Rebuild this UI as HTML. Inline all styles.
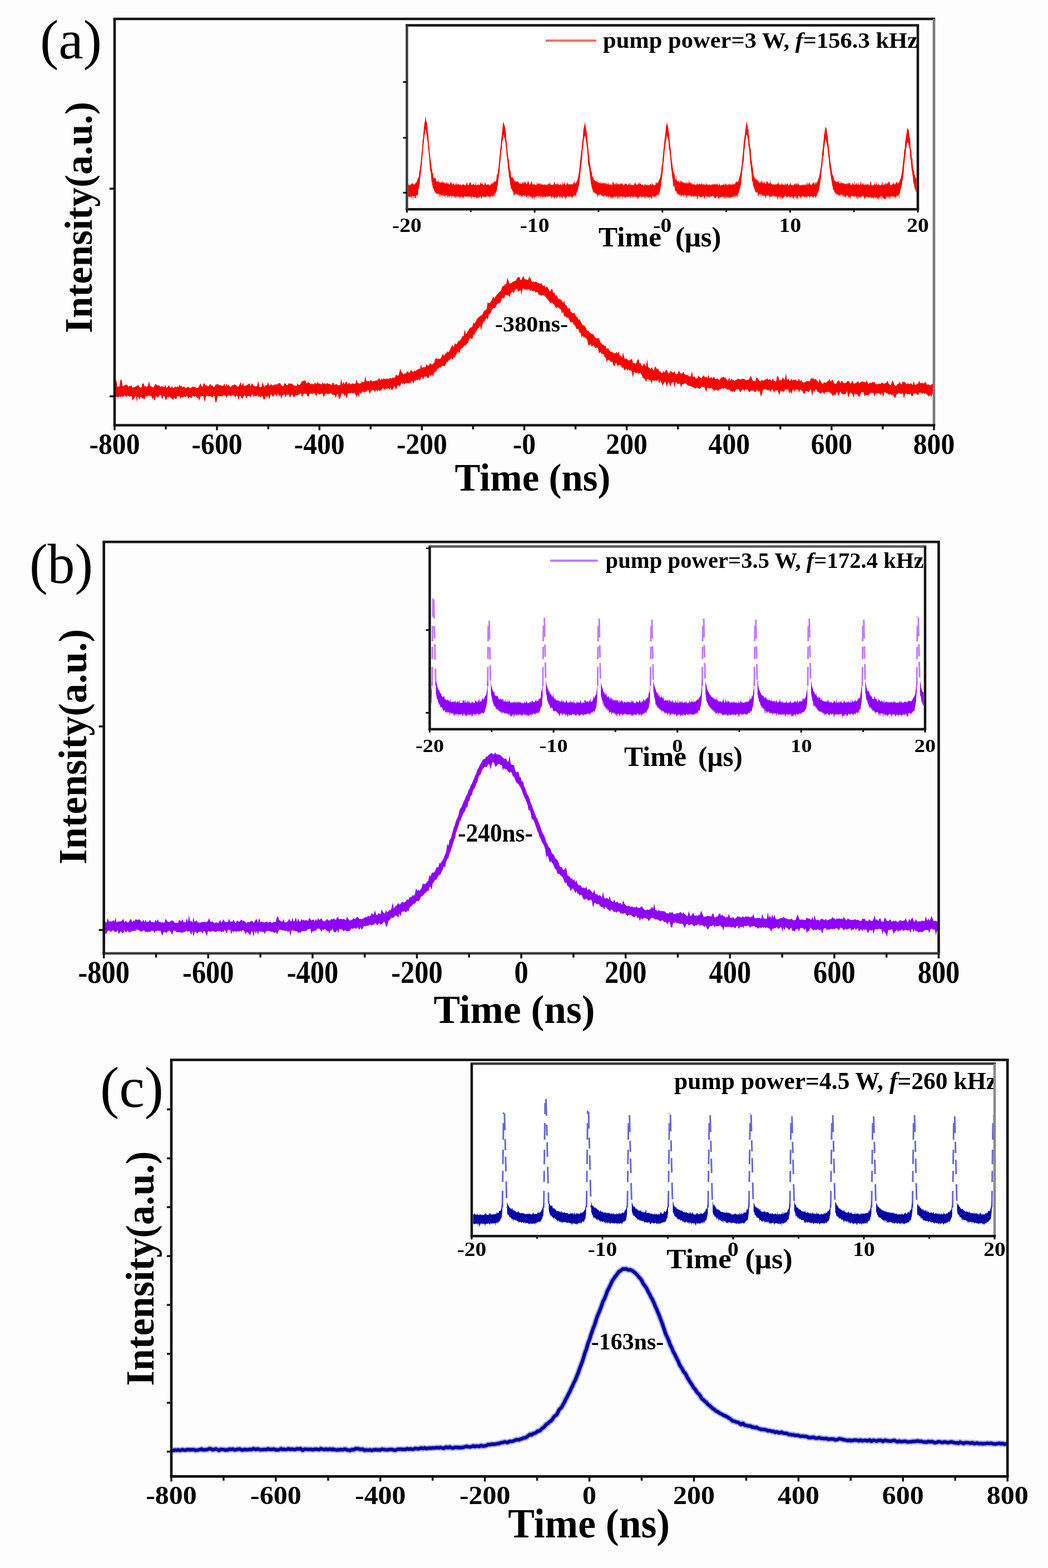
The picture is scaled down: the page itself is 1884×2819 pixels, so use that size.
<!DOCTYPE html>
<html><head><meta charset="utf-8"><style>
html,body{margin:0;padding:0;background:#fff;}
svg{display:block;font-family:"Liberation Serif","Times New Roman",serif;}
</style></head><body>
<svg width="1884" height="2819" viewBox="0 0 1884 2819">
<rect width="1884" height="2819" fill="#fdfdfd"/>
<polyline points="207.5,703.7 208.7,703.6 210,703.4 211.2,703.1 212.5,703.2 213.7,703.8 215,703.8 216.2,703.9 217.5,705 218.7,705 220,704.4 221.2,704.2 222.5,704 223.7,704.1 225,704 226.2,703.9 227.5,704.6 228.7,705.4 230,705.3 231.2,704.6 232.5,703.9 233.7,703.3 235,703.5 236.2,703.6 237.5,703.5 238.7,704.3 240,705.9 241.2,706.5 242.5,705.7 243.7,704.5 245,703.3 246.2,702.6 247.5,702.9 248.7,703.9 250,704.2 251.2,703.5 252.5,703.2 253.7,703.8 255,704.2 256.2,704.5 257.5,704.7 258.7,704.3 260,703.6 261.2,703.5 262.5,704.2 263.7,704.8 265,704.6 266.2,704.3 267.4,704.4 268.7,704.6 269.9,704.7 271.2,704.7 272.4,704.3 273.7,703.8 274.9,703.4 276.2,703.1 277.4,703.2 278.7,703.2 279.9,703.7 281.2,704 282.4,703.8 283.7,703.3 284.9,702.8 286.2,703.1 287.4,703.6 288.7,703.6 289.9,703.5 291.2,702.9 292.4,702.6 293.7,703 294.9,703.6 296.2,703.8 297.4,703.6 298.7,704.1 299.9,704.6 301.2,704.1 302.4,703.7 303.7,703.8 304.9,703.5 306.2,703 307.4,702.9 308.7,703.6 309.9,703.7 311.2,703.6 312.4,703.8 313.7,704.7 314.9,705.1 316.2,704.9 317.4,704.5 318.7,704.6 319.9,705 321.2,705 322.4,704.5 323.7,703.9 324.9,703.4 326.1,703 327.4,703.1 328.6,703.4 329.9,703.1 331.1,702.7 332.4,703.4 333.6,704 334.9,703.4 336.1,702.7 337.4,703.3 338.6,704.1 339.9,704.2 341.1,704.4 342.4,705.4 343.6,705.5 344.9,704.8 346.1,704.5 347.4,704.6 348.6,704.9 349.9,705.1 351.1,704.7 352.4,703.8 353.6,703 354.9,703 356.1,703.7 357.4,704.3 358.6,704.2 359.9,703.9 361.1,703.8 362.4,703.7 363.6,703.3 364.9,702.3 366.1,701.7 367.4,702.1 368.6,703 369.9,703.8 371.1,703.6 372.4,702.8 373.6,702.4 374.9,702.8 376.1,703.4 377.4,704 378.6,703.9 379.9,703.1 381.1,702.3 382.4,701.6 383.6,702.4 384.8,703.8 386.1,704.1 387.3,703.5 388.6,702.7 389.8,701.9 391.1,702 392.3,703.1 393.6,703.4 394.8,702.7 396.1,703.1 397.3,703.7 398.6,703.5 399.8,702.7 401.1,702.4 402.3,702.3 403.6,701.8 404.8,701.5 406.1,701.9 407.3,702.6 408.6,703 409.8,702.9 411.1,702.6 412.3,702.3 413.6,702.5 414.8,703.1 416.1,703.1 417.3,703.2 418.6,703.8 419.8,704.2 421.1,704.1 422.3,703.4 423.6,703 424.8,703 426.1,703.3 427.3,703.6 428.6,703.4 429.8,703.2 431.1,703 432.3,702.6 433.6,701.9 434.8,702.2 436.1,702.6 437.3,702.7 438.6,703.2 439.8,702.8 441.1,702 442.3,701.9 443.5,702.4 444.8,702.4 446,702.1 447.3,702.5 448.5,703 449.8,703.1 451,702.3 452.3,701.3 453.5,700.5 454.8,700.2 456,701 457.3,702.1 458.5,702.3 459.8,702.1 461,702.3 462.3,702.8 463.5,702.9 464.8,702.6 466,702.2 467.3,702 468.5,701.9 469.8,701 471,700.4 472.3,700.6 473.5,700.7 474.8,700.8 476,701.3 477.3,701.9 478.5,701.8 479.8,701.1 481,700.4 482.3,700.7 483.5,701.3 484.8,701.3 486,701.3 487.3,701.1 488.5,700.9 489.8,700.8 491,700.7 492.3,700.7 493.5,701.3 494.8,702 496,702.1 497.3,702 498.5,701 499.8,700.3 501,700.5 502.2,701.3 503.5,702.2 504.7,702.4 506,702.4 507.2,702.6 508.5,702.8 509.7,702.2 511,701.1 512.2,700.1 513.5,700 514.7,700.7 516,701.4 517.2,701.2 518.5,700.6 519.7,700.4 521,700.2 522.2,699.8 523.5,699.4 524.7,699.3 526,700.4 527.2,701.1 528.5,700.2 529.7,699.2 531,698.6 532.2,699 533.5,699.6 534.7,699.4 536,699.4 537.2,699.4 538.5,699.5 539.7,700 541,700.5 542.2,700.8 543.5,700.5 544.7,700.3 546,700.6 547.2,700.3 548.5,699.5 549.7,699.8 551,700.5 552.2,700.5 553.5,699.7 554.7,698.7 556,698.1 557.2,698.1 558.5,699.4 559.7,700.7 560.9,700.8 562.2,700 563.4,699 564.7,698.3 565.9,698.4 567.2,698.7 568.4,698.8 569.7,699 570.9,699.1 572.2,698.3 573.4,698 574.7,698.5 575.9,698.9 577.2,698.8 578.4,698.6 579.7,699 580.9,699.3 582.2,699.2 583.4,699 584.7,699.2 585.9,699.3 587.2,699 588.4,699 589.7,699.2 590.9,698.8 592.2,697.4 593.4,696.9 594.7,697.5 595.9,698.2 597.2,698.6 598.4,699 599.7,699 600.9,698.4 602.2,698.2 603.4,698.4 604.7,698.7 605.9,699.2 607.2,699.2 608.4,698.6 609.7,698.7 610.9,699.8 612.2,700.2 613.4,699.9 614.7,699.6 615.9,699.6 617.2,699.7 618.4,699.3 619.6,699.1 620.9,699.3 622.1,699 623.4,698.4 624.6,698.6 625.9,699.6 627.1,700.2 628.4,700 629.6,698.9 630.9,698.4 632.1,699 633.4,699.5 634.6,699.5 635.9,699.4 637.1,699 638.4,697.8 639.6,696.8 640.9,696.8 642.1,697.3 643.4,698 644.6,698.4 645.9,698.4 647.1,698.2 648.4,697.8 649.6,697.7 650.9,697.3 652.1,696.9 653.4,696.5 654.6,696.4 655.9,696.6 657.1,696.7 658.4,696.5 659.6,696 660.9,695.6 662.1,695.1 663.4,694.3 664.6,693.7 665.9,693.8 667.1,695 668.4,696 669.6,695.2 670.9,693.9 672.1,693.6 673.4,693.7 674.6,692.9 675.9,691.8 677.1,691.3 678.3,691.3 679.6,691.7 680.8,692.1 682.1,691.6 683.3,690.6 684.6,690 685.8,689.5 687.1,689.2 688.3,689.7 689.6,690.5 690.8,690.4 692.1,690.2 693.3,689.8 694.6,689.2 695.8,689 697.1,688.9 698.3,689 699.6,689 700.8,688.2 702.1,687.4 703.3,687.6 704.6,687.8 705.8,686.9 707.1,685.4 708.3,684.3 709.6,683.8 710.8,684 712.1,684.3 713.3,683.7 714.6,682.5 715.8,682.2 717.1,682.5 718.3,682.9 719.6,682.7 720.8,681.7 722.1,680.9 723.3,680.6 724.6,680.2 725.8,679.4 727.1,679.1 728.3,679.8 729.6,681 730.8,681.1 732.1,679.6 733.3,678.2 734.6,677.7 735.8,677.6 737,677.3 738.3,676.7 739.5,676.5 740.8,676.6 742,676.6 743.3,676.5 744.5,676.2 745.8,675.1 747,674.2 748.3,674.1 749.5,673.9 750.8,673.6 752,673.4 753.3,672.6 754.5,671.9 755.8,671.8 757,671.8 758.3,671 759.5,670.1 760.8,669.5 762,669.4 763.3,669 764.5,669 765.8,669.1 767,668.8 768.3,667.7 769.5,666.1 770.8,665.2 772,664.9 773.3,664.5 774.5,663.9 775.8,662.6 777,661.4 778.3,661 779.5,660.5 780.8,659.1 782,658 783.3,657.3 784.5,656.5 785.8,655.2 787,654.4 788.3,654.2 789.5,654.4 790.8,654.4 792,653.2 793.3,651.5 794.5,650.3 795.7,648.1 797,646.1 798.2,645.5 799.5,645.5 800.7,644.5 802,643.1 803.2,642.5 804.5,642 805.7,641.2 807,640.2 808.2,639.4 809.5,638 810.7,636.7 812,636.1 813.2,635.2 814.5,634.1 815.7,632.6 817,630.6 818.2,628.9 819.5,627.4 820.7,626.3 822,625.7 823.2,625.2 824.5,624.5 825.7,623 827,620.9 828.2,619.9 829.5,620 830.7,618.5 832,615.4 833.2,612.9 834.5,611.6 835.7,611 837,610.2 838.2,608.8 839.5,606.9 840.7,604.9 842,603.3 843.2,601.8 844.5,600.4 845.7,599 847,597.1 848.2,595 849.5,593.5 850.7,592.2 852,590.6 853.2,589.1 854.4,587.5 855.7,586.1 856.9,584.9 858.2,583.5 859.4,582.4 860.7,581.4 861.9,579.9 863.2,578.1 864.4,576.1 865.7,574.1 866.9,572.5 868.2,571.3 869.4,569 870.7,566.3 871.9,564.6 873.2,563.9 874.4,562.7 875.7,561.1 876.9,559.4 878.2,557.7 879.4,556 880.7,554.3 881.9,553.4 883.2,552.4 884.4,550.3 885.7,547.4 886.9,545.3 888.2,544.1 889.4,543.6 890.7,542.8 891.9,540.8 893.2,538.7 894.4,537.7 895.7,536.8 896.9,535.7 898.2,534.5 899.4,533 900.7,532.1 901.9,530.7 903.2,528.2 904.4,526.8 905.7,526.6 906.9,525.8 908.2,523.5 909.4,522.1 910.7,521 911.9,519.6 913.1,518.3 914.4,517.4 915.6,516.7 916.9,516.2 918.1,516 919.4,514.9 920.6,513.9 921.9,513.4 923.1,513.1 924.4,512.7 925.6,512.3 926.9,512.5 928.1,513.1 929.4,512.7 930.6,511.8 931.9,511.1 933.1,510.4 934.4,509.7 935.6,508.9 936.9,508.6 938.1,509.3 939.4,510.2 940.6,510.4 941.9,510.3 943.1,510.2 944.4,510.3 945.6,510.6 946.9,510.6 948.1,510.2 949.4,509.8 950.6,510.5 951.9,511.9 953.1,512.6 954.4,512.2 955.6,512 956.9,513 958.1,513.5 959.4,513.6 960.6,513.9 961.9,514.9 963.1,516.3 964.4,516.7 965.6,516.1 966.9,516.5 968.1,517.5 969.4,517.9 970.6,518.1 971.9,519.6 973.1,521 974.3,521.3 975.6,522 976.8,523.1 978.1,523.3 979.3,523.1 980.6,523.4 981.8,524.4 983.1,525.7 984.3,527.2 985.6,528.7 986.8,530.3 988.1,532.2 989.3,533.5 990.6,533.7 991.8,534.1 993.1,535.9 994.3,537.4 995.6,538.5 996.8,539.3 998.1,540.3 999.3,541.5 1000.6,543 1001.8,544.3 1003.1,545.1 1004.3,546.2 1005.6,547.2 1006.8,547.8 1008.1,548.4 1009.3,549.4 1010.6,550.1 1011.8,551.7 1013.1,554.1 1014.3,556.6 1015.6,558.5 1016.8,559.8 1018.1,560.8 1019.3,561.9 1020.6,563.4 1021.8,564.6 1023.1,565.2 1024.3,565.4 1025.6,566.6 1026.8,568.4 1028.1,569.8 1029.3,571.1 1030.6,573.6 1031.8,575.8 1033,577.1 1034.3,578.2 1035.5,579.7 1036.8,580.9 1038,582.2 1039.3,583.4 1040.5,584.5 1041.8,585.9 1043,587.7 1044.3,589.9 1045.5,591.8 1046.8,593.1 1048,594 1049.3,595 1050.5,596.4 1051.8,597.6 1053,598 1054.3,598.6 1055.5,599.6 1056.8,600.6 1058,602.1 1059.3,603.6 1060.5,604.7 1061.8,606.3 1063,608 1064.3,609.4 1065.5,610.8 1066.8,612 1068,612.5 1069.3,613.4 1070.5,614.9 1071.8,616.1 1073,617.1 1074.3,618.6 1075.5,619.9 1076.8,620.8 1078,621.9 1079.3,623.7 1080.5,625.7 1081.8,627.1 1083,628.1 1084.3,629.3 1085.5,631 1086.8,631.8 1088,631.5 1089.3,631.8 1090.5,634.1 1091.7,636.4 1093,636.8 1094.2,637.2 1095.5,638.4 1096.7,639.3 1098,640.1 1099.2,640.7 1100.5,641 1101.7,642.2 1103,643.5 1104.2,644.2 1105.5,644.9 1106.7,645.8 1108,647 1109.2,647.5 1110.5,647.1 1111.7,647.4 1113,648.1 1114.2,648.4 1115.5,648.7 1116.7,649.5 1118,650.2 1119.2,651 1120.5,652.1 1121.7,653.3 1123,654 1124.2,654.5 1125.5,654.6 1126.7,654.2 1128,654.8 1129.2,655.7 1130.5,656.1 1131.7,656.5 1133,657.4 1134.2,657.8 1135.5,658.5 1136.7,659.5 1138,659.8 1139.2,659.5 1140.5,659.9 1141.7,660.9 1143,661.9 1144.2,662.3 1145.5,662.1 1146.7,661.9 1148,662.6 1149.2,663.7 1150.4,664.1 1151.7,664.9 1152.9,665.8 1154.2,666.8 1155.4,667.6 1156.7,668 1157.9,667.8 1159.2,667.4 1160.4,667.3 1161.7,667.9 1162.9,668.7 1164.2,669.9 1165.4,671.1 1166.7,671.7 1167.9,672 1169.2,672.1 1170.4,672.1 1171.7,671.5 1172.9,671.1 1174.2,672 1175.4,673.2 1176.7,674.1 1177.9,674.5 1179.2,675.1 1180.4,675.8 1181.7,676 1182.9,675.9 1184.2,675.7 1185.4,675.3 1186.7,675.8 1187.9,676.9 1189.2,677.4 1190.4,676.9 1191.7,676.7 1192.9,677.8 1194.2,678.8 1195.4,678.6 1196.7,678.3 1197.9,678.5 1199.2,679.3 1200.4,680.3 1201.7,680.8 1202.9,680.4 1204.2,680.2 1205.4,680.6 1206.7,680.3 1207.9,679.8 1209.1,679.6 1210.4,679.7 1211.6,680 1212.9,680.3 1214.1,680.6 1215.4,680.8 1216.6,680.8 1217.9,680.7 1219.1,680.7 1220.4,681.1 1221.6,681.4 1222.9,681.7 1224.1,681.7 1225.4,680.8 1226.6,680.6 1227.9,681.7 1229.1,682.7 1230.4,683.1 1231.6,682.8 1232.9,683.1 1234.1,684.1 1235.4,684.1 1236.6,683.5 1237.9,683.5 1239.1,683.9 1240.4,684.4 1241.6,685 1242.9,685.1 1244.1,684.7 1245.4,685.1 1246.6,686.3 1247.9,687.2 1249.1,687.2 1250.4,686.9 1251.6,687.1 1252.9,686.9 1254.1,686.7 1255.4,687 1256.6,687.8 1257.9,689.2 1259.1,689.2 1260.4,688.1 1261.6,687.2 1262.9,687.2 1264.1,687.9 1265.4,688.4 1266.6,688.2 1267.8,688.3 1269.1,688.5 1270.3,688.1 1271.6,687.9 1272.8,688.7 1274.1,689.4 1275.3,689.2 1276.6,688.2 1277.8,687.5 1279.1,688.2 1280.3,690.1 1281.6,691.8 1282.8,692 1284.1,690.7 1285.3,689.5 1286.6,689.8 1287.8,690.6 1289.1,691.1 1290.3,691.3 1291.6,691.2 1292.8,690 1294.1,689.2 1295.3,689.5 1296.6,690.8 1297.8,692 1299.1,691.5 1300.3,691.1 1301.6,691.7 1302.8,692.3 1304.1,692.2 1305.3,692.3 1306.6,692.5 1307.8,692.3 1309.1,692 1310.3,692.4 1311.6,692.8 1312.8,692.8 1314.1,692.8 1315.3,692.6 1316.6,692.1 1317.8,692.1 1319.1,692.2 1320.3,692.4 1321.6,692.9 1322.8,692.4 1324.1,691.4 1325.3,691.2 1326.5,691.3 1327.8,691.6 1329,692 1330.3,692.3 1331.5,692.6 1332.8,692.7 1334,692.3 1335.3,692 1336.5,692.1 1337.8,692.2 1339,691.9 1340.3,692.4 1341.5,692.6 1342.8,692 1344,691.1 1345.3,691.6 1346.5,692.6 1347.8,693 1349,692.7 1350.3,692 1351.5,691.7 1352.8,692 1354,692.6 1355.3,692.8 1356.5,692.5 1357.8,692.2 1359,692.1 1360.3,692.1 1361.5,691.9 1362.8,692 1364,692.1 1365.3,692.1 1366.5,692.5 1367.8,693 1369,692.9 1370.3,693.2 1371.5,693.7 1372.8,693.6 1374,693.2 1375.3,692.6 1376.5,691.7 1377.8,691.3 1379,691.8 1380.3,692.4 1381.5,693.3 1382.8,694.3 1384,694.3 1385.2,693.4 1386.5,692.7 1387.7,692.3 1389,692.2 1390.2,692.4 1391.5,693 1392.7,692.9 1394,692.7 1395.2,692.7 1396.5,693.6 1397.7,694.3 1399,694.2 1400.2,693 1401.5,691.7 1402.7,691.5 1404,692.3 1405.2,693.1 1406.5,692.8 1407.7,692.7 1409,693.2 1410.2,693.5 1411.5,693.1 1412.7,692.2 1414,691.1 1415.2,690.9 1416.5,691.8 1417.7,693.4 1419,694 1420.2,693.7 1421.5,693.9 1422.7,694.2 1424,694.3 1425.2,694.3 1426.5,694.1 1427.7,692.9 1429,691.5 1430.2,691.7 1431.5,693.2 1432.7,693.4 1434,692.6 1435.2,692.7 1436.5,692.8 1437.7,692.4 1439,692.4 1440.2,693.5 1441.5,694.4 1442.7,695.1 1443.9,695.6 1445.2,696 1446.4,695.9 1447.7,695.2 1448.9,694.5 1450.2,694.3 1451.4,694.4 1452.7,694.2 1453.9,694.3 1455.2,695 1456.4,694.4 1457.7,692.9 1458.9,692.7 1460.2,693.5 1461.4,694.4 1462.7,695.3 1463.9,695.8 1465.2,696.1 1466.4,696.4 1467.7,696.4 1468.9,695.9 1470.2,695.9 1471.4,696.1 1472.7,696.4 1473.9,696.7 1475.2,696.9 1476.4,696.4 1477.7,695.7 1478.9,695.3 1480.2,695.4 1481.4,696.2 1482.7,696.5 1483.9,695.6 1485.2,694.9 1486.4,695.2 1487.7,695.7 1488.9,695.8 1490.2,695.8 1491.4,695.9 1492.7,696.3 1493.9,696.9 1495.2,697 1496.4,697.1 1497.7,697.2 1498.9,697 1500.2,696.8 1501.4,696.5 1502.6,696.4 1503.9,696.5 1505.1,696.5 1506.4,695.9 1507.6,695.6 1508.9,695.9 1510.1,696.7 1511.4,697.4 1512.6,697.3 1513.9,697.1 1515.1,697.4 1516.4,697.6 1517.6,697.3 1518.9,696.7 1520.1,696 1521.4,696.7 1522.6,698.2 1523.9,698.7 1525.1,698.1 1526.4,697.6 1527.6,697.8 1528.9,698.1 1530.1,698.8 1531.4,699 1532.6,698.3 1533.9,697.8 1535.1,697.9 1536.4,697.7 1537.6,697.4 1538.9,697.4 1540.1,697.8 1541.4,698.4 1542.6,699.1 1543.9,699.9 1545.1,700.2 1546.4,699.4 1547.6,698.5 1548.9,697.8 1550.1,697.5 1551.4,697.7 1552.6,698.5 1553.9,698.6 1555.1,698.4 1556.4,698.5 1557.6,698.6 1558.9,698.6 1560.1,699.3 1561.3,699.8 1562.6,698.9 1563.8,697.9 1565.1,697.9 1566.3,698.5 1567.6,698.4 1568.8,697.8 1570.1,697.7 1571.3,698 1572.6,698.7 1573.8,699.4 1575.1,699.1 1576.3,698.5 1577.6,697.8 1578.8,697.1 1580.1,697.1 1581.3,697.8 1582.6,698.2 1583.8,698.7 1585.1,699.7 1586.3,700.2 1587.6,700.3 1588.8,700.2 1590.1,700.2 1591.3,700.3 1592.6,699.1 1593.8,697.3 1595.1,697.1 1596.3,698.4 1597.6,699.6 1598.8,700.1 1600.1,700.2 1601.3,699.9 1602.6,699.7 1603.8,699.5 1605.1,699.1 1606.3,699.3 1607.6,700 1608.8,700.6 1610.1,700.7 1611.3,700.2 1612.6,699.7 1613.8,700 1615.1,700.3 1616.3,700.2 1617.6,700.3 1618.8,700.6 1620,700.6 1621.3,700.2 1622.5,700 1623.8,699.8 1625,699.5 1626.3,699 1627.5,698.8 1628.8,698.8 1630,699.4 1631.3,700.2 1632.5,700.5 1633.8,700.5 1635,700.4 1636.3,700.4 1637.5,700.2 1638.8,700.2 1640,699.9 1641.3,699.3 1642.5,699.4 1643.8,700 1645,700.4 1646.3,701.2 1647.5,701.9 1648.8,701.4 1650,700.6 1651.3,700.2 1652.5,699.8 1653.8,699.7 1655,699.8 1656.3,699.6 1657.5,699.6 1658.8,699.7 1660,699.5 1661.3,699.6 1662.5,700.4 1663.8,700.6 1665,700 1666.3,699.2 1667.5,698.9 1668.8,699.5 1670,699.9 1671.3,699.9 1672.5,699.4 1673.8,699.4 1675,700.2 1676.3,700.9 1677.5,700.9" fill="none" stroke="#ff0000" stroke-width="7" stroke-linejoin="round"/>
<polygon points="207,688.8 209,683.4 210.9,695.5 212.9,695.3 214.9,693.9 216.8,682.1 218.8,683.5 220.7,694.9 222.7,693.3 224.7,692.6 226.6,691.6 228.6,691.6 230.6,695.6 232.5,694.1 234.5,694.3 236.5,692.5 238.4,697.3 240.4,696.1 242.4,695.9 244.3,694.3 246.3,693.9 248.2,691.4 250.2,694.9 252.2,697.1 254.1,696.8 256.1,689.8 258.1,689.3 260,695.1 262,694 264,695.7 265.9,693.4 267.9,685.3 269.8,693.9 271.8,694.2 273.8,696.5 275.7,696.2 277.7,694.1 279.7,690.1 281.6,691.9 283.6,693.3 285.6,692.3 287.5,694.7 289.5,695.2 291.4,694 293.4,696.1 295.4,696.1 297.3,691.8 299.3,697 301.3,695.9 303.2,692.5 305.2,695.4 307.2,697.6 309.1,694.2 311.1,697.6 313.1,697.3 315,694.6 317,696.8 318.9,694.2 320.9,696.5 322.9,691.3 324.8,694.9 326.8,693.2 328.8,697 330.7,694.2 332.7,697.1 334.7,697.6 336.6,695.5 338.6,696.1 340.5,696.7 342.5,698.1 344.5,696.2 346.4,694.7 348.4,695.7 350.4,695.2 352.3,697.1 354.3,697.9 356.3,697.1 358.2,693.8 360.2,689.3 362.2,693.6 364.1,696.1 366.1,689 368,690.3 370,693.8 372,691.8 373.9,695.2 375.9,693.3 377.9,690.1 379.8,693.1 381.8,692.8 383.8,695.9 385.7,695.4 387.7,691.3 389.6,691.2 391.6,689.9 393.6,693.1 395.5,692 397.5,693.2 399.5,693.5 401.4,693.7 403.4,689.6 405.4,695.4 407.3,689.5 409.3,694.5 411.3,690.7 413.2,696 415.2,694.9 417.1,692.8 419.1,692.4 421.1,691.2 423,691.4 425,693.3 427,694.9 428.9,694.7 430.9,691.1 432.9,686.7 434.8,694.1 436.8,687.8 438.7,693.9 440.7,693.5 442.7,692.8 444.6,692 446.6,690.3 448.6,689.5 450.5,694.8 452.5,688.9 454.5,691.3 456.4,693.7 458.4,694.3 460.3,694.7 462.3,693.4 464.3,684.2 466.2,695.4 468.2,696.1 470.2,695.5 472.1,686.7 474.1,693.7 476.1,695.4 478,691.8 480,692.9 482,687.3 483.9,693.4 485.9,692.6 487.8,690.2 489.8,693.7 491.8,692.1 493.7,691.8 495.7,690.7 497.7,691.8 499.6,690.1 501.6,689.1 503.6,688.6 505.5,692.4 507.5,694.1 509.4,694.3 511.4,688.8 513.4,690.1 515.3,692.5 517.3,692.3 519.3,688.6 521.2,690.3 523.2,690 525.2,689.2 527.1,693.1 529.1,692.7 531.1,693.6 533,694 535,688.8 536.9,692.8 538.9,691.8 540.9,689.5 542.8,684.9 544.8,685.6 546.8,684.2 548.7,683.5 550.7,689.5 552.7,688 554.6,686.8 556.6,688.8 558.5,691.3 560.5,689.6 562.5,690.7 564.4,691.3 566.4,686.9 568.4,691.3 570.3,686.3 572.3,689.6 574.3,689.3 576.2,690.2 578.2,691.8 580.2,687.1 582.1,690.7 584.1,688.2 586,691.5 588,688.1 590,690.4 591.9,690.1 593.9,690.2 595.9,692.7 597.8,688.4 599.8,688.2 601.8,692.8 603.7,690 605.7,691 607.6,692.8 609.6,692.4 611.6,692 613.5,680.9 615.5,691.5 617.5,686.2 619.4,690.9 621.4,687 623.4,685.9 625.3,691.5 627.3,687.2 629.2,690.5 631.2,691.1 633.2,688.8 635.1,690.3 637.1,689.4 639.1,689.9 641,681.5 643,689.1 645,688.8 646.9,690 648.9,689.1 650.9,685.7 652.8,687.6 654.8,686.9 656.7,676.6 658.7,684.8 660.7,685.8 662.6,684.6 664.6,686.5 666.6,682.5 668.5,685.5 670.5,685.8 672.5,684.7 674.4,684.7 676.4,683.8 678.3,684.4 680.3,681.6 682.3,680 684.2,684.1 686.2,680.3 688.2,682.7 690.1,679.8 692.1,682.1 694.1,681.6 696,680 698,681.9 700,679.7 701.9,679.8 703.9,680.9 705.8,679.1 707.8,679.2 709.8,678.8 711.7,673.8 713.7,674.6 715.7,675.9 717.6,671.4 719.6,662.4 721.6,668.8 723.5,670.3 725.5,673.6 727.4,671.5 729.4,671.5 731.4,669 733.3,667 735.3,670.9 737.3,668.1 739.2,665 741.2,667.8 743.2,668.7 745.1,665.8 747.1,667.5 749.1,664.8 751,664.8 753,662.5 754.9,664.1 756.9,655 758.9,662.3 760.8,660 762.8,660.1 764.8,660.6 766.7,654.9 768.7,657.6 770.7,657 772.6,653.4 774.6,653.5 776.5,655.8 778.5,653.6 780.5,652.3 782.4,645.1 784.4,643.9 786.4,645.8 788.3,644.5 790.3,645.7 792.3,644.2 794.2,640.3 796.2,636 798.1,640.2 800.1,635.7 802.1,635.6 804,631.6 806,633.8 808,630.4 809.9,626.8 811.9,622.1 813.9,620 815.8,624.8 817.8,616.7 819.8,619.1 821.7,618 823.7,613.1 825.6,613.1 827.6,611.2 829.6,608.3 831.5,604 833.5,604.6 835.5,591.7 837.4,601.2 839.4,598.2 841.4,594.8 843.3,591.5 845.3,588.9 847.2,588.7 849.2,587 851.2,579.3 853.1,582.1 855.1,577.9 857.1,574.3 859,571.4 861,570 863,568.5 864.9,566.9 866.9,566.7 868.9,561.3 870.8,558.5 872.8,557.6 874.7,555.7 876.7,543.6 878.7,545.1 880.6,545 882.6,541.5 884.6,538.9 886.5,532.4 888.5,536.5 890.5,533.5 892.4,530.7 894.4,528.5 896.3,526.1 898.3,524.6 900.3,522.7 902.2,517.3 904.2,514.1 906.2,514 908.1,510.6 910.1,511 912.1,499.4 914,504.7 916,509.9 918,509.3 919.9,509.1 921.9,506.2 923.8,505.9 925.8,505 927.8,504.1 929.7,499.8 931.7,497.7 933.7,497.9 935.6,503.2 937.6,503.3 939.6,498 941.5,496.4 943.5,502.6 945.4,502 947.4,503 949.4,503.3 951.3,497.6 953.3,499.3 955.3,505.2 957.2,506.9 959.2,506.3 961.2,507.4 963.1,506.1 965.1,507.5 967,509 969,509 971,510.2 972.9,509 974.9,511.9 976.9,514.6 978.8,512.8 980.8,517.3 982.8,514.9 984.7,517.3 986.7,521.2 988.7,524.3 990.6,520.8 992.6,518.7 994.5,526.9 996.5,525 998.5,532.5 1000.4,530 1002.4,534.3 1004.4,537.7 1006.3,537.4 1008.3,538.4 1010.3,540.9 1012.2,544.6 1014.2,540.8 1016.1,547.9 1018.1,548.6 1020.1,553.8 1022,555.2 1024,553.3 1026,560.9 1027.9,561.4 1029.9,563.9 1031.9,561.7 1033.8,564.9 1035.8,569.5 1037.8,569.6 1039.7,574.9 1041.7,573.5 1043.6,577.5 1045.6,581.3 1047.6,584.7 1049.5,584.7 1051.5,586.6 1053.5,589.7 1055.4,594.4 1057.4,594.4 1059.4,597 1061.3,599.1 1063.3,600 1065.2,600.4 1067.2,602.1 1069.2,605.9 1071.1,608.1 1073.1,608.2 1075.1,608.6 1077,607.8 1079,615 1081,616.5 1082.9,619.7 1084.9,619.4 1086.9,622.5 1088.8,621.5 1090.8,627.9 1092.7,625.1 1094.7,628.4 1096.7,631.9 1098.6,632.6 1100.6,633.2 1102.6,633.7 1104.5,636.1 1106.5,635.1 1108.5,632.4 1110.4,636 1112.4,631.2 1114.3,641 1116.3,638.2 1118.3,643.2 1120.2,633.5 1122.2,643.2 1124.2,645.8 1126.1,643.7 1128.1,646.8 1130.1,648.6 1132,647.3 1134,646.8 1135.9,644.6 1137.9,652.5 1139.9,652.7 1141.8,653.5 1143.8,653 1145.8,647.2 1147.7,645.5 1149.7,653.9 1151.7,652.4 1153.6,657.9 1155.6,658.1 1157.6,652.7 1159.5,656.5 1161.5,659.1 1163.4,646.1 1165.4,660.7 1167.4,660.8 1169.3,664.6 1171.3,660 1173.3,663.3 1175.2,666.8 1177.2,659.3 1179.2,659.7 1181.1,664.2 1183.1,662.1 1185,667.8 1187,667.6 1189,670.5 1190.9,670.4 1192.9,666.8 1194.9,670 1196.8,665 1198.8,665.5 1200.8,670 1202.7,671.8 1204.7,667.1 1206.7,667.9 1208.6,669.3 1210.6,670.4 1212.5,667.1 1214.5,672.4 1216.5,672.4 1218.4,671.9 1220.4,665.4 1222.4,670.4 1224.3,671.6 1226.3,672.1 1228.3,668.2 1230.2,672.4 1232.2,674 1234.1,673.4 1236.1,674.6 1238.1,676 1240,677.2 1242,675.4 1244,667.2 1245.9,678.8 1247.9,675.7 1249.9,679.3 1251.8,680.8 1253.8,680.3 1255.8,675.1 1257.7,678 1259.7,679.6 1261.6,679.7 1263.6,675.7 1265.6,675.1 1267.5,679 1269.5,676.5 1271.5,680.4 1273.4,673.4 1275.4,680 1277.4,678.9 1279.3,678.1 1281.3,680.7 1283.2,677.1 1285.2,680.8 1287.2,681.8 1289.1,680.4 1291.1,680.9 1293.1,684.1 1295,680.8 1297,678.5 1299,678.8 1300.9,676.9 1302.9,679.2 1304.8,679.7 1306.8,683.3 1308.8,684.5 1310.7,678.2 1312.7,685.4 1314.7,680.3 1316.6,683.4 1318.6,682.8 1320.6,684.9 1322.5,683 1324.5,682.8 1326.5,680.5 1328.4,682 1330.4,681.4 1332.3,682.5 1334.3,680.4 1336.3,681.4 1338.2,681.1 1340.2,683.6 1342.2,683.4 1344.1,682.2 1346.1,683.1 1348.1,678.1 1350,675.9 1352,681.8 1353.9,685 1355.9,684.7 1357.9,685.6 1359.8,678.5 1361.8,679.4 1363.8,682.9 1365.7,685.4 1367.7,685.7 1369.7,682.3 1371.6,685.1 1373.6,683.3 1375.6,681.9 1377.5,682.3 1379.5,679.9 1381.4,683.5 1383.4,681.4 1385.4,682.9 1387.3,685 1389.3,679.9 1391.3,684.4 1393.2,685.5 1395.2,685.8 1397.2,675.8 1399.1,677.1 1401.1,684.3 1403,683.1 1405,683.7 1407,678.6 1408.9,680.7 1410.9,683.1 1412.9,671.3 1414.8,684.1 1416.8,680.1 1418.8,684.3 1420.7,684.8 1422.7,680.3 1424.7,684.4 1426.6,681.9 1428.6,683.4 1430.5,681.9 1432.5,684.9 1434.5,684.4 1436.4,681 1438.4,685.7 1440.4,682.7 1442.3,686.5 1444.3,687.7 1446.3,687.4 1448.2,686.2 1450.2,685.2 1452.1,684.8 1454.1,685.8 1456.1,685 1458,679.6 1460,681 1462,679.4 1463.9,683.1 1465.9,680.8 1467.9,683.4 1469.8,685.1 1471.8,687.5 1473.7,681.1 1475.7,686.5 1477.7,689.6 1479.6,689.9 1481.6,686.8 1483.6,688.3 1485.5,687.8 1487.5,685.3 1489.5,685.1 1491.4,681 1493.4,686.4 1495.4,683.6 1497.3,682.8 1499.3,689.1 1501.2,690.3 1503.2,689.7 1505.2,685.9 1507.1,683.8 1509.1,685.3 1511.1,689.1 1513,684.3 1515,686.3 1517,689.3 1518.9,688.4 1520.9,688.4 1522.8,685.4 1524.8,684.7 1526.8,686.2 1528.7,690.1 1530.7,688 1532.7,684 1534.6,690.1 1536.6,689.7 1538.6,688.3 1540.5,687.4 1542.5,684.7 1544.5,689.4 1546.4,687.5 1548.4,686.8 1550.3,685.6 1552.3,686.5 1554.3,687.1 1556.2,687.6 1558.2,683.6 1560.2,688.8 1562.1,690.7 1564.1,687.3 1566.1,688.9 1568,686.8 1570,687.5 1571.9,686.2 1573.9,690.7 1575.9,689.9 1577.8,691.6 1579.8,689.2 1581.8,690.4 1583.7,689.4 1585.7,687.4 1587.7,689.6 1589.6,689.7 1591.6,688.8 1593.6,687.7 1595.5,684.3 1597.5,689.7 1599.4,691.3 1601.4,692.9 1603.4,685.6 1605.3,684.7 1607.3,690.5 1609.3,693.6 1611.2,693.5 1613.2,690.5 1615.2,690.2 1617.1,686 1619.1,690 1621,691.2 1623,685.4 1625,687.3 1626.9,686.8 1628.9,690.7 1630.9,690.2 1632.8,689 1634.8,691.4 1636.8,689 1638.7,689.7 1640.7,692.5 1642.6,685.3 1644.6,691.3 1646.6,692 1648.5,688.9 1650.5,690.5 1652.5,684.2 1654.4,689 1656.4,688.5 1658.4,688.8 1660.3,689.6 1662.3,687.9 1664.3,686.6 1666.2,691.9 1668.2,691.1 1670.1,691.5 1672.1,693.1 1674.1,691.8 1676,690 1678,688.9 1678,711.1 1676,707.7 1674.1,714.5 1672.1,709.2 1670.1,713.3 1668.2,711 1666.2,709 1664.3,706.8 1662.3,708.4 1660.3,705.9 1658.4,707.3 1656.4,706.5 1654.4,705.8 1652.5,705.8 1650.5,710.5 1648.5,708.7 1646.6,707.5 1644.6,707.4 1642.6,707.3 1640.7,711.9 1638.7,712.2 1636.8,707.1 1634.8,709.7 1632.8,707.7 1630.9,710.1 1628.9,706.2 1626.9,709.7 1625,716.3 1623,706.3 1621,708.8 1619.1,708.1 1617.1,706.4 1615.2,706.5 1613.2,708.8 1611.2,709.4 1609.3,715.9 1607.3,713.7 1605.3,708.4 1603.4,711.3 1601.4,708.2 1599.4,708.9 1597.5,709.5 1595.5,706.5 1593.6,707.6 1591.6,705 1589.6,706 1587.7,714.2 1585.7,705.3 1583.7,710.6 1581.8,708.1 1579.8,706.7 1577.8,707 1575.9,707.6 1573.9,707.5 1571.9,712.7 1570,706.1 1568,706.4 1566.1,706.2 1564.1,706.4 1562.1,709.7 1560.2,710.3 1558.2,710.3 1556.2,709.9 1554.3,712.7 1552.3,705.1 1550.3,705 1548.4,705 1546.4,710.8 1544.5,713.8 1542.5,711.3 1540.5,707.7 1538.6,709.5 1536.6,707 1534.6,714.8 1532.7,709.2 1530.7,706.9 1528.7,705.4 1526.8,709.7 1524.8,714.9 1522.8,703.1 1520.9,707 1518.9,708.9 1517,708.3 1515,709.2 1513,707.4 1511.1,703.7 1509.1,707.3 1507.1,712 1505.2,705.1 1503.2,706.6 1501.2,711.7 1499.3,708.8 1497.3,712.5 1495.4,708.8 1493.4,706.7 1491.4,705.8 1489.5,703.2 1487.5,705.5 1485.5,705 1483.6,705.1 1481.6,709.3 1479.6,705.1 1477.7,705.2 1475.7,708.2 1473.7,706.5 1471.8,704.9 1469.8,704.2 1467.9,700.4 1465.9,699.7 1463.9,705 1462,702.3 1460,712 1458,700.1 1456.1,700.3 1454.1,705.2 1452.1,704 1450.2,703.1 1448.2,703.5 1446.3,707.5 1444.3,707.1 1442.3,702.2 1440.4,702.5 1438.4,699.8 1436.4,706.2 1434.5,699.7 1432.5,700.6 1430.5,699.7 1428.6,704.6 1426.6,700 1424.7,701.5 1422.7,708.4 1420.7,703.6 1418.8,707.4 1416.8,699.2 1414.8,700.6 1412.9,699.6 1410.9,701.3 1408.9,705.2 1407,702.4 1405,704.3 1403,702 1401.1,710.9 1399.1,704.4 1397.2,700.9 1395.2,702.3 1393.2,701.9 1391.3,705.9 1389.3,700.3 1387.3,699.8 1385.4,704.4 1383.4,700.9 1381.4,701.7 1379.5,701.9 1377.5,700.1 1375.6,700.1 1373.6,699.7 1371.6,701.1 1369.7,708.7 1367.7,713 1365.7,702.6 1363.8,704.4 1361.8,701.7 1359.8,701.4 1357.9,705.2 1355.9,703.7 1353.9,701.9 1352,702.2 1350,702.3 1348.1,704.1 1346.1,704.9 1344.1,700.3 1342.2,700.2 1340.2,699.4 1338.2,703.1 1336.3,700 1334.3,700.6 1332.3,702.7 1330.4,705.4 1328.4,700.1 1326.5,699.6 1324.5,699.3 1322.5,701.4 1320.6,705.1 1318.6,702.9 1316.6,704.5 1314.7,703.3 1312.7,702.3 1310.7,700.3 1308.8,700.2 1306.8,700.2 1304.8,699 1302.9,696.7 1300.9,699.7 1299,697.5 1297,698.4 1295,699.5 1293.1,699.5 1291.1,702.8 1289.1,701.7 1287.2,700.2 1285.2,702.5 1283.2,701.6 1281.3,699.7 1279.3,696.7 1277.4,698.1 1275.4,698.6 1273.4,697.9 1271.5,696.6 1269.5,704.8 1267.5,698.2 1265.6,695.8 1263.6,695.5 1261.6,695.2 1259.7,697.6 1257.7,699.3 1255.8,698.4 1253.8,696.4 1251.8,697.3 1249.9,698.8 1247.9,697.6 1245.9,695.7 1244,695.4 1242,694 1240,694 1238.1,693.2 1236.1,692.4 1234.1,690.6 1232.2,689 1230.2,689.2 1228.3,691.5 1226.3,690.2 1224.3,696.5 1222.4,689.6 1220.4,689.9 1218.4,690.7 1216.5,687.2 1214.5,687.4 1212.5,697 1210.6,686.5 1208.6,687.2 1206.7,689.6 1204.7,695.5 1202.7,686.4 1200.8,688.4 1198.8,695.2 1196.8,687.1 1194.9,687.1 1192.9,690 1190.9,693.1 1189,687.2 1187,683.7 1185,689.4 1183.1,681.8 1181.1,685.3 1179.2,683.3 1177.2,684.4 1175.2,684.2 1173.3,683.3 1171.3,690.4 1169.3,683.5 1167.4,683 1165.4,681.8 1163.4,680.5 1161.5,687 1159.5,682.4 1157.6,679.8 1155.6,679.7 1153.6,673.6 1151.7,671.1 1149.7,670.7 1147.7,672 1145.8,669.5 1143.8,671.1 1141.8,669.6 1139.9,668.4 1137.9,679.3 1135.9,668.1 1134,665.5 1132,666.8 1130.1,663.3 1128.1,666.4 1126.1,662.2 1124.2,664.5 1122.2,665.4 1120.2,660 1118.3,662.2 1116.3,657.1 1114.3,655.8 1112.4,655.8 1110.4,658.9 1108.5,653 1106.5,652.7 1104.5,658.4 1102.6,656.4 1100.6,649.6 1098.6,651.8 1096.7,648.6 1094.7,647.2 1092.7,646.7 1090.8,651 1088.8,643.4 1086.9,641.8 1084.9,636.5 1082.9,636 1081,636.1 1079,632.3 1077,636.1 1075.1,627 1073.1,624.4 1071.1,626.3 1069.2,624.6 1067.2,620.1 1065.2,621.9 1063.3,622.9 1061.3,617.7 1059.4,621.8 1057.4,619.5 1055.4,609.9 1053.5,608.5 1051.5,606 1049.5,607.6 1047.6,603.1 1045.6,606.9 1043.6,597.8 1041.7,598.6 1039.7,591.2 1037.8,591.5 1035.8,590.9 1033.8,584.9 1031.9,584.5 1029.9,580.2 1027.9,578.7 1026,580.1 1024,575.5 1022,571.8 1020.1,571 1018.1,570.6 1016.1,567.9 1014.2,569.6 1012.2,560.3 1010.3,563.8 1008.3,556.3 1006.3,555.2 1004.4,553 1002.4,552 1000.4,553.9 998.5,552.8 996.5,547.7 994.5,546 992.6,543.9 990.6,544.5 988.7,544.5 986.7,540.5 984.7,539 982.8,536.1 980.8,533.8 978.8,531.4 976.9,530.8 974.9,530.5 972.9,531.8 971,529.9 969,530.2 967,526.5 965.1,524.1 963.1,526.4 961.2,522.5 959.2,523.6 957.2,522.9 955.3,521.8 953.3,523.1 951.3,520.1 949.4,520.1 947.4,520.8 945.4,520.2 943.5,521.1 941.5,518.3 939.6,518.9 937.6,529.7 935.6,521.3 933.7,523.6 931.7,523.8 929.7,519.4 927.8,519 925.8,521.4 923.8,527.7 921.9,524.6 919.9,524.9 918,527.6 916,534.7 914,530.5 912.1,531.1 910.1,530 908.1,530.7 906.2,536.8 904.2,536 902.2,535.6 900.3,542.7 898.3,544.2 896.3,545.5 894.4,546.3 892.4,548.5 890.5,553.7 888.5,553.8 886.5,553.8 884.6,556 882.6,561.7 880.6,564.5 878.7,565.7 876.7,575 874.7,570.7 872.8,574.7 870.8,577.8 868.9,578.9 866.9,583.9 864.9,594.2 863,585.2 861,589.5 859,590.2 857.1,594.2 855.1,596.3 853.1,601.4 851.2,601.2 849.2,609.4 847.2,609.1 845.3,607.3 843.3,610.1 841.4,616.9 839.4,617.1 837.4,621.5 835.5,620.6 833.5,622.9 831.5,625.8 829.6,626.3 827.6,629 825.6,636.2 823.7,631.8 821.7,634.2 819.8,637.8 817.8,643.2 815.8,641.3 813.9,647.3 811.9,643.1 809.9,645.3 808,647.3 806,648.6 804,651.2 802.1,651.7 800.1,658.2 798.1,658.1 796.2,657.6 794.2,658 792.3,661.2 790.3,659.8 788.3,662.9 786.4,662.6 784.4,667.4 782.4,668.4 780.5,669.3 778.5,677.4 776.5,672.2 774.6,676.8 772.6,673.4 770.7,680 768.7,678.9 766.7,676.9 764.8,676.9 762.8,677.1 760.8,682.2 758.9,677.6 756.9,678.2 754.9,684.7 753,681.6 751,683.7 749.1,682.5 747.1,684.7 745.1,683.6 743.2,690.2 741.2,684.4 739.2,686.1 737.3,689.3 735.3,688.6 733.3,689.1 731.4,688.6 729.4,688.2 727.4,691.4 725.5,688.8 723.5,690.2 721.6,688.5 719.6,694.1 717.6,694.4 715.7,692.1 713.7,694.9 711.7,701.6 709.8,693.9 707.8,696.1 705.8,700.2 703.9,701.2 701.9,696.6 700,701.2 698,697.1 696,699.9 694.1,697.8 692.1,701.5 690.1,698.6 688.2,698.1 686.2,700 684.2,701.9 682.3,703 680.3,701.1 678.3,703.8 676.4,700.1 674.4,704.7 672.5,702.6 670.5,700.7 668.5,701.3 666.6,704.1 664.6,708.4 662.6,701.8 660.7,701.1 658.7,704.2 656.7,703.9 654.8,706.1 652.8,703.5 650.9,704.3 648.9,708.9 646.9,705 645,714.2 643,708.2 641,714.5 639.1,709.3 637.1,705.6 635.1,707.5 633.2,706.8 631.2,706.2 629.2,707.4 627.3,706.7 625.3,707.1 623.4,717.4 621.4,709.3 619.4,712.2 617.5,707.5 615.5,707.8 613.5,707.8 611.6,715.7 609.6,717.4 607.6,708.9 605.7,708.8 603.7,715.5 601.8,710.2 599.8,709.6 597.8,710.3 595.9,707.6 593.9,706.7 591.9,708 590,708.3 588,708 586,706.9 584.1,709.1 582.1,714.9 580.2,708.1 578.2,707.1 576.2,708.6 574.3,710 572.3,707 570.3,707.2 568.4,713 566.4,707.4 564.4,706.3 562.5,707.7 560.5,707.9 558.5,707.7 556.6,707.5 554.6,713.2 552.7,711.9 550.7,707.4 548.7,708.3 546.8,706.9 544.8,709.4 542.8,714.2 540.9,706.5 538.9,709 536.9,708.9 535,710.9 533,710.8 531.1,710.3 529.1,714.1 527.1,713.1 525.2,708.6 523.2,711.5 521.2,715.2 519.3,708.4 517.3,710.6 515.3,709 513.4,715.1 511.4,708 509.4,710.4 507.5,710.7 505.5,717.2 503.6,709.6 501.6,713.2 499.6,706.8 497.7,712.7 495.7,709.1 493.7,709 491.8,713 489.8,712.3 487.8,708.7 485.9,710.5 483.9,718.8 482,710.8 480,715.6 478,711 476.1,717.2 474.1,718.6 472.1,712.5 470.2,711.4 468.2,715.1 466.2,710.9 464.3,714.1 462.3,709.8 460.3,713.3 458.4,710.6 456.4,714.6 454.5,708.9 452.5,709.2 450.5,713.9 448.6,712.2 446.6,711.8 444.6,712.2 442.7,716.9 440.7,710.8 438.7,711.4 436.8,715.8 434.8,716.6 432.9,712.2 430.9,711.8 428.9,719.1 427,712.3 425,711.1 423,714.8 421.1,710.4 419.1,710.9 417.1,709.4 415.2,712.8 413.2,711.2 411.3,711.3 409.3,711 407.3,715.2 405.4,711.6 403.4,710.5 401.4,710.8 399.5,713 397.5,711.9 395.5,712.4 393.6,712.2 391.6,711.8 389.6,720.4 387.7,724.7 385.7,712.2 383.8,711.1 381.8,715 379.8,713.7 377.9,711.6 375.9,712.6 373.9,712 372,710.9 370,713.6 368,723.1 366.1,713.5 364.1,711.7 362.2,712.7 360.2,712.7 358.2,720.7 356.3,714.3 354.3,716.1 352.3,711.9 350.4,713.1 348.4,712.5 346.4,711.2 344.5,716.1 342.5,714.4 340.5,713.7 338.6,716.7 336.6,712.2 334.7,712.4 332.7,713.9 330.7,712.4 328.8,715.4 326.8,712.7 324.8,717.6 322.9,712.2 320.9,712.7 318.9,712.1 317,716.9 315,717.5 313.1,714.4 311.1,719.4 309.1,715.7 307.2,716.9 305.2,712.4 303.2,714.8 301.3,712.4 299.3,717.2 297.3,719.2 295.4,711.5 293.4,711.9 291.4,718.6 289.5,710 287.5,710 285.6,711.9 283.6,715.5 281.6,712.2 279.7,713.3 277.7,720.7 275.7,714.5 273.8,717.8 271.8,711.7 269.8,712.6 267.9,710.3 265.9,712.3 264,713 262,711.2 260,717.8 258.1,716.8 256.1,716.1 254.1,713.4 252.2,713.4 250.2,719.2 248.2,711.4 246.3,722.8 244.3,711.1 242.4,714 240.4,716.8 238.4,720.3 236.5,711.7 234.5,712.7 232.5,713 230.6,711.7 228.6,711.1 226.6,714.1 224.7,710.6 222.7,711.5 220.7,714.2 218.8,711.2 216.8,714.4 214.9,712.3 212.9,714.4 210.9,714 209,713.2 207,712" fill="#ff0000"/>
<path d="M203.7 34H1681.3" stroke="#151515" stroke-width="4.6"/>
<path d="M1679 34V764.5" stroke="#7a7a7a" stroke-width="4.6"/>
<path d="M203.7 764.5H1681.3" stroke="#151515" stroke-width="4.6"/>
<path d="M206 34V766.8" stroke="#151515" stroke-width="4.6"/>
<path d="M206 764.5v9 M298.1 764.5v7.5 M390.1 764.5v9 M482.2 764.5v7.5 M574.2 764.5v9 M666.3 764.5v7.5 M758.4 764.5v9 M850.4 764.5v7.5 M942.5 764.5v9 M1034.6 764.5v7.5 M1126.6 764.5v9 M1218.7 764.5v7.5 M1310.8 764.5v9 M1402.8 764.5v7.5 M1494.9 764.5v9 M1586.9 764.5v7.5 M1679 764.5v9 M206 339.3h-9 M206 712.5h-9" stroke="#111" stroke-width="3.5"/>
<text x="206" y="815.5" font-size="52" font-weight="bold" text-anchor="middle" textLength="91" lengthAdjust="spacingAndGlyphs">-800</text>
<text x="390.1" y="815.5" font-size="52" font-weight="bold" text-anchor="middle" textLength="91" lengthAdjust="spacingAndGlyphs">-600</text>
<text x="574.2" y="815.5" font-size="52" font-weight="bold" text-anchor="middle" textLength="91" lengthAdjust="spacingAndGlyphs">-400</text>
<text x="758.4" y="815.5" font-size="52" font-weight="bold" text-anchor="middle" textLength="91" lengthAdjust="spacingAndGlyphs">-200</text>
<text x="942.5" y="815.5" font-size="52" font-weight="bold" text-anchor="middle" textLength="41.4" lengthAdjust="spacingAndGlyphs">-0</text>
<text x="1126.6" y="815.5" font-size="52" font-weight="bold" text-anchor="middle" textLength="74.5" lengthAdjust="spacingAndGlyphs">200</text>
<text x="1310.8" y="815.5" font-size="52" font-weight="bold" text-anchor="middle" textLength="74.5" lengthAdjust="spacingAndGlyphs">400</text>
<text x="1494.9" y="815.5" font-size="52" font-weight="bold" text-anchor="middle" textLength="74.5" lengthAdjust="spacingAndGlyphs">600</text>
<text x="1679" y="815.5" font-size="52" font-weight="bold" text-anchor="middle" textLength="74.5" lengthAdjust="spacingAndGlyphs">800</text>
<text x="957.5" y="882" font-size="70" font-weight="bold" text-anchor="middle" textLength="280" lengthAdjust="spacingAndGlyphs">Time (ns)</text>
<g transform="translate(165,391) rotate(-90)">
<text x="0" y="0" font-size="70" font-weight="bold" text-anchor="middle" textLength="416" lengthAdjust="spacingAndGlyphs">Intensity(a.u.)</text>
</g>
<text x="72" y="104.5" font-size="99" textLength="111" lengthAdjust="spacingAndGlyphs">(a)</text>
<text x="955.6" y="595.5" font-size="39" font-weight="bold" text-anchor="middle" textLength="131" lengthAdjust="spacingAndGlyphs">-380ns-</text>
<rect x="731.5" y="45.5" width="918.5" height="330.7" fill="#fff" stroke="none"/>
<clipPath id="ica"><rect x="731.5" y="45.5" width="918.5" height="330.7"/></clipPath>
<g clip-path="url(#ica)">
<polygon points="734,333.1 734.7,331.9 735.3,329.9 736,333.7 736.7,333.8 737.3,332.7 738,330.7 738.6,332.7 739.3,329.7 740,330.6 740.6,329.9 741.3,329.6 742,330.8 742.6,328.8 743.3,333 744,330.6 744.6,330.3 745.3,332.6 745.9,331.9 746.6,329 747.3,330.2 747.9,325 748.6,329.8 749.3,326.1 749.9,324.6 750.6,322.4 751.3,318.5 751.9,320.5 752.6,318.3 753.3,315.2 753.9,309.3 754.6,305.8 755.2,300.3 755.9,297.1 756.6,288.8 757.2,283.4 757.9,274.4 758.6,270.9 759.2,261.6 759.9,252.7 760.6,247.6 761.2,241.2 761.9,231.1 762.5,225.6 763.2,219.9 763.9,218.9 764.5,212.5 765.2,208.6 765.9,215 766.5,217.7 767.2,221.9 767.9,218.4 768.5,229.4 769.2,239.6 769.8,240.8 770.5,250.8 771.2,261 771.8,264.4 772.5,274.1 773.2,280.6 773.8,286.9 774.5,290.9 775.2,294.3 775.8,303.4 776.5,303.7 777.2,310.9 777.8,312 778.5,309.8 779.1,318.3 779.8,320 780.5,321.8 781.1,318 781.8,320.4 782.5,319.3 783.1,323.8 783.8,319 784.5,326 785.1,326.3 785.8,327.6 786.4,326.5 787.1,325.9 787.8,321.3 788.4,328.5 789.1,327.1 789.8,325.5 790.4,328.7 791.1,328 791.8,328.9 792.4,327.5 793.1,325.8 793.7,327.4 794.4,329.6 795.1,327.7 795.7,326.5 796.4,325.8 797.1,328.8 797.7,329.6 798.4,328 799.1,328.6 799.7,330.2 800.4,327.1 801.1,330.7 801.7,330.9 802.4,327 803,326.7 803.7,329.1 804.4,331.3 805,329.9 805.7,327.3 806.4,330.9 807,331.9 807.7,330.9 808.4,331 809,331.4 809.7,327.5 810.3,328.9 811,326.3 811.7,328.7 812.3,331.2 813,332.2 813.7,331.6 814.3,329.2 815,329.5 815.7,330 816.3,332.9 817,328.2 817.6,332.5 818.3,332.7 819,332.5 819.6,330.4 820.3,327.2 821,332.1 821.6,331.9 822.3,332.2 823,329.7 823.6,330.6 824.3,331.3 825,333 825.6,330.8 826.3,331.3 826.9,333.5 827.6,331.6 828.3,331 828.9,333.3 829.6,332.9 830.3,333.2 830.9,333.1 831.6,330.5 832.3,332.5 832.9,329.5 833.6,333.4 834.2,330.4 834.9,333.6 835.6,332.7 836.2,333.5 836.9,332.7 837.6,333 838.2,329.3 838.9,329.9 839.6,329.4 840.2,327.8 840.9,333.1 841.5,332.4 842.2,333.2 842.9,332.5 843.5,330 844.2,328.6 844.9,328.3 845.5,327.2 846.2,328.7 846.9,330.4 847.5,332.8 848.2,332.1 848.9,332.8 849.5,330.9 850.2,332.5 850.8,328.7 851.5,330.7 852.2,332.6 852.8,331.3 853.5,333.6 854.2,331.5 854.8,333.1 855.5,325.9 856.2,333.8 856.8,333.2 857.5,332.9 858.1,332.8 858.8,332.1 859.5,330.4 860.1,333.8 860.8,331.3 861.5,333.9 862.1,332 862.8,332.1 863.5,326.8 864.1,330.5 864.8,327.5 865.4,331 866.1,331.3 866.8,326.4 867.4,330.8 868.1,331.5 868.8,333.5 869.4,332.6 870.1,332.6 870.8,333 871.4,328.4 872.1,328.8 872.8,329.2 873.4,332.6 874.1,332.1 874.7,331.9 875.4,332 876.1,332.8 876.7,331.1 877.4,331.6 878.1,331.2 878.7,332.1 879.4,332.5 880.1,332.9 880.7,333.6 881.4,332.8 882,331.8 882.7,329.7 883.4,328.9 884,332.8 884.7,330.4 885.4,325.9 886,331.8 886.7,328.2 887.4,328.1 888,328.6 888.7,325.2 889.3,325.4 890,326 890.7,327.9 891.3,324.8 892,324.4 892.7,320 893.3,312.6 894,314.8 894.7,312.2 895.3,304.7 896,303.5 896.7,295.2 897.3,290.1 898,280.9 898.6,277 899.3,267 900,265.5 900.6,256.6 901.3,248.1 902,244.4 902.6,238.1 903.3,230.9 904,223.5 904.6,220.5 905.3,220.5 905.9,220.9 906.6,224.4 907.3,227.4 907.9,225.9 908.6,234.4 909.3,237.2 909.9,247.3 910.6,253.4 911.3,260.4 911.9,267.5 912.6,274 913.2,279.1 913.9,285 914.6,286.7 915.2,293.5 915.9,298.8 916.6,304.5 917.2,305.9 917.9,308.1 918.6,315.8 919.2,318.6 919.9,318.2 920.6,320.1 921.2,319.5 921.9,313.9 922.5,321.7 923.2,320.4 923.9,324.1 924.5,324.7 925.2,324.2 925.9,325.6 926.5,325.5 927.2,327.9 927.9,325.7 928.5,326 929.2,325.5 929.8,327.6 930.5,324.7 931.2,328.4 931.8,326.1 932.5,327.8 933.2,329.9 933.8,330.2 934.5,329.7 935.2,330 935.8,329.6 936.5,330.7 937.1,331.2 937.8,330.5 938.5,329.6 939.1,328.5 939.8,326.8 940.5,328.8 941.1,331.7 941.8,324.6 942.5,328.9 943.1,328.9 943.8,326.3 944.5,325.6 945.1,330.4 945.8,328.3 946.4,330.2 947.1,331.9 947.8,329.9 948.4,324.7 949.1,327.2 949.8,327.8 950.4,323.6 951.1,332.2 951.8,332.3 952.4,330.9 953.1,331 953.7,329.3 954.4,330 955.1,327.1 955.7,325.5 956.4,326.6 957.1,331.3 957.7,333 958.4,329.9 959.1,331.9 959.7,331.3 960.4,329.4 961,332.2 961.7,332.9 962.4,332.6 963,332.4 963.7,331.9 964.4,333.4 965,326 965.7,330.7 966.4,332.4 967,328.9 967.7,330.2 968.3,330.4 969,328.5 969.7,331.7 970.3,328.8 971,330.6 971.7,333 972.3,330.9 973,328.7 973.7,332.4 974.3,329.9 975,333.4 975.7,331.5 976.3,331.6 977,331 977.6,333.6 978.3,331.1 979,332 979.6,331.6 980.3,332.3 981,332.3 981.6,330.4 982.3,333.4 983,332.9 983.6,330.8 984.3,333.5 984.9,329.4 985.6,332 986.3,330.5 986.9,329.6 987.6,331.6 988.3,327.6 988.9,328.9 989.6,333.5 990.3,331.6 990.9,331 991.6,333.6 992.2,330.9 992.9,332.7 993.6,333.2 994.2,331.7 994.9,332.1 995.6,331 996.2,328 996.9,326.7 997.6,328.4 998.2,331.9 998.9,331.1 999.6,332 1000.2,330 1000.9,332 1001.5,328.4 1002.2,330 1002.9,333.5 1003.5,328.3 1004.2,332.5 1004.9,332.3 1005.5,332.6 1006.2,333.4 1006.9,328.8 1007.5,331 1008.2,333.6 1008.8,329.9 1009.5,332.9 1010.2,333.4 1010.8,331 1011.5,326.4 1012.2,332.1 1012.8,331.4 1013.5,330.8 1014.2,325.5 1014.8,329.9 1015.5,331 1016.1,333.5 1016.8,330.7 1017.5,332.9 1018.1,333.4 1018.8,329.2 1019.5,330.8 1020.1,327.8 1020.8,329.4 1021.5,331.3 1022.1,330.8 1022.8,332.8 1023.5,329.5 1024.1,331.2 1024.8,332.5 1025.4,330.7 1026.1,331.8 1026.8,331.1 1027.4,330.8 1028.1,331.6 1028.8,331.4 1029.4,332.8 1030.1,328.6 1030.8,331.5 1031.4,327.6 1032.1,328.6 1032.7,323.8 1033.4,331 1034.1,330.3 1034.7,327.5 1035.4,329.6 1036.1,326.1 1036.7,326.9 1037.4,325.1 1038.1,322.3 1038.7,321 1039.4,317.2 1040,313.7 1040.7,309.9 1041.4,305.4 1042,299.4 1042.7,293.4 1043.4,285.9 1044,282.1 1044.7,273.1 1045.4,269.8 1046,263.2 1046.7,255.7 1047.4,250.8 1048,244.9 1048.7,233.9 1049.3,231.9 1050,226 1050.7,225.2 1051.3,219.2 1052,222.7 1052.7,227.1 1053.3,230.2 1054,234.4 1054.7,236.9 1055.3,244.8 1056,252.6 1056.6,258.8 1057.3,263.7 1058,271.4 1058.6,276.9 1059.3,279.5 1060,290.3 1060.6,295.4 1061.3,298 1062,302.6 1062.6,308.1 1063.3,310.3 1063.9,306 1064.6,316.4 1065.3,317.2 1065.9,320.6 1066.6,315.7 1067.3,324 1067.9,325.1 1068.6,322.7 1069.3,323.3 1069.9,324.7 1070.6,327.1 1071.3,326.2 1071.9,324.7 1072.6,327.7 1073.2,321.6 1073.9,327.7 1074.6,327.7 1075.2,328.5 1075.9,327.1 1076.6,329.4 1077.2,328.2 1077.9,330.1 1078.6,328.5 1079.2,330.4 1079.9,325 1080.5,330.1 1081.2,330.7 1081.9,326.9 1082.5,329.6 1083.2,330 1083.9,330.2 1084.5,327.7 1085.2,328.4 1085.9,330.7 1086.5,328.1 1087.2,329.6 1087.8,330.6 1088.5,331.5 1089.2,327 1089.8,327.8 1090.5,331.9 1091.2,331.6 1091.8,330.6 1092.5,327.8 1093.2,332.5 1093.8,331.8 1094.5,327 1095.2,331.6 1095.8,332.7 1096.5,331.4 1097.1,330.6 1097.8,332.6 1098.5,329.7 1099.1,332.8 1099.8,332.7 1100.5,332.9 1101.1,328.3 1101.8,326.7 1102.5,327.6 1103.1,328.2 1103.8,331.6 1104.4,331.4 1105.1,331.4 1105.8,329.9 1106.4,327.6 1107.1,332.9 1107.8,331.5 1108.4,326.9 1109.1,329 1109.8,331.4 1110.4,330.9 1111.1,332.6 1111.7,330 1112.4,332.1 1113.1,328 1113.7,332.8 1114.4,330.8 1115.1,331.8 1115.7,329.9 1116.4,329 1117.1,329.2 1117.7,332.4 1118.4,330.7 1119.1,329.1 1119.7,330.3 1120.4,332.6 1121,333.4 1121.7,333.1 1122.4,330.1 1123,332.7 1123.7,329.5 1124.4,329.4 1125,331.8 1125.7,330.8 1126.4,330.3 1127,330.6 1127.7,332.3 1128.3,333.5 1129,332.5 1129.7,330 1130.3,328.8 1131,332.7 1131.7,332.7 1132.3,328.4 1133,329.2 1133.7,333.7 1134.3,333.3 1135,330.7 1135.6,332.4 1136.3,332.7 1137,331.8 1137.6,333 1138.3,333.5 1139,332.3 1139.6,332.1 1140.3,331.3 1141,330.2 1141.6,327.9 1142.3,330.3 1143,328.4 1143.6,333 1144.3,331.9 1144.9,329.6 1145.6,333.2 1146.3,331.6 1146.9,331.8 1147.6,327.1 1148.3,332.7 1148.9,331.7 1149.6,327 1150.3,329.8 1150.9,331.3 1151.6,329.3 1152.2,330.7 1152.9,333.1 1153.6,333.3 1154.2,332.7 1154.9,330.5 1155.6,332.9 1156.2,330.9 1156.9,333.9 1157.6,333.7 1158.2,332.6 1158.9,329.8 1159.5,333.5 1160.2,330.7 1160.9,331.8 1161.5,333.1 1162.2,331.9 1162.9,333.3 1163.5,333.7 1164.2,329.8 1164.9,333.3 1165.5,333.1 1166.2,333.3 1166.9,332.7 1167.5,333.2 1168.2,331.2 1168.8,331.5 1169.5,331.3 1170.2,329.5 1170.8,332.2 1171.5,333.7 1172.2,326.7 1172.8,333 1173.5,329.8 1174.2,331.9 1174.8,332.8 1175.5,333.4 1176.1,330.6 1176.8,333.3 1177.5,333.2 1178.1,332.9 1178.8,327.7 1179.5,329.5 1180.1,327.4 1180.8,330.1 1181.5,328.8 1182.1,330.6 1182.8,325.7 1183.4,328.2 1184.1,326.4 1184.8,322.3 1185.4,322.7 1186.1,321.5 1186.8,319.5 1187.4,315.6 1188.1,312.3 1188.8,306.9 1189.4,299 1190.1,296.9 1190.8,293.2 1191.4,283.5 1192.1,277 1192.7,269.4 1193.4,265 1194.1,256.7 1194.7,249.9 1195.4,246 1196.1,240.6 1196.7,234.1 1197.4,226.2 1198.1,225.7 1198.7,219.8 1199.4,222.1 1200,224.1 1200.7,227.7 1201.4,230.9 1202,234.3 1202.7,240.7 1203.4,248.1 1204,254.5 1204.7,259.5 1205.4,265.6 1206,273.7 1206.7,281.1 1207.3,285.2 1208,292.3 1208.7,294.3 1209.3,301.3 1210,305.1 1210.7,308.3 1211.3,311.3 1212,312.5 1212.7,312.5 1213.3,318.5 1214,321.6 1214.6,323.3 1215.3,322.8 1216,324.7 1216.6,314.1 1217.3,325.9 1218,326.8 1218.6,326.3 1219.3,323 1220,328.3 1220.6,325.2 1221.3,324.6 1222,328.2 1222.6,329.3 1223.3,325 1223.9,324.2 1224.6,325.5 1225.3,326.4 1225.9,328.6 1226.6,324.4 1227.3,327.2 1227.9,329.9 1228.6,327.5 1229.3,327.5 1229.9,328.1 1230.6,329.9 1231.2,329.1 1231.9,327.8 1232.6,329.4 1233.2,331.2 1233.9,325.5 1234.6,331.2 1235.2,327.9 1235.9,326.6 1236.6,331.7 1237.2,328.5 1237.9,330.4 1238.5,321.9 1239.2,327.8 1239.9,327.3 1240.5,330.3 1241.2,327.1 1241.9,328.4 1242.5,332.2 1243.2,327.1 1243.9,330.3 1244.5,332.2 1245.2,328.5 1245.9,332.3 1246.5,331.3 1247.2,331.4 1247.8,331.9 1248.5,329.1 1249.2,332.2 1249.8,332.6 1250.5,333.1 1251.2,331 1251.8,332.7 1252.5,332.1 1253.2,327.3 1253.8,331.5 1254.5,330.9 1255.1,330.8 1255.8,331.4 1256.5,332.5 1257.1,330.4 1257.8,330 1258.5,330.7 1259.1,332.6 1259.8,331.5 1260.5,329.9 1261.1,331.6 1261.8,327.1 1262.4,333.1 1263.1,331.4 1263.8,331.3 1264.4,329.4 1265.1,333.4 1265.8,330.6 1266.4,332.8 1267.1,332.5 1267.8,328.8 1268.4,333.7 1269.1,332.9 1269.8,327.9 1270.4,331.6 1271.1,329.9 1271.7,331.5 1272.4,332.7 1273.1,333.3 1273.7,331.8 1274.4,332.2 1275.1,332.6 1275.7,329.8 1276.4,333.8 1277.1,331.2 1277.7,333.1 1278.4,331.7 1279,333.8 1279.7,331.3 1280.4,331.3 1281,331.8 1281.7,331.9 1282.4,331.5 1283,331.2 1283.7,329.1 1284.4,331.6 1285,332 1285.7,332.8 1286.3,330 1287,331.3 1287.7,332.9 1288.3,328.2 1289,332.6 1289.7,329.8 1290.3,331.1 1291,333.6 1291.7,333.3 1292.3,333.7 1293,328.3 1293.7,330.8 1294.3,330.9 1295,333.6 1295.6,333.9 1296.3,333.5 1297,331.8 1297.6,333.7 1298.3,331.1 1299,333.6 1299.6,333 1300.3,328.9 1301,331.3 1301.6,332.7 1302.3,332.2 1302.9,332 1303.6,331 1304.3,331.7 1304.9,329.2 1305.6,329.5 1306.3,333.4 1306.9,333.9 1307.6,329.9 1308.3,332 1308.9,332.9 1309.6,331.6 1310.2,330.3 1310.9,332.8 1311.6,329 1312.2,330.3 1312.9,333.8 1313.6,330.8 1314.2,333.5 1314.9,330.6 1315.6,333.2 1316.2,327.5 1316.9,333.3 1317.6,330.1 1318.2,333.1 1318.9,330.7 1319.5,329.4 1320.2,332.1 1320.9,328.5 1321.5,332.5 1322.2,327.7 1322.9,328.3 1323.5,325 1324.2,327.1 1324.9,326.4 1325.5,326.6 1326.2,327 1326.8,328.1 1327.5,323.7 1328.2,323.6 1328.8,319.2 1329.5,315.6 1330.2,316.9 1330.8,311.3 1331.5,309.8 1332.2,304.7 1332.8,300.4 1333.5,296.9 1334.1,289.9 1334.8,282.3 1335.5,276 1336.1,270.8 1336.8,259.8 1337.5,252.1 1338.1,248.5 1338.8,242.7 1339.5,237.9 1340.1,232.7 1340.8,226.3 1341.5,223.1 1342.1,222 1342.8,215.9 1343.4,224.5 1344.1,226.5 1344.8,232.7 1345.4,232.2 1346.1,242.8 1346.8,244 1347.4,255.4 1348.1,260 1348.8,267.1 1349.4,266.9 1350.1,281.2 1350.7,288.7 1351.4,288 1352.1,296.5 1352.7,298.6 1353.4,302.5 1354.1,309.9 1354.7,314.4 1355.4,316.8 1356.1,318.5 1356.7,319.5 1357.4,322 1358,322.5 1358.7,319.3 1359.4,323.5 1360,321.8 1360.7,323.2 1361.4,325.9 1362,324 1362.7,324 1363.4,325.8 1364,327.4 1364.7,328.9 1365.4,325.5 1366,329.2 1366.7,328.8 1367.3,327.1 1368,324.8 1368.7,329.1 1369.3,324.8 1370,324.6 1370.7,329.1 1371.3,330 1372,326 1372.7,328.2 1373.3,330.1 1374,327.3 1374.6,326.3 1375.3,329.8 1376,330.7 1376.6,331.5 1377.3,329.5 1378,323.9 1378.6,328.2 1379.3,325.4 1380,326.3 1380.6,329.6 1381.3,328.4 1381.9,329.3 1382.6,331.8 1383.3,327.2 1383.9,328.6 1384.6,331.4 1385.3,321.8 1385.9,328.8 1386.6,330.7 1387.3,330.7 1387.9,329.9 1388.6,332.7 1389.3,331.9 1389.9,331.5 1390.6,329.6 1391.2,331.6 1391.9,332.1 1392.6,331.8 1393.2,333 1393.9,329 1394.6,332.5 1395.2,330.3 1395.9,332.9 1396.6,329.3 1397.2,332.8 1397.9,329.3 1398.5,330.2 1399.2,325.5 1399.9,331.4 1400.5,331.3 1401.2,332.1 1401.9,328.1 1402.5,333.3 1403.2,332.4 1403.9,332.5 1404.5,329.9 1405.2,327.6 1405.8,333.4 1406.5,330.3 1407.2,332.5 1407.8,330.7 1408.5,333.3 1409.2,328.8 1409.8,333 1410.5,332.1 1411.2,333.3 1411.8,327.4 1412.5,331.5 1413.2,333.6 1413.8,330.6 1414.5,331 1415.1,331.3 1415.8,329.2 1416.5,329.8 1417.1,333.8 1417.8,333.6 1418.5,332.7 1419.1,333.1 1419.8,330.6 1420.5,328.6 1421.1,333.8 1421.8,327 1422.4,332.9 1423.1,332.5 1423.8,333.3 1424.4,332.8 1425.1,333.3 1425.8,332 1426.4,333.9 1427.1,332 1427.8,330.7 1428.4,331.8 1429.1,330.3 1429.7,328.8 1430.4,333.1 1431.1,330.4 1431.7,328.5 1432.4,329.9 1433.1,333.6 1433.7,330.7 1434.4,331.2 1435.1,326.2 1435.7,333 1436.4,332 1437,331.1 1437.7,333.9 1438.4,332.4 1439,333.9 1439.7,333 1440.4,332.3 1441,333.3 1441.7,332.7 1442.4,332.7 1443,330.7 1443.7,332.6 1444.4,333.8 1445,330.8 1445.7,333.1 1446.3,332.5 1447,331.1 1447.7,333.1 1448.3,333.7 1449,328.8 1449.7,333.2 1450.3,327.1 1451,331.9 1451.7,332.8 1452.3,328.3 1453,328.9 1453.6,333.2 1454.3,329.4 1455,330 1455.6,326.5 1456.3,330.8 1457,330.9 1457.6,332.7 1458.3,333.7 1459,330.9 1459.6,330 1460.3,330.2 1460.9,331 1461.6,327.3 1462.3,330.5 1462.9,327.5 1463.6,327.7 1464.3,331.5 1464.9,332.7 1465.6,328.5 1466.3,326.6 1466.9,328.7 1467.6,330.8 1468.3,328.4 1468.9,324.3 1469.6,326.9 1470.2,326.4 1470.9,322.1 1471.6,318.9 1472.2,320.1 1472.9,314.9 1473.6,312.3 1474.2,308.9 1474.9,304 1475.6,300 1476.2,294.9 1476.9,288.5 1477.5,282.8 1478.2,273.1 1478.9,269.5 1479.5,263.5 1480.2,257.1 1480.9,249.4 1481.5,242 1482.2,239 1482.9,233.4 1483.5,228.5 1484.2,228.5 1484.8,231.1 1485.5,230.3 1486.2,233.8 1486.8,240.2 1487.5,243.2 1488.2,247 1488.8,256 1489.5,259.9 1490.2,267.6 1490.8,273.6 1491.5,278.5 1492.2,285.7 1492.8,291.5 1493.5,295.9 1494.1,298.8 1494.8,304.1 1495.5,309.1 1496.1,313 1496.8,314.1 1497.5,316.3 1498.1,316.1 1498.8,320.7 1499.5,320.2 1500.1,324.4 1500.8,325.2 1501.4,324 1502.1,326.2 1502.8,326.2 1503.4,327.4 1504.1,327.2 1504.8,327 1505.4,328.2 1506.1,323.8 1506.8,326.1 1507.4,329.2 1508.1,323.6 1508.7,326.9 1509.4,330 1510.1,329.7 1510.7,329.2 1511.4,327.6 1512.1,324.5 1512.7,330.7 1513.4,328.4 1514.1,329.9 1514.7,328.4 1515.4,329.1 1516.1,330.4 1516.7,328.2 1517.4,330.7 1518,328.8 1518.7,330.5 1519.4,331.2 1520,330.3 1520.7,331.5 1521.4,331.7 1522,327.6 1522.7,332.2 1523.4,328.9 1524,331.1 1524.7,330.7 1525.3,328.1 1526,329.2 1526.7,330.1 1527.3,328.7 1528,329.1 1528.7,329.7 1529.3,332.5 1530,332.4 1530.7,332.7 1531.3,331.1 1532,331 1532.6,328.2 1533.3,329.3 1534,332.7 1534.6,329.4 1535.3,333 1536,332 1536.6,323.9 1537.3,331.4 1538,331.8 1538.6,332.5 1539.3,328.9 1540,329.1 1540.6,331 1541.3,333.2 1541.9,328.5 1542.6,333.3 1543.3,326.6 1543.9,332.7 1544.6,332.3 1545.3,332 1545.9,332 1546.6,331.5 1547.3,326.2 1547.9,327.2 1548.6,332.1 1549.2,333.5 1549.9,328.1 1550.6,331.4 1551.2,330.7 1551.9,328 1552.6,332.2 1553.2,332.3 1553.9,333.3 1554.6,331.1 1555.2,332.7 1555.9,329.2 1556.5,333 1557.2,332.8 1557.9,329.4 1558.5,332.7 1559.2,330 1559.9,332.7 1560.5,332.5 1561.2,332.2 1561.9,329.4 1562.5,333.4 1563.2,333.5 1563.9,331.8 1564.5,327.8 1565.2,325.5 1565.8,326.8 1566.5,333.9 1567.2,330.8 1567.8,333.9 1568.5,333.6 1569.2,332.3 1569.8,333.7 1570.5,331.3 1571.2,333.9 1571.8,328.6 1572.5,332.3 1573.1,327.2 1573.8,333.5 1574.5,331 1575.1,331.3 1575.8,324.9 1576.5,333.6 1577.1,332.6 1577.8,331.6 1578.5,332.1 1579.1,333.2 1579.8,327.5 1580.4,332 1581.1,333.9 1581.8,331.4 1582.4,333.4 1583.1,332.3 1583.8,333.8 1584.4,332.1 1585.1,325.5 1585.8,333.6 1586.4,333 1587.1,325.6 1587.8,330.8 1588.4,333.7 1589.1,332.2 1589.7,330.9 1590.4,332.4 1591.1,327.1 1591.7,332.6 1592.4,326.9 1593.1,333.1 1593.7,331.5 1594.4,329.1 1595.1,329.4 1595.7,329.8 1596.4,330.8 1597,326.9 1597.7,326.6 1598.4,326.6 1599,327.8 1599.7,329.7 1600.4,333.6 1601,331.8 1601.7,333.7 1602.4,333.3 1603,330.4 1603.7,332.4 1604.3,331.8 1605,331.6 1605.7,326.6 1606.3,330.2 1607,330.1 1607.7,330.2 1608.3,332.8 1609,329.2 1609.7,333.3 1610.3,328.9 1611,328.5 1611.7,325.4 1612.3,329.7 1613,325.8 1613.6,331.7 1614.3,328.4 1615,327.7 1615.6,329.7 1616.3,328.1 1617,324.3 1617.6,326.4 1618.3,321.5 1619,321.9 1619.6,319.8 1620.3,315.5 1620.9,313.3 1621.6,308.2 1622.3,303.4 1622.9,297.5 1623.6,289.6 1624.3,285.1 1624.9,280.3 1625.6,268.5 1626.3,269.6 1626.9,260.9 1627.6,252.5 1628.2,249.8 1628.9,245.7 1629.6,240.5 1630.2,236.2 1630.9,230.8 1631.6,229.2 1632.2,232.2 1632.9,234.1 1633.6,232.9 1634.2,238 1634.9,245.8 1635.6,248 1636.2,250.7 1636.9,263.1 1637.5,268.6 1638.2,271.6 1638.9,281.9 1639.5,284.8 1640.2,283.1 1640.9,297.8 1641.5,300.5 1642.2,306.3 1642.9,307.2 1643.5,308.9 1644.2,316.1 1644.8,314.3 1645.5,318.2 1646.2,320.5 1646.8,321.4 1647.5,319.1 1647.5,344.4 1646.8,344.6 1646.2,345 1645.5,339.3 1644.8,340.7 1644.2,338.3 1643.5,333.7 1642.9,329.4 1642.2,329.9 1641.5,323.8 1640.9,317 1640.2,313 1639.5,307.3 1638.9,306 1638.2,297.9 1637.5,289.5 1636.9,286 1636.2,280.4 1635.6,270.1 1634.9,266.1 1634.2,261.1 1633.6,262.1 1632.9,255 1632.2,258.1 1631.6,256.1 1630.9,257.1 1630.2,257.2 1629.6,266.2 1628.9,264.9 1628.2,275.8 1627.6,278.2 1626.9,283.5 1626.3,289.6 1625.6,295.6 1624.9,304.8 1624.3,312.4 1623.6,315.5 1622.9,324.7 1622.3,323 1621.6,332 1620.9,333 1620.3,337.6 1619.6,338.6 1619,341.3 1618.3,342.9 1617.6,346.8 1617,347.7 1616.3,358.2 1615.6,351.5 1615,350.7 1614.3,349.8 1613.6,354.5 1613,352.8 1612.3,350.9 1611.7,351.7 1611,355.8 1610.3,354.4 1609.7,352.5 1609,359.1 1608.3,353.8 1607.7,354.6 1607,353.3 1606.3,353.1 1605.7,353.7 1605,353.7 1604.3,353.1 1603.7,352.4 1603,353.2 1602.4,352 1601.7,354.1 1601,351.9 1600.4,356.8 1599.7,358.3 1599,353.7 1598.4,352.5 1597.7,358.2 1597,354 1596.4,352 1595.7,358.2 1595.1,352 1594.4,355 1593.7,352.7 1593.1,355.4 1592.4,360 1591.7,354.6 1591.1,358.3 1590.4,357.5 1589.7,358.1 1589.1,358.4 1588.4,356.1 1587.8,357.1 1587.1,355.9 1586.4,352.1 1585.8,353 1585.1,362.4 1584.4,352.3 1583.8,352.3 1583.1,352.4 1582.4,356.2 1581.8,358.9 1581.1,354.3 1580.4,354.2 1579.8,354.7 1579.1,361.1 1578.5,358.2 1577.8,354.1 1577.1,357.3 1576.5,357.2 1575.8,355.5 1575.1,354.4 1574.5,353.4 1573.8,359.4 1573.1,354.3 1572.5,353.8 1571.8,354.8 1571.2,357.3 1570.5,356.7 1569.8,354.2 1569.2,357.7 1568.5,353.8 1567.8,357 1567.2,354.9 1566.5,356.9 1565.8,354.6 1565.2,352.5 1564.5,356.7 1563.9,353.6 1563.2,354.5 1562.5,353.7 1561.9,357 1561.2,354.6 1560.5,353.1 1559.9,355.4 1559.2,352.7 1558.5,354.2 1557.9,354 1557.2,352 1556.5,353.6 1555.9,356.7 1555.2,353.9 1554.6,361 1553.9,354.5 1553.2,356.5 1552.6,351.8 1551.9,355.1 1551.2,351.7 1550.6,352.1 1549.9,351.9 1549.2,355.5 1548.6,352.5 1547.9,353.6 1547.3,355.4 1546.6,355.2 1545.9,353.8 1545.3,353.4 1544.6,353 1543.9,357.5 1543.3,356 1542.6,352 1541.9,353.6 1541.3,361 1540.6,354.2 1540,352.7 1539.3,357.7 1538.6,352.9 1538,352.1 1537.3,354.3 1536.6,352.6 1536,352.5 1535.3,354.8 1534.6,354 1534,352.3 1533.3,352.3 1532.6,351.3 1532,352.7 1531.3,351.9 1530.7,352 1530,351.7 1529.3,354.2 1528.7,360.2 1528,354.1 1527.3,354.9 1526.7,355.5 1526,352.3 1525.3,355.5 1524.7,354.3 1524,351.4 1523.4,352.7 1522.7,351 1522,351 1521.4,354.3 1520.7,350.7 1520,356.9 1519.4,354.7 1518.7,352.4 1518,355.3 1517.4,349.7 1516.7,356.4 1516.1,350.8 1515.4,351.3 1514.7,354.8 1514.1,349.1 1513.4,350.9 1512.7,349.6 1512.1,349 1511.4,353.5 1510.7,349 1510.1,349.9 1509.4,352.3 1508.7,350.7 1508.1,353.2 1507.4,350.5 1506.8,350.8 1506.1,348.5 1505.4,349.9 1504.8,348.9 1504.1,352.8 1503.4,347 1502.8,346.7 1502.1,350.7 1501.4,346 1500.8,345.2 1500.1,346.8 1499.5,341.4 1498.8,341.2 1498.1,343.1 1497.5,339.7 1496.8,334.1 1496.1,334.4 1495.5,328.4 1494.8,324.6 1494.1,320.7 1493.5,315.8 1492.8,313.7 1492.2,305 1491.5,303.8 1490.8,297.7 1490.2,287.7 1489.5,283.5 1488.8,277 1488.2,272.5 1487.5,263.7 1486.8,261.5 1486.2,255.8 1485.5,255.4 1484.8,250 1484.2,250.1 1483.5,253.8 1482.9,256.1 1482.2,262.8 1481.5,266.1 1480.9,279.7 1480.2,279.4 1479.5,283.3 1478.9,289.5 1478.2,299.2 1477.5,302.3 1476.9,307.8 1476.2,316.6 1475.6,320.4 1474.9,326.1 1474.2,330.3 1473.6,333.2 1472.9,338.4 1472.2,340.8 1471.6,343.9 1470.9,343.8 1470.2,346 1469.6,348.2 1468.9,351.3 1468.3,354.5 1467.6,351.8 1466.9,351.1 1466.3,356.5 1465.6,355.8 1464.9,353 1464.3,352.3 1463.6,352.4 1462.9,354.3 1462.3,356.5 1461.6,354.6 1460.9,354.6 1460.3,352 1459.6,354.3 1459,352.6 1458.3,352.3 1457.6,353.1 1457,353.2 1456.3,352.7 1455.6,359.6 1455,353.3 1454.3,352.4 1453.6,353.6 1453,352.1 1452.3,352.5 1451.7,352.9 1451,353.9 1450.3,356.7 1449.7,353.4 1449,352 1448.3,354.1 1447.7,353.9 1447,355 1446.3,353.9 1445.7,353.7 1445,356.6 1444.4,352.2 1443.7,352.5 1443,353.3 1442.4,354.7 1441.7,352.6 1441,352.6 1440.4,358.7 1439.7,356.8 1439,353.6 1438.4,354.2 1437.7,353.6 1437,353.2 1436.4,352 1435.7,352 1435.1,352 1434.4,360.3 1433.7,357.6 1433.1,352.1 1432.4,356.9 1431.7,357.6 1431.1,356.2 1430.4,352.1 1429.7,353.6 1429.1,355.5 1428.4,352.5 1427.8,354 1427.1,354.4 1426.4,358 1425.8,355.5 1425.1,357.3 1424.4,354.4 1423.8,352.1 1423.1,353.8 1422.4,354.9 1421.8,355.2 1421.1,354.8 1420.5,353.9 1419.8,354.5 1419.1,354.7 1418.5,352.1 1417.8,352 1417.1,353.6 1416.5,354.4 1415.8,352.8 1415.1,355.7 1414.5,353.4 1413.8,352.6 1413.2,356.6 1412.5,351.8 1411.8,351.8 1411.2,351.8 1410.5,354.2 1409.8,352.6 1409.2,353.3 1408.5,358 1407.8,354.6 1407.2,355.6 1406.5,360.2 1405.8,352.5 1405.2,357 1404.5,352.2 1403.9,361.3 1403.2,355.9 1402.5,351.7 1401.9,353 1401.2,360.5 1400.5,353.9 1399.9,352 1399.2,354.5 1398.5,354.8 1397.9,361 1397.2,356 1396.6,351.7 1395.9,355.6 1395.2,353 1394.6,351.6 1393.9,356 1393.2,353 1392.6,351.4 1391.9,354 1391.2,352.5 1390.6,351.4 1389.9,353.8 1389.3,351.3 1388.6,351 1387.9,354 1387.3,353.8 1386.6,353.1 1385.9,354.5 1385.3,353.5 1384.6,352.3 1383.9,360.6 1383.3,352.1 1382.6,352.9 1381.9,350.7 1381.3,350.4 1380.6,351.7 1380,352.4 1379.3,353 1378.6,350.2 1378,351.6 1377.3,354.5 1376.6,357.7 1376,353.7 1375.3,352 1374.6,352.6 1374,352.8 1373.3,349.7 1372.7,352.6 1372,351.3 1371.3,353 1370.7,351.2 1370,352.5 1369.3,348.4 1368.7,349 1368,356.1 1367.3,350.1 1366.7,348.2 1366,348.7 1365.4,350.3 1364.7,348.7 1364,355.9 1363.4,349.5 1362.7,352.3 1362,347.4 1361.4,345.6 1360.7,346.2 1360,345.1 1359.4,346.2 1358.7,346.5 1358,344.3 1357.4,343.9 1356.7,339.9 1356.1,339.5 1355.4,337 1354.7,334.3 1354.1,336.3 1353.4,329.6 1352.7,325.5 1352.1,325.6 1351.4,315.3 1350.7,309 1350.1,304.3 1349.4,295.1 1348.8,295.3 1348.1,284 1347.4,277.3 1346.8,268.4 1346.1,263.8 1345.4,260.6 1344.8,251.2 1344.1,248.6 1343.4,244.7 1342.8,241.6 1342.1,243 1341.5,243.3 1340.8,248.5 1340.1,251.7 1339.5,258.6 1338.8,266.3 1338.1,270 1337.5,281.5 1336.8,289.9 1336.1,292.3 1335.5,296.8 1334.8,304.5 1334.1,309.4 1333.5,316.6 1332.8,321.6 1332.2,332.4 1331.5,332.8 1330.8,337.4 1330.2,337.9 1329.5,340.4 1328.8,344 1328.2,346 1327.5,346.9 1326.8,348.5 1326.2,351.1 1325.5,358 1324.9,351.1 1324.2,353.6 1323.5,350.8 1322.9,355.3 1322.2,351.3 1321.5,353.5 1320.9,351.7 1320.2,355.6 1319.5,352.6 1318.9,351.6 1318.2,353.7 1317.6,354.4 1316.9,352.5 1316.2,354.4 1315.6,354.8 1314.9,353.8 1314.2,355.3 1313.6,356.6 1312.9,352.6 1312.2,358.1 1311.6,356 1310.9,354.6 1310.2,356.4 1309.6,352.3 1308.9,355.6 1308.3,356.4 1307.6,354.1 1306.9,353.1 1306.3,353.7 1305.6,358.3 1304.9,353.5 1304.3,358.6 1303.6,352.3 1302.9,353.4 1302.3,355.9 1301.6,358 1301,355.1 1300.3,352.8 1299.6,354 1299,354.1 1298.3,353.2 1297.6,353.3 1297,354.5 1296.3,354.8 1295.6,353.6 1295,354.2 1294.3,355.9 1293.7,356.9 1293,352.1 1292.3,360.1 1291.7,355.4 1291,357.7 1290.3,353.2 1289.7,353.2 1289,352.5 1288.3,353.9 1287.7,353.1 1287,356.2 1286.3,356 1285.7,356.9 1285,355 1284.4,355.4 1283.7,352.2 1283,354.9 1282.4,352 1281.7,352.1 1281,351.9 1280.4,352.8 1279.7,353.6 1279,354.5 1278.4,353 1277.7,352 1277.1,353.1 1276.4,355.4 1275.7,355.9 1275.1,353.6 1274.4,353.1 1273.7,354.2 1273.1,354.6 1272.4,353.1 1271.7,352.6 1271.1,353.4 1270.4,355.1 1269.8,352.8 1269.1,351.9 1268.4,351.8 1267.8,353.4 1267.1,358 1266.4,356.7 1265.8,353.2 1265.1,353 1264.4,351.7 1263.8,354.2 1263.1,351.9 1262.4,355.4 1261.8,354.7 1261.1,354 1260.5,353 1259.8,354.5 1259.1,355.7 1258.5,354 1257.8,354.1 1257.1,351.9 1256.5,352.2 1255.8,352.3 1255.1,352.4 1254.5,352.7 1253.8,360.3 1253.2,357.4 1252.5,352.1 1251.8,352.1 1251.2,356.1 1250.5,352.3 1249.8,351.7 1249.2,353.1 1248.5,351.7 1247.8,354 1247.2,353.5 1246.5,354.3 1245.9,351.6 1245.2,351 1244.5,355.1 1243.9,353 1243.2,353.6 1242.5,351.2 1241.9,356.4 1241.2,350.8 1240.5,351.8 1239.9,351.1 1239.2,352.4 1238.5,350.9 1237.9,350.5 1237.2,352.6 1236.6,353.8 1235.9,351.6 1235.2,350.7 1234.6,356.2 1233.9,352.7 1233.2,356 1232.6,350.3 1231.9,351.9 1231.2,350.8 1230.6,349.4 1229.9,352.2 1229.3,355.5 1228.6,351.4 1227.9,351.1 1227.3,350.5 1226.6,352.2 1225.9,350.2 1225.3,352.3 1224.6,352.4 1223.9,355.1 1223.3,350.5 1222.6,348.7 1222,351.8 1221.3,351.1 1220.6,349.7 1220,349.8 1219.3,348.9 1218.6,348.2 1218,350.6 1217.3,345.4 1216.6,349.4 1216,344 1215.3,343.5 1214.6,344.2 1214,343.4 1213.3,340.9 1212.7,336.6 1212,335 1211.3,332 1210.7,337 1210,334.7 1209.3,321 1208.7,321.1 1208,314.7 1207.3,305.9 1206.7,304 1206,295.4 1205.4,288.5 1204.7,281.7 1204,274 1203.4,269.6 1202.7,267.8 1202,255.8 1201.4,251.2 1200.7,248.8 1200,247.9 1199.4,245.4 1198.7,242.3 1198.1,251.5 1197.4,251 1196.7,257.3 1196.1,259.9 1195.4,266.4 1194.7,271.7 1194.1,279.4 1193.4,290.8 1192.7,291.9 1192.1,299.3 1191.4,306.7 1190.8,313.1 1190.1,320.5 1189.4,322.9 1188.8,328.1 1188.1,335.8 1187.4,335.8 1186.8,342.6 1186.1,343.4 1185.4,350.5 1184.8,345.2 1184.1,352.4 1183.4,350.2 1182.8,349 1182.1,352.9 1181.5,350.2 1180.8,351 1180.1,350.8 1179.5,356.9 1178.8,354.3 1178.1,351.2 1177.5,354.4 1176.8,354 1176.1,353.3 1175.5,352.4 1174.8,356 1174.2,351.9 1173.5,352.6 1172.8,352 1172.2,355.5 1171.5,356.7 1170.8,355.7 1170.2,357.4 1169.5,353.3 1168.8,354.6 1168.2,354.5 1167.5,360.4 1166.9,353.1 1166.2,354.2 1165.5,356.5 1164.9,356 1164.2,354.6 1163.5,354 1162.9,352.5 1162.2,353.6 1161.5,358.4 1160.9,352.3 1160.2,353.9 1159.5,356.7 1158.9,356.8 1158.2,352.2 1157.6,352.7 1156.9,354.7 1156.2,354.4 1155.6,353.2 1154.9,354.6 1154.2,352.2 1153.6,357.5 1152.9,353.4 1152.2,352.5 1151.6,352.1 1150.9,354.7 1150.3,354.1 1149.6,353.2 1148.9,352.5 1148.3,355.8 1147.6,355.3 1146.9,359.2 1146.3,357.8 1145.6,353.4 1144.9,355.1 1144.3,354.8 1143.6,352.4 1143,355.1 1142.3,353.8 1141.6,353.3 1141,352.3 1140.3,354.5 1139.6,354.5 1139,352.7 1138.3,354.6 1137.6,357.3 1137,353.2 1136.3,352.9 1135.6,352.8 1135,352.9 1134.3,352.8 1133.7,355.8 1133,356.5 1132.3,353.2 1131.7,352.5 1131,352.9 1130.3,354.5 1129.7,352.5 1129,355.4 1128.3,354.1 1127.7,353.9 1127,354.1 1126.4,352.8 1125.7,354.1 1125,354.4 1124.4,356.7 1123.7,356.4 1123,353 1122.4,355 1121.7,353.2 1121,353.4 1120.4,355.1 1119.7,352.4 1119.1,360.5 1118.4,352.6 1117.7,353.7 1117.1,352.7 1116.4,353.5 1115.7,353 1115.1,355.3 1114.4,351.9 1113.7,353.6 1113.1,359.3 1112.4,355.4 1111.7,352.5 1111.1,354.5 1110.4,360.3 1109.8,352.9 1109.1,356.3 1108.4,352.2 1107.8,353.3 1107.1,351.6 1106.4,355.8 1105.8,356.1 1105.1,353.3 1104.4,352.9 1103.8,355.2 1103.1,352.8 1102.5,354.7 1101.8,356.9 1101.1,357.3 1100.5,354.9 1099.8,353.3 1099.1,356.5 1098.5,359 1097.8,354.7 1097.1,354.6 1096.5,351.7 1095.8,353.4 1095.2,350.9 1094.5,356.5 1093.8,354.4 1093.2,353.2 1092.5,351.2 1091.8,353.5 1091.2,353.5 1090.5,355.1 1089.8,351.6 1089.2,352.6 1088.5,352.2 1087.8,351.4 1087.2,351.5 1086.5,351.9 1085.9,357.1 1085.2,349.6 1084.5,352.5 1083.9,354.3 1083.2,352.7 1082.5,350.5 1081.9,353.3 1081.2,350.6 1080.5,351.9 1079.9,348.8 1079.2,349.8 1078.6,348.8 1077.9,353.7 1077.2,349.7 1076.6,349.6 1075.9,352.1 1075.2,350.6 1074.6,352 1073.9,356.6 1073.2,348.4 1072.6,346.7 1071.9,351 1071.3,349.3 1070.6,347.5 1069.9,346.6 1069.3,348.3 1068.6,347 1067.9,343.7 1067.3,347.1 1066.6,343.6 1065.9,348.5 1065.3,338.2 1064.6,341.7 1063.9,337.3 1063.3,334.3 1062.6,330.4 1062,327.2 1061.3,320.2 1060.6,316 1060,309.4 1059.3,304.6 1058.6,297.5 1058,300.3 1057.3,294.3 1056.6,279.8 1056,275.3 1055.3,266.4 1054.7,262.1 1054,256.5 1053.3,250.3 1052.7,248.3 1052,243.9 1051.3,244 1050.7,247 1050,250.6 1049.3,252.3 1048.7,260.7 1048,265.4 1047.4,269.8 1046.7,281 1046,290 1045.4,291.4 1044.7,297.5 1044,304.3 1043.4,311.2 1042.7,318.8 1042,322.8 1041.4,328.5 1040.7,334.8 1040,334.1 1039.4,338.9 1038.7,339.9 1038.1,345.8 1037.4,345.5 1036.7,346 1036.1,347.9 1035.4,354.4 1034.7,350.7 1034.1,352 1033.4,350.2 1032.7,351.2 1032.1,352.7 1031.4,353.2 1030.8,351.7 1030.1,351.3 1029.4,359 1028.8,353.8 1028.1,355.1 1027.4,354.5 1026.8,353.8 1026.1,352 1025.4,354.8 1024.8,351.9 1024.1,355.5 1023.5,352.3 1022.8,354.4 1022.1,352.2 1021.5,354.6 1020.8,353 1020.1,352.1 1019.5,352.1 1018.8,355.7 1018.1,356.5 1017.5,352 1016.8,359.9 1016.1,356.7 1015.5,355.6 1014.8,353.1 1014.2,353.9 1013.5,352.1 1012.8,353.1 1012.2,352.8 1011.5,356.4 1010.8,356.5 1010.2,352.9 1009.5,354.6 1008.8,355 1008.2,352.2 1007.5,353.7 1006.9,358.5 1006.2,352.8 1005.5,355.2 1004.9,352.6 1004.2,352.3 1003.5,352.1 1002.9,356.5 1002.2,353.1 1001.5,354.4 1000.9,356.4 1000.2,356.7 999.6,353.2 998.9,352.4 998.2,355 997.6,355.5 996.9,355.8 996.2,357.5 995.6,354.8 994.9,354.8 994.2,353.1 993.6,354.2 992.9,352.3 992.2,355.4 991.6,357.2 990.9,354.9 990.3,353.4 989.6,352.2 988.9,352.4 988.3,353.4 987.6,352.4 986.9,352.4 986.3,353.4 985.6,353 984.9,354.3 984.3,353.3 983.6,354.5 983,352.7 982.3,351.9 981.6,354.3 981,355.8 980.3,354.3 979.6,353.9 979,354.3 978.3,351.9 977.6,354.1 977,352.9 976.3,354.1 975.7,356.7 975,352.7 974.3,354.1 973.7,352.7 973,353.2 972.3,353.9 971.7,353.3 971,359.8 970.3,351.9 969.7,352 969,352.7 968.3,353.6 967.7,356.7 967,353 966.4,352.2 965.7,351.8 965,351.9 964.4,356.9 963.7,352.4 963,353.3 962.4,357.4 961.7,352 961,355.5 960.4,360.5 959.7,355.3 959.1,352.8 958.4,354.1 957.7,358.3 957.1,353.6 956.4,358.7 955.7,354.1 955.1,352.8 954.4,355.1 953.7,352.6 953.1,353.1 952.4,354.2 951.8,352.6 951.1,351 950.4,358.3 949.8,350.8 949.1,352 948.4,353.6 947.8,352.8 947.1,352 946.4,355.1 945.8,354.7 945.1,354 944.5,350.5 943.8,352.1 943.1,350.6 942.5,356.1 941.8,350.5 941.1,352.1 940.5,349.8 939.8,353.2 939.1,354.3 938.5,351.4 937.8,355.9 937.1,350.7 936.5,352.9 935.8,349.2 935.2,355 934.5,350 933.8,353.3 933.2,351.4 932.5,348.6 931.8,354.7 931.2,348.4 930.5,350.6 929.8,349.9 929.2,348.6 928.5,347.2 927.9,349.3 927.2,350.3 926.5,347 925.9,350.6 925.2,348 924.5,352.1 923.9,353.7 923.2,348.8 922.5,343.6 921.9,344.4 921.2,343.9 920.6,340.2 919.9,340.5 919.2,337.8 918.6,341.6 917.9,333.3 917.2,333.2 916.6,325.5 915.9,321.8 915.2,318 914.6,313.2 913.9,305.6 913.2,302.3 912.6,293.3 911.9,287.1 911.3,282.3 910.6,275.8 909.9,266.5 909.3,263.1 908.6,255.3 907.9,252.5 907.3,247.6 906.6,246.7 905.9,247.5 905.3,241.7 904.6,243.6 904,251.7 903.3,252.1 902.6,257.7 902,267.9 901.3,269.9 900.6,278.2 900,284 899.3,292.9 898.6,298.7 898,309.2 897.3,312.8 896.7,318.7 896,321.9 895.3,329.5 894.7,333.9 894,334.9 893.3,339.2 892.7,344.4 892,343.6 891.3,349.1 890.7,346.3 890,347.7 889.3,349 888.7,351.9 888,353.1 887.4,351.9 886.7,351.4 886,352.6 885.4,351.6 884.7,355.5 884,351.5 883.4,351.6 882.7,352.8 882,353.9 881.4,353.3 880.7,359.7 880.1,353.8 879.4,352.4 878.7,353 878.1,355 877.4,351.9 876.7,351.9 876.1,353.2 875.4,352.9 874.7,353.4 874.1,352.7 873.4,354.6 872.8,356.3 872.1,352.2 871.4,353.7 870.8,356 870.1,352.2 869.4,355.5 868.8,354.2 868.1,353.8 867.4,352 866.8,352 866.1,359.1 865.4,355.5 864.8,355.1 864.1,353 863.5,353.4 862.8,352.2 862.1,356.1 861.5,354.4 860.8,354.3 860.1,358.7 859.5,353.4 858.8,356.8 858.1,354.7 857.5,355.4 856.8,357.4 856.2,356 855.5,353.5 854.8,353.7 854.2,353.8 853.5,354.5 852.8,354.2 852.2,353.8 851.5,354 850.8,354.7 850.2,353.5 849.5,354.5 848.9,352.1 848.2,354.3 847.5,358.4 846.9,355.3 846.2,353.6 845.5,352 844.9,357.3 844.2,352.8 843.5,352.5 842.9,355.6 842.2,353.1 841.5,354.8 840.9,352.1 840.2,354.2 839.6,353.2 838.9,353.6 838.2,352.7 837.6,354.2 836.9,353.5 836.2,353.7 835.6,352.3 834.9,353.1 834.2,352.2 833.6,358 832.9,353.6 832.3,355.7 831.6,357.1 830.9,352.9 830.3,354.6 829.6,354 828.9,352.1 828.3,355.2 827.6,353.3 826.9,358.8 826.3,355.6 825.6,352.9 825,352.6 824.3,355.5 823.6,352.9 823,355.1 822.3,353 821.6,352.5 821,355.8 820.3,352.2 819.6,354 819,357.5 818.3,351.6 817.6,356.4 817,354.4 816.3,351.7 815.7,355.3 815,352.7 814.3,351.4 813.7,352.6 813,353.6 812.3,351.1 811.7,358 811,351.6 810.3,350.8 809.7,352.2 809,353.6 808.4,354.8 807.7,353.9 807,351.3 806.4,352.5 805.7,353 805,358 804.4,353.9 803.7,350.2 803,351.5 802.4,351 801.7,351.2 801.1,357.6 800.4,349.7 799.7,352.8 799.1,353.3 798.4,353.9 797.7,349.3 797.1,352.5 796.4,350.1 795.7,349.9 795.1,353.9 794.4,351 793.7,351.5 793.1,352.1 792.4,349.8 791.8,348.7 791.1,355.1 790.4,353.4 789.8,348.8 789.1,348.7 788.4,347.4 787.8,352 787.1,347.3 786.4,348.4 785.8,350.1 785.1,346.5 784.5,349.4 783.8,346.4 783.1,348.4 782.5,344 781.8,346.4 781.1,343 780.5,343.4 779.8,339.3 779.1,337.3 778.5,342.4 777.8,336 777.2,332.8 776.5,326.3 775.8,328.7 775.2,318.8 774.5,311.9 773.8,307.2 773.2,305.1 772.5,296.8 771.8,286.7 771.2,279.9 770.5,271.9 769.8,266.9 769.2,258.9 768.5,252.7 767.9,252.2 767.2,242.2 766.5,240.3 765.9,235.3 765.2,232.1 764.5,234.6 763.9,239.9 763.2,242.3 762.5,248.5 761.9,256.3 761.2,261.1 760.6,266.9 759.9,275.2 759.2,284.3 758.6,289.8 757.9,299.3 757.2,303.3 756.6,310.8 755.9,316.5 755.2,321.8 754.6,329.5 753.9,333.5 753.3,335.5 752.6,340 751.9,341.2 751.3,349.7 750.6,352.6 749.9,349 749.3,351.5 748.6,352.4 747.9,351.6 747.3,357.2 746.6,356 745.9,356.5 745.3,351.2 744.6,355.4 744,352.5 743.3,352.3 742.6,361.1 742,351.9 741.3,352.7 740.6,352.7 740,353.1 739.3,357.7 738.6,354.5 738,353.6 737.3,352.7 736.7,353.2 736,355.9 735.3,352.4 734.7,354 734,353.9" fill="#ff0000"/>
<line x1="981" y1="73" x2="1072" y2="73" stroke="#ff6b6b" stroke-width="4"/>
<text x="1084" y="85.5" font-size="39" font-weight="bold" textLength="566" lengthAdjust="spacingAndGlyphs">pump power=3 W, <tspan font-style="italic">f</tspan>=156.3 kHz</text>
</g>
<path d="M729.2 45.5H1652.2" stroke="#151515" stroke-width="4.5"/>
<path d="M1650 45.5V376.2" stroke="#151515" stroke-width="4.5"/>
<path d="M729.2 376.2H1652.2" stroke="#151515" stroke-width="4.5"/>
<path d="M731.5 45.5V378.4" stroke="#3a3a3a" stroke-width="4.5"/>
<path d="M731.5 376.2v6 M846.3 376.2v5 M961.1 376.2v6 M1075.9 376.2v5 M1190.8 376.2v6 M1305.6 376.2v5 M1420.4 376.2v6 M1535.2 376.2v5 M1650 376.2v6 M731.5 147.6h-7 M731.5 247.7h-7 M731.5 346.4h-7" stroke="#111" stroke-width="3"/>
<text x="731.5" y="416.5" font-size="36" font-weight="bold" text-anchor="middle" textLength="52.8" lengthAdjust="spacingAndGlyphs">-20</text>
<text x="961.1" y="416.5" font-size="36" font-weight="bold" text-anchor="middle" textLength="52.8" lengthAdjust="spacingAndGlyphs">-10</text>
<text x="1190.8" y="416.5" font-size="36" font-weight="bold" text-anchor="middle" textLength="33" lengthAdjust="spacingAndGlyphs">-0</text>
<text x="1420.4" y="416.5" font-size="36" font-weight="bold" text-anchor="middle" textLength="39.6" lengthAdjust="spacingAndGlyphs">10</text>
<text x="1650" y="416.5" font-size="36" font-weight="bold" text-anchor="middle" textLength="39.6" lengthAdjust="spacingAndGlyphs">20</text>
<text x="1076" y="443" font-size="50" font-weight="bold" textLength="113" lengthAdjust="spacingAndGlyphs">Time</text>
<text x="1214" y="443" font-size="50" font-weight="bold" textLength="82.5" lengthAdjust="spacingAndGlyphs">(μs)</text>
<polyline points="188.2,1666.2 189.4,1665.7 190.7,1665.7 191.9,1665.4 193.2,1665.1 194.4,1665.3 195.7,1666 196.9,1666.5 198.2,1666.2 199.4,1665.6 200.7,1666.1 201.9,1667 203.2,1667.1 204.4,1666.5 205.7,1666.1 206.9,1666.1 208.2,1665.5 209.4,1664.5 210.7,1664.5 211.9,1666.1 213.2,1667.6 214.4,1668.2 215.7,1667.9 216.9,1667 218.2,1666.5 219.4,1666.4 220.7,1666.2 221.9,1665.8 223.2,1665.8 224.4,1666.2 225.7,1666.5 226.9,1665.9 228.2,1664.6 229.4,1664.6 230.7,1665.5 231.9,1666 233.2,1665.9 234.4,1665.9 235.7,1665.8 236.9,1665.6 238.2,1665.8 239.4,1666.4 240.7,1666.7 241.9,1666.4 243.2,1666.3 244.4,1666.1 245.7,1665.6 246.9,1665.3 248.2,1665.4 249.4,1666 250.7,1666.1 251.9,1665.5 253.2,1665 254.4,1665.4 255.7,1665.8 256.9,1666.1 258.2,1666.2 259.4,1665.8 260.7,1665.8 261.9,1666.4 263.2,1666.5 264.4,1665.9 265.7,1665.2 266.9,1664.7 268.1,1664.8 269.4,1665.1 270.6,1665.3 271.9,1665.9 273.1,1666 274.4,1665.7 275.6,1665.5 276.9,1665.5 278.1,1665.6 279.4,1666.1 280.6,1666.4 281.9,1666.2 283.1,1666.5 284.4,1666.9 285.6,1666.9 286.9,1667.1 288.1,1666.9 289.4,1665.8 290.6,1665.4 291.9,1666 293.1,1666.7 294.4,1666.8 295.6,1666.3 296.9,1666.1 298.1,1665.8 299.4,1665.6 300.6,1666.2 301.9,1666.1 303.1,1665.5 304.4,1665.4 305.6,1665.9 306.9,1666.4 308.1,1666.4 309.4,1666.5 310.6,1666.3 311.9,1666.1 313.1,1666.1 314.4,1666.3 315.6,1666.5 316.9,1666.3 318.1,1666.3 319.4,1667.1 320.6,1667.5 321.9,1666.6 323.1,1665.8 324.4,1665.2 325.6,1664.9 326.9,1665.2 328.1,1665.7 329.4,1665.9 330.6,1666.2 331.9,1666.6 333.1,1667 334.4,1667 335.6,1666.1 336.9,1665.5 338.1,1666 339.4,1667 340.6,1667.2 341.9,1666.4 343.1,1665.5 344.4,1665.5 345.6,1666 346.8,1666.5 348.1,1667 349.3,1667.2 350.6,1666.8 351.8,1666.5 353.1,1666.4 354.3,1665.9 355.6,1665.3 356.8,1665.6 358.1,1665.9 359.3,1665.4 360.6,1665.2 361.8,1665.5 363.1,1665.4 364.3,1665.3 365.6,1665.8 366.8,1666.6 368.1,1667 369.3,1666.9 370.6,1666.1 371.8,1665.2 373.1,1665 374.3,1665 375.6,1665.3 376.8,1665.3 378.1,1666.2 379.3,1667.1 380.6,1667.3 381.8,1666.9 383.1,1666.3 384.3,1665.7 385.6,1665.3 386.8,1665.2 388.1,1665.6 389.3,1666.5 390.6,1667.3 391.8,1666.8 393.1,1666.3 394.3,1666.5 395.6,1666.2 396.8,1665.7 398.1,1665.6 399.3,1665.8 400.6,1666 401.8,1666.2 403.1,1666.1 404.3,1665.6 405.6,1665.5 406.8,1665.8 408.1,1666.3 409.3,1666.5 410.6,1666.8 411.8,1666.7 413.1,1666.3 414.3,1665.8 415.6,1666 416.8,1666.2 418.1,1665.7 419.3,1665.5 420.6,1665.9 421.8,1666.9 423.1,1666.5 424.3,1665.4 425.5,1665.7 426.8,1667.1 428,1667.4 429.3,1666.2 430.5,1665.4 431.8,1665.7 433,1665.7 434.3,1665.4 435.5,1664.8 436.8,1664.2 438,1664.5 439.3,1665.8 440.5,1666.2 441.8,1665.8 443,1665.5 444.3,1665.3 445.5,1664.6 446.8,1664.1 448,1663.9 449.3,1664.2 450.5,1664.8 451.8,1665.3 453,1666.1 454.3,1665.8 455.5,1665.4 456.8,1665.6 458,1665.5 459.3,1664.8 460.5,1665.5 461.8,1666.7 463,1666.8 464.3,1666.2 465.5,1666.2 466.8,1666.7 468,1666.6 469.3,1666.1 470.5,1664.9 471.8,1664.2 473,1664.4 474.3,1664.1 475.5,1663.9 476.8,1665.2 478,1666.5 479.3,1666.2 480.5,1665.6 481.8,1665.4 483,1665.3 484.3,1665.4 485.5,1665.4 486.8,1665.4 488,1665.5 489.3,1665.4 490.5,1664.8 491.8,1663.9 493,1663.6 494.3,1664 495.5,1664.9 496.8,1665.8 498,1665.7 499.3,1665.7 500.5,1666.2 501.8,1665.9 503,1665.2 504.2,1665.4 505.5,1665.9 506.7,1665.6 508,1664.9 509.2,1664.5 510.5,1664 511.7,1663.8 513,1663.8 514.2,1663.7 515.5,1664.4 516.7,1665.3 518,1665.4 519.2,1665.1 520.5,1665.1 521.7,1665.4 523,1665.7 524.2,1665.6 525.5,1665 526.7,1664.4 528,1664.2 529.2,1664.5 530.5,1665.2 531.7,1665.4 533,1665.2 534.2,1665.1 535.5,1664.8 536.7,1664.6 538,1665 539.2,1665.4 540.5,1665.5 541.7,1664.7 543,1664.4 544.2,1664.2 545.5,1664 546.7,1663.4 548,1663.5 549.2,1664.5 550.5,1665 551.7,1664.8 553,1664.1 554.2,1663.9 555.5,1664.2 556.7,1664 558,1663.5 559.2,1663.1 560.5,1662.6 561.7,1662.3 563,1662.8 564.2,1663.8 565.5,1664.5 566.7,1664.5 568,1664.1 569.2,1663.9 570.5,1664.3 571.7,1664.6 573,1664.2 574.2,1663.9 575.5,1663.4 576.7,1663.1 578,1663.7 579.2,1664.2 580.5,1663.6 581.7,1663.1 582.9,1663.4 584.2,1663.6 585.4,1663.4 586.7,1662.9 587.9,1662 589.2,1661.8 590.4,1662.4 591.7,1663.2 592.9,1663.7 594.2,1663.6 595.4,1663.3 596.7,1663.9 597.9,1664.3 599.2,1663.8 600.4,1662.9 601.7,1662.1 602.9,1661.3 604.2,1660.7 605.4,1660.8 606.7,1661.3 607.9,1662 609.2,1662.5 610.4,1662.7 611.7,1662.6 612.9,1662.3 614.2,1661.8 615.4,1661.9 616.7,1662.3 617.9,1662 619.2,1660.8 620.4,1660.3 621.7,1660.4 622.9,1660.4 624.2,1660.5 625.4,1660.7 626.7,1660.9 627.9,1661.4 629.2,1661.7 630.4,1661.6 631.7,1661.2 632.9,1660.1 634.2,1659.1 635.4,1659.5 636.7,1660.3 637.9,1660.7 639.2,1660.1 640.4,1659.2 641.7,1658.4 642.9,1658.3 644.2,1659.1 645.4,1659.9 646.7,1660.4 647.9,1660.4 649.2,1660.4 650.4,1659.7 651.7,1658.7 652.9,1658.4 654.2,1658 655.4,1657.9 656.7,1658 657.9,1658.3 659.2,1658.2 660.4,1657.5 661.6,1656.2 662.9,1655.5 664.1,1655.8 665.4,1656.2 666.6,1656.4 667.9,1656.9 669.1,1657.2 670.4,1656.7 671.6,1655.5 672.9,1654.2 674.1,1654 675.4,1654.6 676.6,1654.3 677.9,1653 679.1,1651.9 680.4,1651.9 681.6,1652.1 682.9,1651.7 684.1,1651 685.4,1650.4 686.6,1649.8 687.9,1649.7 689.1,1649.8 690.4,1649.3 691.6,1648.3 692.9,1647.5 694.1,1646.9 695.4,1645.8 696.6,1644.7 697.9,1643.5 699.1,1642.4 700.4,1641.8 701.6,1641.3 702.9,1641 704.1,1640.7 705.4,1640.3 706.6,1639.5 707.9,1638.6 709.1,1638.2 710.4,1638.5 711.6,1639.1 712.9,1639 714.1,1638.3 715.4,1637.8 716.6,1637.3 717.9,1636.1 719.1,1635.1 720.4,1634.6 721.6,1633.5 722.9,1632.5 724.1,1632.2 725.4,1631.9 726.6,1631.5 727.9,1630.5 729.1,1629 730.4,1627.8 731.6,1626.7 732.9,1625.3 734.1,1624.4 735.4,1624.1 736.6,1623.3 737.9,1622.2 739.1,1621.6 740.3,1620.8 741.6,1619.5 742.8,1618.3 744.1,1617.2 745.3,1616 746.6,1614.9 747.8,1613.7 749.1,1612.4 750.3,1611.8 751.6,1611.2 752.8,1610.3 754.1,1609.8 755.3,1609 756.6,1607.7 757.8,1606.1 759.1,1604.4 760.3,1602.6 761.6,1600.9 762.8,1599.6 764.1,1598.2 765.3,1596.7 766.6,1595 767.8,1593.6 769.1,1592.5 770.3,1591.4 771.6,1589.9 772.8,1588.5 774.1,1587.1 775.3,1585.4 776.6,1583.4 777.8,1581.9 779.1,1580.4 780.3,1578.6 781.6,1576.8 782.8,1574.7 784.1,1572.4 785.3,1570.5 786.6,1568.9 787.8,1567.4 789.1,1565.7 790.3,1563.4 791.6,1560.6 792.8,1557.7 794.1,1555.3 795.3,1553.5 796.6,1551.7 797.8,1549.8 799.1,1548 800.3,1544.9 801.6,1541.7 802.8,1539.3 804.1,1536.4 805.3,1532.5 806.6,1528.6 807.8,1525.3 809.1,1522.1 810.3,1517.8 811.6,1513.3 812.8,1510.2 814.1,1506.6 815.3,1501.4 816.6,1496.5 817.8,1493 819,1489.9 820.3,1486.1 821.5,1481.6 822.8,1477.2 824,1474.1 825.3,1471.6 826.5,1469.1 827.8,1466.3 829,1463.1 830.3,1460.6 831.5,1457.9 832.8,1454.5 834,1451 835.3,1448 836.5,1444.5 837.8,1440.8 839,1437.2 840.3,1434.4 841.5,1432.3 842.8,1430.4 844,1427.6 845.3,1424.2 846.5,1420.7 847.8,1417.2 849,1414.1 850.3,1411.7 851.5,1409.5 852.8,1406.8 854,1404.1 855.3,1400.7 856.5,1397.4 857.8,1394.7 859,1391.9 860.3,1389.2 861.5,1386.7 862.8,1384.6 864,1382.4 865.3,1380.2 866.5,1377.9 867.8,1375.1 869,1372.8 870.3,1372 871.5,1371.9 872.8,1370.9 874,1369.1 875.3,1368 876.5,1366.7 877.8,1365 879,1364.5 880.3,1365 881.5,1364.6 882.8,1363.7 884,1362.9 885.3,1362.3 886.5,1362.4 887.8,1362.7 889,1363.1 890.3,1363.6 891.5,1363.6 892.8,1363.5 894,1363.4 895.3,1363.9 896.5,1364.9 897.7,1365.4 899,1365 900.2,1365.3 901.5,1366.6 902.7,1367.9 904,1368.6 905.2,1368.9 906.5,1369 907.7,1370 909,1371.2 910.2,1372.1 911.5,1374 912.7,1376.1 914,1377.4 915.2,1377.9 916.5,1378.4 917.7,1379.9 919,1382.1 920.2,1384.2 921.5,1386.1 922.7,1387.4 924,1388.7 925.2,1390.8 926.5,1393.2 927.7,1395 929,1396.4 930.2,1398.2 931.5,1400.3 932.7,1402.9 934,1405.6 935.2,1408.7 936.5,1411.2 937.7,1412.8 939,1414.2 940.2,1416.9 941.5,1420.4 942.7,1423.7 944,1426.9 945.2,1429.6 946.5,1431.7 947.7,1434.1 949,1437.7 950.2,1442.1 951.5,1445.6 952.7,1448.4 954,1451.7 955.2,1455.2 956.5,1458.4 957.7,1461.8 959,1465.2 960.2,1468.5 961.5,1472 962.7,1475 964,1477.2 965.2,1479.7 966.5,1482.9 967.7,1486 969,1489.5 970.2,1493.5 971.5,1496.8 972.7,1500 974,1503.3 975.2,1506.6 976.5,1510.4 977.7,1513.6 978.9,1515.5 980.2,1517.1 981.4,1519.1 982.7,1522.7 983.9,1526.5 985.2,1529 986.4,1531 987.7,1533.6 988.9,1536.3 990.2,1538.8 991.4,1540.5 992.7,1541.9 993.9,1543.4 995.2,1545.3 996.4,1548.2 997.7,1550.3 998.9,1551 1000.2,1552.3 1001.4,1555.4 1002.7,1558.6 1003.9,1560.8 1005.2,1561.7 1006.4,1563.1 1007.7,1565.3 1008.9,1567.3 1010.2,1568.3 1011.4,1569.5 1012.7,1571.4 1013.9,1574.1 1015.2,1576.7 1016.4,1578.6 1017.7,1579.6 1018.9,1579.9 1020.2,1580.6 1021.4,1582.1 1022.7,1583.8 1023.9,1584.6 1025.2,1584.9 1026.4,1585.9 1027.7,1587.5 1028.9,1589.1 1030.2,1590.2 1031.4,1591.1 1032.7,1592.3 1033.9,1593.3 1035.2,1594.2 1036.4,1595.4 1037.7,1596.2 1038.9,1596.6 1040.2,1597.3 1041.4,1598.4 1042.7,1599 1043.9,1599 1045.2,1600 1046.4,1601.5 1047.7,1602.7 1048.9,1603.7 1050.2,1605 1051.4,1605.3 1052.7,1605.4 1053.9,1606.5 1055.2,1607.7 1056.4,1608.1 1057.6,1608.5 1058.9,1609.5 1060.1,1610.3 1061.4,1610.7 1062.6,1611.4 1063.9,1613.5 1065.1,1615.2 1066.4,1614.7 1067.6,1613.7 1068.9,1613.6 1070.1,1614.7 1071.4,1615.8 1072.6,1616.3 1073.9,1616.6 1075.1,1617.3 1076.4,1618.3 1077.6,1618.6 1078.9,1618.7 1080.1,1619.4 1081.4,1620.7 1082.6,1622.1 1083.9,1623.1 1085.1,1622.9 1086.4,1622.5 1087.6,1622.7 1088.9,1623.3 1090.1,1623.8 1091.4,1624.2 1092.6,1624.3 1093.9,1624.6 1095.1,1625.7 1096.4,1626.8 1097.6,1627.1 1098.9,1627.5 1100.1,1627.5 1101.4,1627.3 1102.6,1627.7 1103.9,1628.5 1105.1,1629.9 1106.4,1631.2 1107.6,1631.6 1108.9,1630.9 1110.1,1630.4 1111.4,1630.7 1112.6,1631.4 1113.9,1632.3 1115.1,1633.3 1116.4,1633.1 1117.6,1632.2 1118.9,1631.7 1120.1,1632.8 1121.4,1634.5 1122.6,1635.9 1123.9,1636.1 1125.1,1635.9 1126.4,1636.6 1127.6,1637.5 1128.9,1637.4 1130.1,1636.6 1131.4,1635.7 1132.6,1635.7 1133.9,1636.3 1135.1,1636.8 1136.3,1636.5 1137.6,1636.6 1138.8,1637.5 1140.1,1638.7 1141.3,1640 1142.6,1640.9 1143.8,1641 1145.1,1640.4 1146.3,1639.8 1147.6,1639.7 1148.8,1640.3 1150.1,1640.4 1151.3,1640.5 1152.6,1640.6 1153.8,1640.8 1155.1,1641.7 1156.3,1643 1157.6,1644.1 1158.8,1644.4 1160.1,1643.8 1161.3,1643.1 1162.6,1642.7 1163.8,1642 1165.1,1641.9 1166.3,1642.8 1167.6,1643.4 1168.8,1643.5 1170.1,1644.2 1171.3,1645.4 1172.6,1645.9 1173.8,1645.9 1175.1,1645.8 1176.3,1645.8 1177.6,1646.1 1178.8,1646 1180.1,1645.2 1181.3,1645.1 1182.6,1645.7 1183.8,1646.2 1185.1,1646.3 1186.3,1646.3 1187.6,1646.3 1188.8,1646.6 1190.1,1647.6 1191.3,1648.1 1192.6,1647.6 1193.8,1646.9 1195.1,1647.2 1196.3,1648.1 1197.6,1648.5 1198.8,1649 1200.1,1649.4 1201.3,1649.4 1202.6,1649 1203.8,1649.3 1205.1,1649.8 1206.3,1649.5 1207.6,1648.7 1208.8,1648.5 1210.1,1648.7 1211.3,1648.9 1212.6,1649.2 1213.8,1649.6 1215,1649.8 1216.3,1650 1217.5,1650.5 1218.8,1651.4 1220,1652 1221.3,1652.2 1222.5,1652.6 1223.8,1652.8 1225,1652.8 1226.3,1653.5 1227.5,1653.8 1228.8,1653.3 1230,1652.7 1231.3,1652.5 1232.5,1652.7 1233.8,1652.9 1235,1652.5 1236.3,1651.9 1237.5,1651.8 1238.8,1652.1 1240,1652.8 1241.3,1653.7 1242.5,1654.2 1243.8,1654 1245,1653.7 1246.3,1653.5 1247.5,1653.4 1248.8,1653.6 1250,1654.1 1251.3,1654.3 1252.5,1654.2 1253.8,1653.8 1255,1654 1256.3,1655.5 1257.5,1656.5 1258.8,1655.9 1260,1655.4 1261.3,1655.8 1262.5,1655.6 1263.8,1654.9 1265,1654.8 1266.3,1655.3 1267.5,1655.1 1268.8,1655 1270,1655.6 1271.3,1656.4 1272.5,1656.1 1273.8,1655 1275,1655 1276.3,1656.3 1277.5,1657.3 1278.8,1657.7 1280,1657.4 1281.3,1656.9 1282.5,1656.5 1283.8,1656.5 1285,1656.7 1286.3,1657.2 1287.5,1657.4 1288.8,1657 1290,1656.9 1291.3,1656.9 1292.5,1656.5 1293.7,1656.3 1295,1656.2 1296.2,1656.1 1297.5,1656.7 1298.7,1657.3 1300,1657.5 1301.2,1656.9 1302.5,1655.9 1303.7,1655.5 1305,1656 1306.2,1656.6 1307.5,1656.9 1308.7,1657.2 1310,1657.1 1311.2,1656.7 1312.5,1657.2 1313.7,1658.1 1315,1658.1 1316.2,1657.9 1317.5,1657.7 1318.7,1657.3 1320,1657.5 1321.2,1657.5 1322.5,1657.6 1323.7,1658.3 1325,1659 1326.2,1658.8 1327.5,1658.8 1328.7,1659.4 1330,1659.9 1331.2,1660.2 1332.5,1659.8 1333.7,1658.8 1335,1658.1 1336.2,1658.3 1337.5,1658.7 1338.7,1658.8 1340,1658.7 1341.2,1658 1342.5,1658.4 1343.7,1658.7 1345,1657.6 1346.2,1656.8 1347.5,1657.3 1348.7,1658.3 1350,1659 1351.2,1659 1352.5,1658.9 1353.7,1659.2 1355,1659.4 1356.2,1659 1357.5,1659 1358.7,1659.7 1360,1659.3 1361.2,1657.2 1362.5,1656.4 1363.7,1657.1 1365,1658 1366.2,1658.9 1367.5,1659.6 1368.7,1659.6 1370,1659 1371.2,1658.6 1372.4,1658.7 1373.7,1659.5 1374.9,1660.6 1376.2,1660.7 1377.4,1660.1 1378.7,1659.7 1379.9,1659.4 1381.2,1659.3 1382.4,1659.1 1383.7,1658.8 1384.9,1659 1386.2,1659.2 1387.4,1659.3 1388.7,1659 1389.9,1659.3 1391.2,1660.3 1392.4,1661 1393.7,1660.7 1394.9,1659.8 1396.2,1658.9 1397.4,1659.1 1398.7,1659.6 1399.9,1660 1401.2,1660.5 1402.4,1661.2 1403.7,1661 1404.9,1659.9 1406.2,1658.9 1407.4,1658.9 1408.7,1659.9 1409.9,1660.8 1411.2,1660.9 1412.4,1660.1 1413.7,1659.7 1414.9,1660.5 1416.2,1661.9 1417.4,1662 1418.7,1660.9 1419.9,1660.2 1421.2,1660.1 1422.4,1660.7 1423.7,1661.5 1424.9,1661 1426.2,1660.4 1427.4,1659.8 1428.7,1659 1429.9,1658.4 1431.2,1659 1432.4,1660 1433.7,1660.3 1434.9,1660.4 1436.2,1660.5 1437.4,1660.1 1438.7,1659.9 1439.9,1660.2 1441.2,1660.5 1442.4,1660.2 1443.7,1660.2 1444.9,1661.3 1446.2,1662 1447.4,1661.6 1448.7,1660.9 1449.9,1660.4 1451.1,1660.2 1452.4,1660.8 1453.6,1661.4 1454.9,1661 1456.1,1659.9 1457.4,1659.8 1458.6,1660.8 1459.9,1661.8 1461.1,1661.9 1462.4,1661.7 1463.6,1661.5 1464.9,1661.2 1466.1,1661.1 1467.4,1660.8 1468.6,1660.6 1469.9,1660.7 1471.1,1660.7 1472.4,1661.2 1473.6,1661.5 1474.9,1661.6 1476.1,1662.4 1477.4,1663 1478.6,1662.5 1479.9,1661.7 1481.1,1661.3 1482.4,1661.3 1483.6,1661.2 1484.9,1661.3 1486.1,1662 1487.4,1662.3 1488.6,1662 1489.9,1661.9 1491.1,1661.2 1492.4,1660.8 1493.6,1661.1 1494.9,1661.8 1496.1,1662.6 1497.4,1663.2 1498.6,1663.3 1499.9,1662.9 1501.1,1662.2 1502.4,1661.5 1503.6,1660.8 1504.9,1661.6 1506.1,1662.9 1507.4,1663.1 1508.6,1663 1509.9,1663 1511.1,1662.4 1512.4,1661.9 1513.6,1662.7 1514.9,1663.8 1516.1,1663.5 1517.4,1662.5 1518.6,1662 1519.9,1662 1521.1,1662.2 1522.4,1662.3 1523.6,1661.9 1524.9,1661.3 1526.1,1661.2 1527.4,1662.1 1528.6,1662.8 1529.8,1663.2 1531.1,1663.4 1532.3,1663.2 1533.6,1663.3 1534.8,1663.3 1536.1,1663.4 1537.3,1663.1 1538.6,1662.9 1539.8,1663.2 1541.1,1663.3 1542.3,1663 1543.6,1662.7 1544.8,1662.4 1546.1,1661.9 1547.3,1661.8 1548.6,1662.5 1549.8,1663.2 1551.1,1663.2 1552.3,1662.9 1553.6,1662.8 1554.8,1663.5 1556.1,1663.4 1557.3,1663 1558.6,1663 1559.8,1663.2 1561.1,1663.2 1562.3,1662.9 1563.6,1662.6 1564.8,1662.8 1566.1,1662.7 1567.3,1662.7 1568.6,1663.3 1569.8,1663.8 1571.1,1664 1572.3,1663.9 1573.6,1664 1574.8,1663.8 1576.1,1663.4 1577.3,1663.8 1578.6,1664.1 1579.8,1663.7 1581.1,1662.4 1582.3,1661.5 1583.6,1662.2 1584.8,1663.5 1586.1,1664.4 1587.3,1664.9 1588.6,1664.9 1589.8,1664.3 1591.1,1663.7 1592.3,1663.4 1593.6,1663.4 1594.8,1663.4 1596.1,1663.4 1597.3,1663.6 1598.6,1663.6 1599.8,1663.2 1601.1,1662.9 1602.3,1663.1 1603.6,1663.6 1604.8,1663.8 1606.1,1663.8 1607.3,1663.5 1608.5,1663.3 1609.8,1663 1611,1662.8 1612.3,1663.3 1613.5,1664 1614.8,1664 1616,1663.3 1617.3,1662.6 1618.5,1662.8 1619.8,1663.6 1621,1664.1 1622.3,1663.7 1623.5,1664 1624.8,1664.6 1626,1664.6 1627.3,1665.1 1628.5,1665.5 1629.8,1665 1631,1663.9 1632.3,1662.9 1633.5,1663.1 1634.8,1664 1636,1664.8 1637.3,1664.3 1638.5,1662.7 1639.8,1661.9 1641,1663.1 1642.3,1664.6 1643.5,1664.6 1644.8,1664.3 1646,1664.2 1647.3,1664 1648.5,1663.7 1649.8,1663.3 1651,1663.4 1652.3,1664 1653.5,1664.4 1654.8,1664.6 1656,1664.6 1657.3,1664.8 1658.5,1664.8 1659.8,1664.8 1661,1664.7 1662.3,1664 1663.5,1663.1 1664.8,1663.1 1666,1663.8 1667.3,1664.2 1668.5,1664 1669.8,1664.3 1671,1665.1 1672.3,1664.8 1673.5,1663.4 1674.8,1662.9 1676,1663.4 1677.3,1663.6 1678.5,1663.4 1679.8,1663.8 1681,1665 1682.3,1665.5 1683.5,1665.6 1684.8,1665.2 1686,1664.3" fill="none" stroke="#8f00ff" stroke-width="6.5" stroke-linejoin="round"/>
<polygon points="187.7,1653.8 189.7,1657.1 191.7,1658.7 193.7,1650.5 195.7,1657 197.7,1656.4 199.7,1656.4 201.7,1656.8 203.7,1654 205.7,1657.1 207.7,1649.7 209.7,1659 211.7,1655.8 213.7,1657.4 215.7,1656 217.7,1656.7 219.7,1654.6 221.7,1651.7 223.7,1658.5 225.7,1655.6 227.7,1657.1 229.7,1659 231.7,1657.1 233.7,1653.5 235.7,1652.1 237.7,1658.4 239.7,1654.4 241.7,1656.4 243.7,1652.8 245.7,1653.5 247.7,1654.5 249.7,1652.6 251.7,1653.7 253.7,1656.4 255.7,1657.4 257.7,1652.9 259.7,1657.9 261.7,1653.4 263.7,1658 265.7,1656.9 267.7,1656.9 269.7,1653.6 271.7,1657.5 273.7,1657.4 275.7,1657.9 277.7,1658.3 279.7,1653.6 281.8,1657.6 283.8,1652.2 285.8,1658 287.8,1657.1 289.8,1659.1 291.8,1658.1 293.8,1658.5 295.8,1658.8 297.8,1651.4 299.8,1655.1 301.8,1657.3 303.8,1658.1 305.8,1656.9 307.8,1655 309.8,1655 311.8,1655.8 313.8,1658.9 315.8,1659.2 317.8,1658.4 319.8,1659.9 321.8,1654 323.8,1654.6 325.8,1657.2 327.8,1652.2 329.8,1657.7 331.8,1657.7 333.8,1658.8 335.8,1650.7 337.8,1657.9 339.8,1645.3 341.8,1656.9 343.8,1655.2 345.8,1658.9 347.8,1649 349.8,1657.8 351.8,1655.6 353.8,1655.5 355.8,1658.8 357.8,1658.5 359.8,1658.9 361.8,1657.8 363.8,1657.9 365.8,1657.4 367.8,1657 369.8,1658.4 371.8,1657.1 373.8,1656.2 375.8,1650.5 377.8,1656.5 379.8,1657.4 381.8,1656.6 383.8,1658.8 385.8,1659.4 387.8,1658.5 389.8,1658.3 391.8,1659.7 393.8,1658.1 395.8,1653.6 397.8,1658.9 399.8,1656.6 401.8,1652.6 403.8,1656.8 405.8,1657.7 407.8,1657.9 409.8,1657.6 411.8,1651.6 413.8,1657.6 415.8,1656.4 417.8,1657 419.8,1653.2 421.8,1657.6 423.8,1659.8 425.8,1655.6 427.8,1655.6 429.8,1657.7 431.8,1655.4 433.8,1653.1 435.8,1655.4 437.8,1655.3 439.8,1656.5 441.8,1658.5 443.8,1659.8 445.8,1656.8 447.8,1658.7 449.8,1656.3 451.8,1656.3 453.8,1655.8 455.8,1659.2 457.8,1657.1 459.8,1653.2 461.8,1652.5 463.8,1659.3 465.8,1649.7 467.8,1658.2 469.9,1657 471.9,1657.4 473.9,1658.2 475.9,1658.3 477.9,1657.5 479.9,1656.7 481.9,1658.7 483.9,1657.6 485.9,1657.1 487.9,1659.1 489.9,1659 491.9,1657 493.9,1657.9 495.9,1657.1 497.9,1648.1 499.9,1648 501.9,1654.1 503.9,1655.1 505.9,1657.1 507.9,1656.4 509.9,1652.6 511.9,1658.6 513.9,1658.3 515.9,1657.7 517.9,1656.1 519.9,1651.6 521.9,1655.4 523.9,1656.6 525.9,1650 527.9,1656.9 529.9,1655.3 531.9,1648.7 533.9,1658 535.9,1650.9 537.9,1656.2 539.9,1656.9 541.9,1651.8 543.9,1655.1 545.9,1653.4 547.9,1655.6 549.9,1653.5 551.9,1654.9 553.9,1655.8 555.9,1650.1 557.9,1652.3 559.9,1655 561.9,1653.2 563.9,1653.4 565.9,1656.6 567.9,1652 569.9,1655.8 571.9,1650.3 573.9,1654.3 575.9,1652.8 577.9,1650.3 579.9,1655.2 581.9,1656.2 583.9,1656.6 585.9,1654.4 587.9,1652 589.9,1654 591.9,1655.3 593.9,1654.3 595.9,1651.8 597.9,1653.3 599.9,1650.9 601.9,1652.9 603.9,1653.9 605.9,1649 607.9,1649.4 609.9,1652.9 611.9,1652 613.9,1652.2 615.9,1652.7 617.9,1652.1 619.9,1653.4 621.9,1654 623.9,1648 625.9,1652.1 627.9,1654.3 629.9,1655.2 631.9,1653.5 633.9,1653.3 635.9,1650.3 637.9,1652.5 639.9,1650.6 641.9,1648.4 643.9,1648.7 645.9,1652.6 647.9,1651.8 649.9,1652.8 651.9,1651.6 653.9,1650.9 655.9,1648.8 658,1649.5 660,1648.4 662,1645.9 664,1648.3 666,1646.4 668,1641.6 670,1643.4 672,1645 674,1636.4 676,1643.3 678,1646 680,1642 682,1642.2 684,1644.3 686,1635.1 688,1638.7 690,1641.5 692,1642.6 694,1636.6 696,1639.8 698,1638.9 700,1635.8 702,1637 704,1632.2 706,1622.8 708,1633.7 710,1630.3 712,1629.3 714,1626.1 716,1623.4 718,1626.2 720,1625.2 722,1622.1 724,1621.3 726,1622.9 728,1621.5 730,1620.2 732,1616.3 734,1618.4 736,1613.5 738,1613.2 740,1612.3 742,1609 744,1610.7 746,1607.3 748,1596.8 750,1602 752,1599.6 754,1602.1 756,1599.3 758,1596.3 760,1588.6 762,1589.2 764,1589.8 766,1587.9 768,1585.2 770,1583.6 772,1572.4 774,1576.3 776,1569.8 778,1568.5 780,1569 782,1565.9 784,1561 786,1558.6 788,1559.5 790,1551.1 792,1553.1 794,1548.4 796,1546.5 798,1542.3 800,1536.4 802,1532.5 804,1516.5 806,1521.7 808,1510.6 810,1508 812,1504.7 814,1498 816,1485.4 818,1486.1 820,1474.8 822,1474.3 824,1467 826,1456.4 828,1453 830,1450.5 832,1445 834,1439.8 836,1437.3 838,1430.5 840,1428.4 842,1421 844.1,1418.3 846.1,1414.5 848.1,1410.6 850.1,1404 852.1,1402 854.1,1394.7 856.1,1390.5 858.1,1384 860.1,1380.9 862.1,1376.2 864.1,1373.1 866.1,1369.4 868.1,1365.7 870.1,1364.7 872.1,1363.7 874.1,1360.1 876.1,1360.8 878.1,1357.2 880.1,1356.2 882.1,1354.4 884.1,1353.5 886.1,1356.1 888.1,1356.3 890.1,1352.7 892.1,1355.7 894.1,1356.4 896.1,1356.3 898.1,1357.2 900.1,1357.9 902.1,1360.2 904.1,1362.2 906.1,1364.3 908.1,1364 910.1,1364 912.1,1369.5 914.1,1369 916.1,1358.2 918.1,1373.4 920.1,1375 922.1,1375.1 924.1,1376.5 926.1,1384.7 928.1,1388.7 930.1,1388 932.1,1387.3 934.1,1397.2 936.1,1397.4 938.1,1405.5 940.1,1404.3 942.1,1413.5 944.1,1418.7 946.1,1424.1 948.1,1428.5 950.1,1432.7 952.1,1437.3 954.1,1444.2 956.1,1450.8 958.1,1455.7 960.1,1461.3 962.1,1465 964.1,1469.9 966.1,1471.2 968.1,1478.7 970.1,1484.2 972.1,1492.3 974.1,1497 976.1,1499.6 978.1,1501.5 980.1,1507.2 982.1,1514.4 984.1,1518.7 986.1,1523.2 988.1,1523.9 990.1,1528.1 992.1,1534.1 994.1,1535.5 996.1,1537.6 998.1,1543.1 1000.1,1544.4 1002.1,1546.7 1004.1,1550.3 1006.1,1557.1 1008.1,1559.4 1010.1,1558.4 1012.1,1564.1 1014.1,1564.2 1016.1,1560.5 1018.1,1561.7 1020.1,1573.2 1022.1,1575.3 1024.1,1575.8 1026.1,1580.1 1028.1,1578.4 1030.1,1582.9 1032.2,1580.4 1034.2,1586.4 1036.2,1582.4 1038.2,1588.7 1040.2,1591.4 1042.2,1591.8 1044.2,1591.9 1046.2,1596.1 1048.2,1595.8 1050.2,1596 1052.2,1597.2 1054.2,1593.5 1056.2,1601.5 1058.2,1598.5 1060.2,1598.5 1062.2,1601.7 1064.2,1603.6 1066.2,1606.1 1068.2,1599 1070.2,1607.6 1072.2,1608 1074.2,1608.3 1076.2,1610.8 1078.2,1608.7 1080.2,1611.2 1082.2,1614 1084.2,1603.2 1086.2,1614.6 1088.2,1615.4 1090.2,1615 1092.2,1614.8 1094.2,1617.5 1096.2,1610.8 1098.2,1619.5 1100.2,1620 1102.2,1622 1104.2,1617 1106.2,1622.8 1108.2,1622.1 1110.2,1620.8 1112.2,1624.4 1114.2,1623.5 1116.2,1623.9 1118.2,1626.9 1120.2,1618.3 1122.2,1624.1 1124.2,1626.6 1126.2,1628.7 1128.2,1629.5 1130.2,1628.6 1132.2,1629.4 1134.2,1630.9 1136.2,1628.8 1138.2,1632 1140.2,1630.3 1142.2,1631.9 1144.2,1629 1146.2,1632.2 1148.2,1632.3 1150.2,1632.5 1152.2,1629.4 1154.2,1630.4 1156.2,1632.5 1158.2,1635.3 1160.2,1636.3 1162.2,1635.9 1164.2,1635 1166.2,1636.1 1168.2,1635 1170.2,1633.8 1172.2,1630 1174.2,1634.1 1176.2,1624.3 1178.2,1637.1 1180.2,1635.2 1182.2,1639.3 1184.2,1635 1186.2,1638.3 1188.2,1637.4 1190.2,1638.3 1192.2,1638.1 1194.2,1638.6 1196.2,1639.6 1198.2,1642 1200.2,1641.8 1202.2,1642.8 1204.2,1639.2 1206.2,1642.1 1208.2,1639.1 1210.2,1642.6 1212.2,1642.9 1214.2,1643.4 1216.2,1641.4 1218.3,1641.9 1220.3,1642.2 1222.3,1640.1 1224.3,1639.4 1226.3,1643.4 1228.3,1639.8 1230.3,1643.4 1232.3,1644 1234.3,1646.8 1236.3,1646.7 1238.3,1637.7 1240.3,1646.2 1242.3,1646.7 1244.3,1643.9 1246.3,1640.8 1248.3,1646 1250.3,1646.3 1252.3,1645.7 1254.3,1646.8 1256.3,1644.4 1258.3,1644.5 1260.3,1637.3 1262.3,1641.4 1264.3,1647.5 1266.3,1648.5 1268.3,1647.2 1270.3,1648 1272.3,1645.8 1274.3,1647.4 1276.3,1646.6 1278.3,1648.3 1280.3,1643.4 1282.3,1642.1 1284.3,1649 1286.3,1649.7 1288.3,1647.4 1290.3,1647.5 1292.3,1643.3 1294.3,1642 1296.3,1647.1 1298.3,1643.7 1300.3,1647.5 1302.3,1647.2 1304.3,1650.3 1306.3,1648.3 1308.3,1648.9 1310.3,1642.2 1312.3,1649.4 1314.3,1650.6 1316.3,1649.4 1318.3,1648.8 1320.3,1651.9 1322.3,1651.1 1324.3,1649.2 1326.3,1646.5 1328.3,1649.1 1330.3,1647.4 1332.3,1650.7 1334.3,1647.4 1336.3,1648.1 1338.3,1650.1 1340.3,1646.9 1342.3,1648.3 1344.3,1648.1 1346.3,1647.6 1348.3,1649.7 1350.3,1647.7 1352.3,1648.3 1354.3,1642.7 1356.3,1650.3 1358.3,1651.3 1360.3,1650.3 1362.3,1650.4 1364.3,1650.4 1366.3,1649.9 1368.3,1652.4 1370.3,1642.9 1372.3,1649.7 1374.3,1652 1376.3,1651.3 1378.3,1652.7 1380.3,1640 1382.3,1650.5 1384.3,1645.4 1386.3,1651.4 1388.3,1643.7 1390.3,1650.6 1392.3,1644.4 1394.3,1651.8 1396.3,1652.8 1398.3,1652.8 1400.3,1652.1 1402.3,1651.2 1404.3,1650.1 1406.4,1651.3 1408.4,1648.1 1410.4,1650.1 1412.4,1651.3 1414.4,1651.3 1416.4,1653 1418.4,1652.1 1420.4,1653.6 1422.4,1651.2 1424.4,1653.1 1426.4,1654.7 1428.4,1654.3 1430.4,1653.6 1432.4,1647.8 1434.4,1644.1 1436.4,1651.5 1438.4,1654 1440.4,1653.1 1442.4,1653 1444.4,1653.8 1446.4,1654 1448.4,1654.1 1450.4,1649.2 1452.4,1651.8 1454.4,1651 1456.4,1652.8 1458.4,1653.5 1460.4,1648.6 1462.4,1654.7 1464.4,1645.7 1466.4,1653.1 1468.4,1654.8 1470.4,1652.8 1472.4,1655.2 1474.4,1654.2 1476.4,1651.2 1478.4,1652.4 1480.4,1653.1 1482.4,1654.8 1484.4,1651.6 1486.4,1655.1 1488.4,1654.2 1490.4,1652.9 1492.4,1652.5 1494.4,1652.3 1496.4,1648.7 1498.4,1651 1500.4,1651.2 1502.4,1654 1504.4,1650.8 1506.4,1652.4 1508.4,1650.7 1510.4,1652.3 1512.4,1651.5 1514.4,1653 1516.4,1649 1518.4,1650.8 1520.4,1653.6 1522.4,1654.7 1524.4,1650.6 1526.4,1653.4 1528.4,1653 1530.4,1654.3 1532.4,1653.7 1534.4,1653.8 1536.4,1652.7 1538.4,1652.9 1540.4,1654.5 1542.4,1652.9 1544.4,1655.6 1546.4,1655.4 1548.4,1655.9 1550.4,1651.4 1552.4,1652.4 1554.4,1651.4 1556.4,1655.5 1558.4,1655 1560.4,1656.4 1562.4,1652.4 1564.4,1655.1 1566.4,1655.4 1568.4,1655.7 1570.4,1652.2 1572.4,1645.7 1574.4,1654 1576.4,1652.4 1578.4,1656.1 1580.4,1652.7 1582.4,1650.4 1584.4,1656.3 1586.4,1657.3 1588.4,1657.1 1590.4,1649.9 1592.4,1651.5 1594.5,1656.1 1596.5,1656 1598.5,1655.1 1600.5,1652.6 1602.5,1656.7 1604.5,1656.5 1606.5,1655.2 1608.5,1657.1 1610.5,1654.7 1612.5,1657.6 1614.5,1657.5 1616.5,1655.8 1618.5,1654.1 1620.5,1655.7 1622.5,1656.1 1624.5,1655.2 1626.5,1654.2 1628.5,1650.4 1630.5,1657.6 1632.5,1657.8 1634.5,1651.9 1636.5,1655.5 1638.5,1651.9 1640.5,1649.4 1642.5,1656 1644.5,1656.9 1646.5,1652.3 1648.5,1656.5 1650.5,1656.9 1652.5,1656 1654.5,1657 1656.5,1655.3 1658.5,1655.2 1660.5,1656 1662.5,1655.4 1664.5,1647.2 1666.5,1655.7 1668.5,1651.4 1670.5,1655.1 1672.5,1653 1674.5,1646.1 1676.5,1650.9 1678.5,1656.1 1680.5,1655.7 1682.5,1655.6 1684.5,1657.2 1686.5,1656 1686.5,1673.1 1684.5,1673.4 1682.5,1681.5 1680.5,1670.9 1678.5,1671.5 1676.5,1670.7 1674.5,1669.4 1672.5,1671.3 1670.5,1677.8 1668.5,1671.5 1666.5,1672.6 1664.5,1671.2 1662.5,1672.7 1660.5,1673.7 1658.5,1675.3 1656.5,1676 1654.5,1675 1652.5,1675.7 1650.5,1676.5 1648.5,1673.3 1646.5,1675.2 1644.5,1670.5 1642.5,1676.6 1640.5,1669.8 1638.5,1670.4 1636.5,1677.8 1634.5,1671.3 1632.5,1673.4 1630.5,1672.4 1628.5,1671.5 1626.5,1671.8 1624.5,1674.2 1622.5,1671.5 1620.5,1671.2 1618.5,1673.7 1616.5,1672.4 1614.5,1675.7 1612.5,1671 1610.5,1673.7 1608.5,1675 1606.5,1679.5 1604.5,1671.4 1602.5,1670.3 1600.5,1672.3 1598.5,1671.2 1596.5,1673.3 1594.5,1684 1592.4,1677.9 1590.4,1676 1588.4,1672.8 1586.4,1680.1 1584.4,1670.1 1582.4,1670.4 1580.4,1669.7 1578.4,1670.3 1576.4,1671.2 1574.4,1670 1572.4,1671.6 1570.4,1679.6 1568.4,1671 1566.4,1674.1 1564.4,1671.6 1562.4,1673.4 1560.4,1678.1 1558.4,1673.2 1556.4,1669.9 1554.4,1672.5 1552.4,1670 1550.4,1673.9 1548.4,1671 1546.4,1671 1544.4,1675.2 1542.4,1668.7 1540.4,1669.4 1538.4,1672.2 1536.4,1667.6 1534.4,1672 1532.4,1670 1530.4,1673.9 1528.4,1668.3 1526.4,1669.8 1524.4,1670 1522.4,1671.6 1520.4,1669.4 1518.4,1670.8 1516.4,1672.9 1514.4,1668.4 1512.4,1668.5 1510.4,1667.2 1508.4,1672.9 1506.4,1670.1 1504.4,1669 1502.4,1668.7 1500.4,1670.6 1498.4,1669.6 1496.4,1670.7 1494.4,1669.4 1492.4,1670.7 1490.4,1671.4 1488.4,1670.4 1486.4,1672.4 1484.4,1668.5 1482.4,1669 1480.4,1669.7 1478.4,1678.9 1476.4,1673.6 1474.4,1670.9 1472.4,1673.2 1470.4,1670 1468.4,1671.6 1466.4,1671.8 1464.4,1670.9 1462.4,1672.8 1460.4,1671.1 1458.4,1668.3 1456.4,1667.8 1454.4,1674 1452.4,1673.7 1450.4,1677.5 1448.4,1668.8 1446.4,1672.2 1444.4,1669.8 1442.4,1668.2 1440.4,1668.8 1438.4,1668.2 1436.4,1675.2 1434.4,1669.8 1432.4,1670.5 1430.4,1670.7 1428.4,1674.9 1426.4,1672.7 1424.4,1674 1422.4,1667.5 1420.4,1669.6 1418.4,1672.8 1416.4,1668.9 1414.4,1669.1 1412.4,1666.1 1410.4,1672.6 1408.4,1667.2 1406.4,1674.6 1404.3,1666.6 1402.3,1667.5 1400.3,1669.8 1398.3,1669.4 1396.3,1666.6 1394.3,1668.9 1392.3,1668.5 1390.3,1669.8 1388.3,1669.4 1386.3,1674.9 1384.3,1670.3 1382.3,1669.3 1380.3,1668 1378.3,1667.2 1376.3,1668.7 1374.3,1666.4 1372.3,1668.3 1370.3,1666.3 1368.3,1669.3 1366.3,1666.8 1364.3,1668.8 1362.3,1669.6 1360.3,1666.6 1358.3,1667.6 1356.3,1665.1 1354.3,1664.3 1352.3,1666.1 1350.3,1664.9 1348.3,1668.3 1346.3,1664.3 1344.3,1663.7 1342.3,1665.2 1340.3,1665 1338.3,1664.3 1336.3,1669 1334.3,1665.1 1332.3,1667.4 1330.3,1665.7 1328.3,1670.5 1326.3,1664.4 1324.3,1664.9 1322.3,1668.6 1320.3,1668.4 1318.3,1666.1 1316.3,1667 1314.3,1667.5 1312.3,1665.7 1310.3,1666.4 1308.3,1666.1 1306.3,1666.6 1304.3,1666.3 1302.3,1665.7 1300.3,1672.8 1298.3,1666.4 1296.3,1666.2 1294.3,1662.9 1292.3,1665.2 1290.3,1664.7 1288.3,1665.7 1286.3,1664 1284.3,1667.6 1282.3,1663 1280.3,1664.7 1278.3,1665.2 1276.3,1664 1274.3,1668.4 1272.3,1671.5 1270.3,1667.2 1268.3,1663.5 1266.3,1667 1264.3,1664.2 1262.3,1663.5 1260.3,1662.8 1258.3,1664.4 1256.3,1661.5 1254.3,1661.9 1252.3,1664 1250.3,1662.9 1248.3,1665.7 1246.3,1663.7 1244.3,1661.7 1242.3,1661 1240.3,1662.9 1238.3,1663.7 1236.3,1660.9 1234.3,1660.9 1232.3,1665 1230.3,1668.6 1228.3,1661.8 1226.3,1660.8 1224.3,1661.1 1222.3,1660.4 1220.3,1660.8 1218.3,1658.2 1216.2,1660 1214.2,1656.9 1212.2,1660 1210.2,1658.4 1208.2,1667.6 1206.2,1666.9 1204.2,1658.2 1202.2,1656.7 1200.2,1662 1198.2,1659.6 1196.2,1657 1194.2,1658.2 1192.2,1655.2 1190.2,1654.2 1188.2,1655.9 1186.2,1656 1184.2,1654.1 1182.2,1653.5 1180.2,1653.1 1178.2,1653.1 1176.2,1652.1 1174.2,1650.6 1172.2,1649.8 1170.2,1650.5 1168.2,1653.4 1166.2,1656.2 1164.2,1651.5 1162.2,1651.7 1160.2,1650.7 1158.2,1650.1 1156.2,1651.4 1154.2,1652.7 1152.2,1650 1150.2,1656.2 1148.2,1648.8 1146.2,1651.4 1144.2,1646.2 1142.2,1647.1 1140.2,1649.5 1138.2,1648 1136.2,1646.7 1134.2,1644.7 1132.2,1644.9 1130.2,1644.4 1128.2,1647 1126.2,1645.1 1124.2,1642 1122.2,1641.5 1120.2,1643 1118.2,1641.9 1116.2,1643.1 1114.2,1639.7 1112.2,1638.7 1110.2,1638.5 1108.2,1641.3 1106.2,1638.8 1104.2,1639.9 1102.2,1637.6 1100.2,1635 1098.2,1635.8 1096.2,1638.1 1094.2,1635.9 1092.2,1634.8 1090.2,1631.8 1088.2,1629.8 1086.2,1635.6 1084.2,1631 1082.2,1630.8 1080.2,1629.9 1078.2,1628.3 1076.2,1624.7 1074.2,1625.5 1072.2,1625.6 1070.2,1622.5 1068.2,1624.1 1066.2,1632 1064.2,1620.5 1062.2,1617.1 1060.2,1618.7 1058.2,1619.1 1056.2,1617.6 1054.2,1615.8 1052.2,1615.8 1050.2,1618 1048.2,1615.2 1046.2,1609.9 1044.2,1608.1 1042.2,1610.2 1040.2,1606.5 1038.2,1607.1 1036.2,1601.5 1034.2,1606.6 1032.2,1600.2 1030.1,1597.6 1028.1,1598 1026.1,1602.6 1024.1,1596 1022.1,1594 1020.1,1592.8 1018.1,1585.7 1016.1,1588.8 1014.1,1583.6 1012.1,1578.2 1010.1,1575.4 1008.1,1574.4 1006.1,1571.3 1004.1,1571.1 1002.1,1570.4 1000.1,1563.9 998.1,1562.1 996.1,1558.7 994.1,1552.8 992.1,1551.2 990.1,1547.7 988.1,1551.2 986.1,1541.9 984.1,1537.6 982.1,1541.6 980.1,1527.3 978.1,1520.3 976.1,1516.5 974.1,1510.9 972.1,1507.6 970.1,1505.6 968.1,1497.6 966.1,1494.6 964.1,1487.8 962.1,1482.3 960.1,1475.4 958.1,1472.8 956.1,1473.4 954.1,1460.9 952.1,1455.3 950.1,1457 948.1,1443.5 946.1,1441.1 944.1,1436.4 942.1,1431.9 940.1,1427 938.1,1421.2 936.1,1415.6 934.1,1411.7 932.1,1408.7 930.1,1408.8 928.1,1406.3 926.1,1401.9 924.1,1395.8 922.1,1396.6 920.1,1389.3 918.1,1387.3 916.1,1389 914.1,1388.3 912.1,1384.9 910.1,1382.3 908.1,1383.8 906.1,1380.6 904.1,1385.1 902.1,1375.5 900.1,1375.1 898.1,1373.6 896.1,1373.6 894.1,1374.4 892.1,1377.9 890.1,1378.2 888.1,1370.9 886.1,1370.1 884.1,1373.3 882.1,1383.5 880.1,1375.9 878.1,1373 876.1,1376.7 874.1,1379.5 872.1,1378.4 870.1,1379.8 868.1,1382.6 866.1,1384.9 864.1,1391.4 862.1,1394.1 860.1,1395.9 858.1,1406.3 856.1,1408.8 854.1,1415.9 852.1,1418.2 850.1,1421.8 848.1,1429.9 846.1,1430 844.1,1439.1 842,1441.6 840,1452 838,1451.2 836,1458 834,1460.6 832,1461 830,1465.8 828,1475.6 826,1476.6 824,1483.8 822,1487.8 820,1494.7 818,1507.6 816,1508.5 814,1518.6 812,1523.4 810,1531 808,1533.8 806,1542.7 804,1544.5 802,1548.1 800,1560.6 798,1557.2 796,1563.3 794,1566.4 792,1572 790,1572.7 788,1574.9 786,1578.1 784,1582.5 782,1580.8 780,1585.7 778,1587.7 776,1600.1 774,1593.8 772,1595.6 770,1602.4 768,1601.6 766,1605.6 764,1605.1 762,1608.1 760,1610.3 758,1611.6 756,1613.8 754,1618.5 752,1620.6 750,1619.2 748,1621.2 746,1624.8 744,1624.6 742,1626.1 740,1629.2 738,1629.5 736,1633.2 734,1638.6 732,1636.2 730,1641.1 728,1638.3 726,1638.9 724,1638.8 722,1639.5 720,1647.4 718,1641.9 716,1650.3 714,1647.1 712,1645.9 710,1646.1 708,1649.5 706,1649.9 704,1650 702,1651.7 700,1654.6 698,1656.1 696,1665.3 694,1666.1 692,1658.7 690,1656.6 688,1659.8 686,1661.5 684,1662.2 682,1659.5 680,1660.8 678,1663.7 676,1660.6 674,1659.5 672,1663 670,1662.1 668,1663.9 666,1662.3 664,1662.7 662,1664.1 660,1663.8 658,1665.4 655.9,1664.5 653.9,1665.6 651.9,1669.6 649.9,1671 647.9,1666.6 645.9,1672.6 643.9,1667.8 641.9,1667.6 639.9,1670.8 637.9,1667.8 635.9,1669.1 633.9,1670.3 631.9,1668.6 629.9,1672 627.9,1673.8 625.9,1673.9 623.9,1674.4 621.9,1673.2 619.9,1671.7 617.9,1674.9 615.9,1671.5 613.9,1670.8 611.9,1670.8 609.9,1669.6 607.9,1678.3 605.9,1671.2 603.9,1676.6 601.9,1676 599.9,1675.1 597.9,1669.1 595.9,1673.3 593.9,1672.4 591.9,1678.9 589.9,1672.5 587.9,1674.9 585.9,1671.2 583.9,1669.9 581.9,1672 579.9,1670.5 577.9,1675.5 575.9,1671.2 573.9,1669.6 571.9,1669.5 569.9,1669.5 567.9,1673.3 565.9,1672.7 563.9,1674.7 561.9,1674 559.9,1678.9 557.9,1668.9 555.9,1670.5 553.9,1670.7 551.9,1671.5 549.9,1674.4 547.9,1673.6 545.9,1673.8 543.9,1674.1 541.9,1674 539.9,1677.2 537.9,1675.7 535.9,1677.5 533.9,1674.2 531.9,1674.1 529.9,1673.5 527.9,1673.6 525.9,1671.9 523.9,1673.4 521.9,1683.6 519.9,1672.2 517.9,1676.9 515.9,1672.4 513.9,1674.4 511.9,1673.1 509.9,1672.7 507.9,1672.8 505.9,1671.8 503.9,1671.4 501.9,1671.5 499.9,1674.9 497.9,1679.9 495.9,1675.5 493.9,1676.7 491.9,1676.4 489.9,1674.9 487.9,1675.5 485.9,1674.2 483.9,1674.1 481.9,1673.1 479.9,1674.3 477.9,1674.4 475.9,1679.2 473.9,1675.1 471.9,1675.7 469.9,1674.6 467.8,1675.1 465.8,1673.7 463.8,1680.4 461.8,1673.3 459.8,1679.3 457.8,1672.6 455.8,1684.5 453.8,1674.9 451.8,1673.8 449.8,1682.2 447.8,1678.6 445.8,1676.9 443.8,1675.3 441.8,1679.1 439.8,1675.7 437.8,1672 435.8,1672.5 433.8,1674.9 431.8,1672.8 429.8,1675.7 427.8,1673.6 425.8,1675.5 423.8,1674.4 421.8,1673.9 419.8,1675.3 417.8,1673.4 415.8,1679.9 413.8,1671.4 411.8,1671.7 409.8,1671.5 407.8,1678.3 405.8,1674.7 403.8,1671.6 401.8,1675.7 399.8,1674.3 397.8,1676.3 395.8,1673 393.8,1674.9 391.8,1673.4 389.8,1674.8 387.8,1675 385.8,1675.2 383.8,1674.1 381.8,1673.7 379.8,1674.5 377.8,1675.4 375.8,1673.9 373.8,1674.3 371.8,1683.8 369.8,1676.9 367.8,1673.7 365.8,1674.5 363.8,1678.4 361.8,1674.6 359.8,1675.5 357.8,1675 355.8,1676.8 353.8,1678 351.8,1674.7 349.8,1675.9 347.8,1684.1 345.8,1673.5 343.8,1681.3 341.8,1675.2 339.8,1673.2 337.8,1675.9 335.8,1672.9 333.8,1674.3 331.8,1675.5 329.8,1676.2 327.8,1676.6 325.8,1677.2 323.8,1675.6 321.8,1675.9 319.8,1675.8 317.8,1676.4 315.8,1673.5 313.8,1673.3 311.8,1672.6 309.8,1680.3 307.8,1677.6 305.8,1673.8 303.8,1673.3 301.8,1674.2 299.8,1676.9 297.8,1676.5 295.8,1675.2 293.8,1676.4 291.8,1682.2 289.8,1677.3 287.8,1672.8 285.8,1674.2 283.8,1672.5 281.8,1674.1 279.7,1673.9 277.7,1677.4 275.7,1673.3 273.7,1673.6 271.7,1673.1 269.7,1676.1 267.7,1674.5 265.7,1676.5 263.7,1674.5 261.7,1676.3 259.7,1673 257.7,1672.9 255.7,1673.5 253.7,1675.2 251.7,1674.3 249.7,1672.3 247.7,1671.5 245.7,1671.3 243.7,1673.6 241.7,1673.6 239.7,1673.4 237.7,1673.5 235.7,1675 233.7,1675.4 231.7,1676.8 229.7,1672.7 227.7,1675.1 225.7,1675.5 223.7,1672.2 221.7,1677.2 219.7,1677.5 217.7,1674.4 215.7,1675.2 213.7,1679.9 211.7,1672.3 209.7,1675.1 207.7,1675.4 205.7,1675.1 203.7,1672.1 201.7,1673.8 199.7,1675.3 197.7,1673.9 195.7,1672.6 193.7,1673.6 191.7,1678 189.7,1679.5 187.7,1672.6" fill="#8f00ff"/>
<path d="M184.4 974.3H1689.8" stroke="#151515" stroke-width="4.6"/>
<path d="M1687.5 974.3V1714" stroke="#151515" stroke-width="4.6"/>
<path d="M184.4 1714H1689.8" stroke="#3a3a3a" stroke-width="4.6"/>
<path d="M186.7 974.3V1716.3" stroke="#151515" stroke-width="4.6"/>
<path d="M186.7 1714v9 M280.5 1714v7.5 M374.3 1714v9 M468.1 1714v7.5 M561.9 1714v9 M655.7 1714v7.5 M749.5 1714v9 M843.3 1714v7.5 M937.1 1714v9 M1030.9 1714v7.5 M1124.7 1714v9 M1218.5 1714v7.5 M1312.3 1714v9 M1406.1 1714v7.5 M1499.9 1714v9 M1593.7 1714v7.5 M1687.5 1714v9 M186.7 1306h-9 M186.7 1672h-9" stroke="#111" stroke-width="3.5"/>
<text x="186.7" y="1766.5" font-size="56" font-weight="bold" text-anchor="middle" textLength="92.4" lengthAdjust="spacingAndGlyphs">-800</text>
<text x="374.3" y="1766.5" font-size="56" font-weight="bold" text-anchor="middle" textLength="92.4" lengthAdjust="spacingAndGlyphs">-600</text>
<text x="561.9" y="1766.5" font-size="56" font-weight="bold" text-anchor="middle" textLength="92.4" lengthAdjust="spacingAndGlyphs">-400</text>
<text x="749.5" y="1766.5" font-size="56" font-weight="bold" text-anchor="middle" textLength="92.4" lengthAdjust="spacingAndGlyphs">-200</text>
<text x="937.1" y="1766.5" font-size="56" font-weight="bold" text-anchor="middle" textLength="25.2" lengthAdjust="spacingAndGlyphs">0</text>
<text x="1124.7" y="1766.5" font-size="56" font-weight="bold" text-anchor="middle" textLength="75.6" lengthAdjust="spacingAndGlyphs">200</text>
<text x="1312.3" y="1766.5" font-size="56" font-weight="bold" text-anchor="middle" textLength="75.6" lengthAdjust="spacingAndGlyphs">400</text>
<text x="1499.9" y="1766.5" font-size="56" font-weight="bold" text-anchor="middle" textLength="75.6" lengthAdjust="spacingAndGlyphs">600</text>
<text x="1687.5" y="1766.5" font-size="56" font-weight="bold" text-anchor="middle" textLength="75.6" lengthAdjust="spacingAndGlyphs">800</text>
<text x="924.5" y="1838.6" font-size="71" font-weight="bold" text-anchor="middle" textLength="290" lengthAdjust="spacingAndGlyphs">Time (ns)</text>
<g transform="translate(154.5,1342.5) rotate(-90)">
<text x="0" y="0" font-size="72" font-weight="bold" text-anchor="middle" textLength="423" lengthAdjust="spacingAndGlyphs">Intensity(a.u.)</text>
</g>
<text x="53" y="1048" font-size="102" textLength="114" lengthAdjust="spacingAndGlyphs">(b)</text>
<text x="890.6" y="1513" font-size="46" font-weight="bold" text-anchor="middle" textLength="134.5" lengthAdjust="spacingAndGlyphs">-240ns-</text>
<rect x="772.5" y="982.5" width="890.5" height="328.5" fill="#fff" stroke="none"/>
<clipPath id="icb"><rect x="772.5" y="982.5" width="890.5" height="328.5"/></clipPath>
<g clip-path="url(#icb)">
<path d="M776.8 1233L778.2 1076M779.8 1078L783.3 1233M876.7 1233L877.8 1113.7M879.4 1115.7L881.9 1233M975.9 1233L977 1108.9M978.6 1110.9L981.3 1233M1074.4 1233L1075.5 1110M1077.1 1112L1079.7 1233M1169.3 1233L1170.4 1112M1172 1114L1174.6 1233M1262.4 1233L1263.5 1110M1265.1 1112L1267.7 1233M1356.1 1233L1357.2 1112M1358.8 1114L1361.4 1233M1452.1 1233L1453.2 1110M1454.8 1112L1457.4 1233M1550.1 1233L1551.2 1112M1552.8 1114L1555.4 1233M1648.1 1233L1649.2 1108M1650.8 1110L1653.5 1233" fill="none" stroke="#c27bff" stroke-width="3.0" stroke-dasharray="34 14 22 10 28 16"/>
<polygon points="775,1242.2 775.7,1236.3 776.3,1222 776.3,1246.5 775.7,1261.9 775,1267.3" fill="#8f00ff"/>
<polygon points="783.6,1222.2 784.3,1225.9 785,1230.6 785.6,1228.9 786.3,1234.3 786.9,1237.4 787.6,1239.3 788.3,1241 788.9,1239.9 789.6,1240.6 790.3,1244.2 790.9,1243.9 791.6,1248 792.3,1245.9 792.9,1246.2 793.6,1251.3 794.2,1250.3 794.9,1252.3 795.6,1253.4 796.2,1252.7 796.9,1254 797.6,1251.5 798.2,1250.8 798.9,1253.1 799.6,1257.2 800.2,1257.7 800.9,1256.2 801.6,1258.6 802.2,1257.1 802.9,1258.8 803.5,1259.4 804.2,1258.7 804.9,1256.3 805.5,1259 806.2,1260.3 806.9,1259 807.5,1259.7 808.2,1260.4 808.9,1262.2 809.5,1255.1 810.2,1261.5 810.8,1261.8 811.5,1261.7 812.2,1262.4 812.8,1262.8 813.5,1260.6 814.2,1262.8 814.8,1259.4 815.5,1263.2 816.2,1260.3 816.8,1261.5 817.5,1263.7 818.1,1258.1 818.8,1260.8 819.5,1263.3 820.1,1261.3 820.8,1263.8 821.5,1262.6 822.1,1262.2 822.8,1260.9 823.5,1259 824.1,1262.2 824.8,1263.1 825.4,1264.4 826.1,1257.4 826.8,1260.6 827.4,1264.4 828.1,1264.1 828.8,1263.2 829.4,1263.7 830.1,1262.9 830.8,1264.5 831.4,1263.4 832.1,1257.9 832.8,1259.4 833.4,1259.2 834.1,1258.7 834.7,1264.1 835.4,1262.2 836.1,1257.4 836.7,1259.3 837.4,1264.2 838.1,1262.2 838.7,1263.1 839.4,1262.6 840.1,1255.8 840.7,1264.3 841.4,1261.1 842,1259.8 842.7,1264.8 843.4,1258.6 844,1261.9 844.7,1263.7 845.4,1264.4 846,1264 846.7,1264.4 847.4,1260.4 848,1263.7 848.7,1263.5 849.3,1263 850,1259.9 850.7,1262.3 851.3,1263.8 852,1264.4 852.7,1264.3 853.3,1263.5 854,1260.3 854.7,1259.9 855.3,1260.3 856,1260.7 856.6,1260 857.3,1262 858,1263.5 858.6,1261.5 859.3,1257.4 860,1258.7 860.6,1263.5 861.3,1256.2 862,1257.5 862.6,1263 863.3,1261.6 863.9,1257.4 864.6,1262.3 865.3,1260.6 865.9,1260.1 866.6,1255.8 867.3,1258.3 867.9,1252.6 868.6,1257.5 869.3,1258.4 869.9,1256.9 870.6,1252 871.2,1256.9 871.9,1251.7 872.6,1250.6 873.2,1250.5 873.9,1250.1 874.6,1246.6 875.2,1242.4 875.9,1234.5 876.6,1219.5 876.6,1246 875.9,1258 875.2,1263.3 874.6,1266.7 873.9,1272.1 873.2,1272.1 872.6,1274.5 871.9,1277.6 871.2,1281.5 870.6,1278.5 869.9,1284.3 869.3,1282.8 868.6,1281.5 867.9,1282.1 867.3,1282.6 866.6,1281.1 865.9,1281 865.3,1282.5 864.6,1283.8 863.9,1282.6 863.3,1283.2 862.6,1283.2 862,1284.7 861.3,1283.8 860.6,1288 860,1282.1 859.3,1284.6 858.6,1282.3 858,1283.2 857.3,1283.7 856.6,1283 856,1288.6 855.3,1282.8 854.7,1284.4 854,1283.7 853.3,1288.6 852.7,1283.7 852,1283.7 851.3,1283.2 850.7,1283.6 850,1286.3 849.3,1286 848.7,1289.4 848,1287.4 847.4,1284.2 846.7,1283.2 846,1286.4 845.4,1285.9 844.7,1283.8 844,1285.3 843.4,1286.1 842.7,1284.7 842,1287.4 841.4,1283.6 840.7,1283 840.1,1289.4 839.4,1284.5 838.7,1287.1 838.1,1287.7 837.4,1288.1 836.7,1283.4 836.1,1285.7 835.4,1287.2 834.7,1282.9 834.1,1283 833.4,1283.6 832.8,1287.2 832.1,1287.6 831.4,1285.2 830.8,1286.4 830.1,1283.8 829.4,1283.1 828.8,1284.5 828.1,1283.4 827.4,1286 826.8,1285 826.1,1283.5 825.4,1285 824.8,1283.3 824.1,1290.8 823.5,1283.2 822.8,1283 822.1,1283.6 821.5,1288 820.8,1283.5 820.1,1284.4 819.5,1283.7 818.8,1283.9 818.1,1285 817.5,1286.4 816.8,1287.9 816.2,1282.3 815.5,1286.9 814.8,1282.5 814.2,1282.4 813.5,1283.6 812.8,1281.1 812.2,1283 811.5,1281.9 810.8,1282.8 810.2,1285.3 809.5,1280.6 808.9,1280.8 808.2,1281.2 807.5,1287.3 806.9,1281.2 806.2,1279.8 805.5,1279.8 804.9,1280.9 804.2,1279 803.5,1285.3 802.9,1280 802.2,1279.8 801.6,1278.4 800.9,1281.8 800.2,1280.6 799.6,1276.7 798.9,1275.6 798.2,1277.5 797.6,1276.2 796.9,1279.7 796.2,1277.5 795.6,1273.9 794.9,1272.2 794.2,1271.2 793.6,1271.2 792.9,1270.7 792.3,1273.3 791.6,1271 790.9,1266.4 790.3,1265.7 789.6,1267 788.9,1267.5 788.3,1262.3 787.6,1263 786.9,1257.3 786.3,1257.2 785.6,1256.5 785,1254.2 784.3,1248.3 783.6,1246.5" fill="#8f00ff"/>
<polygon points="882.5,1223.8 883.2,1231.2 883.9,1234.5 884.5,1235.4 885.2,1240.2 885.9,1240.6 886.5,1243.9 887.2,1244 887.8,1243.6 888.5,1242.5 889.2,1248.3 889.8,1250.3 890.5,1250.9 891.2,1250.9 891.8,1248.3 892.5,1252.3 893.2,1252.5 893.8,1250.4 894.5,1251.1 895.1,1252 895.8,1255 896.5,1256.5 897.1,1257.8 897.8,1256.8 898.5,1256.6 899.1,1258.9 899.8,1256.2 900.5,1254.7 901.1,1258.2 901.8,1257.2 902.4,1257.3 903.1,1258 903.8,1254.3 904.4,1260.2 905.1,1261.7 905.8,1255.4 906.4,1259.8 907.1,1262.3 907.8,1261 908.4,1259.9 909.1,1256.8 909.8,1262.6 910.4,1260.9 911.1,1260.6 911.7,1262.7 912.4,1261.7 913.1,1254.9 913.7,1261.2 914.4,1262.7 915.1,1259.4 915.7,1262.1 916.4,1257.3 917.1,1262.9 917.7,1262.5 918.4,1263.7 919,1263.3 919.7,1263.4 920.4,1261.1 921,1263.7 921.7,1262.4 922.4,1263.3 923,1262.8 923.7,1262.5 924.4,1258.7 925,1263.2 925.7,1263.2 926.3,1261.9 927,1263.2 927.7,1259.5 928.3,1263.4 929,1264.4 929.7,1260.9 930.3,1263.9 931,1260.4 931.7,1261 932.3,1263.7 933,1262.8 933.6,1262.1 934.3,1262.3 935,1263.1 935.6,1262.9 936.3,1261.1 937,1264.7 937.6,1264.2 938.3,1263.6 939,1262.8 939.6,1264.3 940.3,1264.8 940.9,1264.5 941.6,1264.1 942.3,1262.9 942.9,1263.2 943.6,1261.3 944.3,1264.2 944.9,1264.1 945.6,1264 946.3,1259.6 946.9,1261.6 947.6,1261.3 948.2,1264.3 948.9,1264.1 949.6,1264.4 950.2,1264.2 950.9,1262.7 951.6,1262.1 952.2,1264 952.9,1262.8 953.6,1261.7 954.2,1259.5 954.9,1263 955.6,1263.5 956.2,1258.8 956.9,1261.7 957.5,1259.1 958.2,1262.5 958.9,1260.4 959.5,1263.4 960.2,1261.7 960.9,1263.2 961.5,1262.3 962.2,1257.1 962.9,1260.6 963.5,1260.3 964.2,1256.5 964.8,1262 965.5,1261.1 966.2,1258.8 966.8,1260.1 967.5,1259.6 968.2,1259.8 968.8,1254.9 969.5,1256.6 970.2,1256.9 970.8,1256.4 971.5,1253.8 972.1,1253.7 972.8,1244.1 973.5,1239.8 974.1,1243.9 974.8,1235.8 975.5,1224.8 975.5,1251.3 974.8,1259.4 974.1,1271.5 973.5,1269.3 972.8,1270.8 972.1,1272.7 971.5,1273.7 970.8,1278.2 970.2,1277.9 969.5,1282.8 968.8,1283.3 968.2,1278.3 967.5,1281.2 966.8,1283.8 966.2,1280.4 965.5,1283.3 964.8,1280.3 964.2,1282.8 963.5,1281.5 962.9,1282.5 962.2,1285.6 961.5,1284.6 960.9,1282.7 960.2,1283.5 959.5,1282.6 958.9,1283.5 958.2,1282.1 957.5,1286.1 956.9,1285 956.2,1283.6 955.6,1282.8 954.9,1290.4 954.2,1284.1 953.6,1284.5 952.9,1286 952.2,1283.9 951.6,1287.6 950.9,1284.4 950.2,1288.1 949.6,1285.8 948.9,1288.1 948.2,1285.1 947.6,1287.2 946.9,1284.4 946.3,1284.2 945.6,1287.4 944.9,1285.9 944.3,1283 943.6,1286 942.9,1285.8 942.3,1284.1 941.6,1283.3 940.9,1283.4 940.3,1286 939.6,1286 939,1288.3 938.3,1284.4 937.6,1285.1 937,1285.8 936.3,1288.2 935.6,1283.4 935,1285.2 934.3,1284.1 933.6,1284.6 933,1285.6 932.3,1286.9 931.7,1283.7 931,1285.8 930.3,1286.9 929.7,1284.7 929,1282.8 928.3,1288.7 927.7,1285.8 927,1286.3 926.3,1283.6 925.7,1283 925,1289.3 924.4,1284.5 923.7,1292.2 923,1283 922.4,1283.8 921.7,1287.3 921,1283.6 920.4,1287.6 919.7,1289.1 919,1285.2 918.4,1289.7 917.7,1285.7 917.1,1285.5 916.4,1287.2 915.7,1282 915.1,1283.2 914.4,1287 913.7,1284.3 913.1,1283.3 912.4,1283 911.7,1283.6 911.1,1284.7 910.4,1281.2 909.8,1281.9 909.1,1281.8 908.4,1283.1 907.8,1284.3 907.1,1281.2 906.4,1283.4 905.8,1280.5 905.1,1280.8 904.4,1281.5 903.8,1280.1 903.1,1284.2 902.4,1279.3 901.8,1285.6 901.1,1278.7 900.5,1279.4 899.8,1278.9 899.1,1282.9 898.5,1278.4 897.8,1278 897.1,1278.8 896.5,1277.2 895.8,1275.6 895.1,1275 894.5,1279.1 893.8,1275.3 893.2,1273.1 892.5,1275.5 891.8,1275.9 891.2,1271.9 890.5,1271.5 889.8,1268.5 889.2,1268.3 888.5,1271.1 887.8,1270.6 887.2,1263.8 886.5,1265.9 885.9,1261.4 885.2,1259.4 884.5,1256.7 883.9,1253.1 883.2,1250.5 882.5,1244.5" fill="#8f00ff"/>
<polygon points="981.4,1221.1 982.1,1226.8 982.8,1232.4 983.4,1231.5 984.1,1236.5 984.8,1240.6 985.4,1235.3 986.1,1243 986.8,1243.6 987.4,1241.3 988.1,1244.6 988.7,1247.4 989.4,1249.6 990.1,1245.4 990.7,1248.3 991.4,1249.2 992.1,1253 992.7,1251.1 993.4,1253.9 994.1,1245.4 994.7,1254.2 995.4,1248.6 996,1257 996.7,1256.1 997.4,1256.3 998,1252.5 998.7,1258.6 999.4,1257.8 1000,1259.4 1000.7,1257.9 1001.4,1259.9 1002,1259.9 1002.7,1258.2 1003.3,1259.5 1004,1259.4 1004.7,1261 1005.3,1259.2 1006,1260.9 1006.7,1262 1007.3,1261.6 1008,1262.4 1008.7,1259.6 1009.3,1257.9 1010,1259.9 1010.6,1262.6 1011.3,1259.9 1012,1259 1012.6,1263.3 1013.3,1259.5 1014,1262.8 1014.6,1262.3 1015.3,1263.7 1016,1262.4 1016.6,1263.5 1017.3,1258.3 1017.9,1259.3 1018.6,1260.2 1019.3,1263.7 1019.9,1260.4 1020.6,1263.8 1021.3,1263.6 1021.9,1262.6 1022.6,1263.1 1023.3,1262.2 1023.9,1264 1024.6,1259.7 1025.2,1264 1025.9,1257.8 1026.6,1262.9 1027.2,1262.2 1027.9,1262.4 1028.6,1262 1029.2,1261.3 1029.9,1264.1 1030.6,1263.6 1031.2,1257.7 1031.9,1263.3 1032.6,1264.8 1033.2,1262.4 1033.9,1263.3 1034.5,1264.5 1035.2,1264.7 1035.9,1264.8 1036.5,1262 1037.2,1261.2 1037.9,1261 1038.5,1263.7 1039.2,1264 1039.9,1262.6 1040.5,1262.2 1041.2,1263.4 1041.8,1262.9 1042.5,1263.6 1043.2,1259.6 1043.8,1259 1044.5,1261.7 1045.2,1263.1 1045.8,1264.6 1046.5,1264.7 1047.2,1262.7 1047.8,1263.4 1048.5,1262.5 1049.1,1263 1049.8,1264.2 1050.5,1263.2 1051.1,1257.3 1051.8,1259.3 1052.5,1259.4 1053.1,1258.5 1053.8,1263.2 1054.5,1261.8 1055.1,1261.1 1055.8,1260 1056.4,1260 1057.1,1263.8 1057.8,1261.6 1058.4,1262.6 1059.1,1258.7 1059.8,1260.5 1060.4,1262.1 1061.1,1256.2 1061.8,1257.6 1062.4,1262 1063.1,1262 1063.8,1261.7 1064.4,1261.4 1065.1,1258.3 1065.7,1259.2 1066.4,1256.6 1067.1,1252.8 1067.7,1251.2 1068.4,1254.5 1069.1,1255.8 1069.7,1251.4 1070.4,1250.1 1071.1,1249.8 1071.7,1249.6 1072.4,1242.9 1073,1238.7 1073.7,1230.2 1073.7,1252.5 1073,1262.1 1072.4,1268.3 1071.7,1271 1071.1,1272.5 1070.4,1274.7 1069.7,1277.4 1069.1,1280.3 1068.4,1281.8 1067.7,1277.6 1067.1,1278.6 1066.4,1278.3 1065.7,1280.6 1065.1,1282.5 1064.4,1280.5 1063.8,1280.5 1063.1,1281.6 1062.4,1280.9 1061.8,1282.1 1061.1,1284.8 1060.4,1286.5 1059.8,1283 1059.1,1282.4 1058.4,1284.1 1057.8,1283.2 1057.1,1283.5 1056.4,1282.1 1055.8,1283 1055.1,1284.9 1054.5,1284.1 1053.8,1284.1 1053.1,1284 1052.5,1284.5 1051.8,1284.6 1051.1,1283.7 1050.5,1284.8 1049.8,1286.2 1049.1,1284.4 1048.5,1287.9 1047.8,1284.8 1047.2,1284.9 1046.5,1283.3 1045.8,1286.3 1045.2,1283.8 1044.5,1283.6 1043.8,1286.1 1043.2,1285.3 1042.5,1286.1 1041.8,1286.7 1041.2,1287 1040.5,1286.4 1039.9,1285.3 1039.2,1284.4 1038.5,1283.8 1037.9,1284 1037.2,1285.5 1036.5,1284.6 1035.9,1290.2 1035.2,1284.2 1034.5,1286.8 1033.9,1287.3 1033.2,1282.9 1032.6,1283.9 1031.9,1284.9 1031.2,1286.9 1030.6,1283.5 1029.9,1283.3 1029.2,1283.2 1028.6,1285.2 1027.9,1285.7 1027.2,1286.1 1026.6,1284.8 1025.9,1286.1 1025.2,1285.1 1024.6,1285.2 1023.9,1288.4 1023.3,1285.1 1022.6,1283.1 1021.9,1285 1021.3,1288 1020.6,1286.5 1019.9,1290.2 1019.3,1283.2 1018.6,1285.1 1017.9,1284.7 1017.3,1284.3 1016.6,1288.6 1016,1284.6 1015.3,1283.5 1014.6,1282.2 1014,1284.7 1013.3,1282.2 1012.6,1283.8 1012,1286.7 1011.3,1284.6 1010.6,1285.5 1010,1282.3 1009.3,1284.8 1008.7,1281.5 1008,1282.2 1007.3,1283.3 1006.7,1285.1 1006,1287 1005.3,1287.9 1004.7,1283.9 1004,1282.1 1003.3,1284.1 1002.7,1279.9 1002,1284.3 1001.4,1279.2 1000.7,1280.4 1000,1279.2 999.4,1278 998.7,1278.8 998,1277.8 997.4,1280.3 996.7,1277.8 996,1278.6 995.4,1277.4 994.7,1277.8 994.1,1278.8 993.4,1273.6 992.7,1273 992.1,1272.1 991.4,1272.2 990.7,1274.3 990.1,1271.6 989.4,1274.4 988.7,1268.6 988.1,1269.8 987.4,1265.2 986.8,1266.9 986.1,1265.7 985.4,1261.6 984.8,1262.9 984.1,1260.1 983.4,1256.5 982.8,1250.9 982.1,1247.1 981.4,1243.6" fill="#8f00ff"/>
<polygon points="1080.3,1225.8 1081,1229.8 1081.7,1233.2 1082.3,1234.1 1083,1239.8 1083.7,1235.9 1084.3,1243 1085,1243.8 1085.7,1246.6 1086.3,1242.9 1087,1247.8 1087.6,1248.1 1088.3,1251.1 1089,1239.7 1089.6,1248.1 1090.3,1248.9 1091,1254.2 1091.6,1250.2 1092.3,1254.8 1093,1250.4 1093.6,1253.5 1094.3,1250.6 1094.9,1253.6 1095.6,1254.5 1096.3,1257.6 1096.9,1257.9 1097.6,1252.2 1098.3,1253.7 1098.9,1256.9 1099.6,1254.2 1100.3,1259.6 1100.9,1258.7 1101.6,1254.3 1102.2,1258.9 1102.9,1257.7 1103.6,1260.2 1104.2,1258 1104.9,1260 1105.6,1258.1 1106.2,1261.4 1106.9,1255.8 1107.6,1258.7 1108.2,1260 1108.9,1258.4 1109.6,1257.6 1110.2,1261.7 1110.9,1257.1 1111.5,1260.8 1112.2,1263.6 1112.9,1262 1113.5,1256.7 1114.2,1260.6 1114.9,1263.2 1115.5,1261.9 1116.2,1259.5 1116.9,1259.9 1117.5,1257.6 1118.2,1261.4 1118.8,1262.7 1119.5,1258.9 1120.2,1260.5 1120.8,1264.1 1121.5,1263.9 1122.2,1260.6 1122.8,1262 1123.5,1261.5 1124.2,1263.1 1124.8,1263.8 1125.5,1261.6 1126.1,1259.9 1126.8,1264.6 1127.5,1261.8 1128.1,1260.9 1128.8,1262.8 1129.5,1261.1 1130.1,1263.5 1130.8,1261.4 1131.5,1261.7 1132.1,1264.4 1132.8,1259.4 1133.4,1262.7 1134.1,1264.6 1134.8,1259.4 1135.4,1258.7 1136.1,1262 1136.8,1262.3 1137.4,1258.7 1138.1,1262 1138.8,1260.3 1139.4,1264.7 1140.1,1262.9 1140.8,1263.6 1141.4,1264.3 1142.1,1264.7 1142.7,1264.1 1143.4,1261.2 1144.1,1261.3 1144.7,1262.5 1145.4,1259.7 1146.1,1262.3 1146.7,1261.9 1147.4,1263.4 1148.1,1262.5 1148.7,1262.1 1149.4,1258.7 1150,1258.1 1150.7,1259.9 1151.4,1262.2 1152,1263.2 1152.7,1263.2 1153.4,1261.3 1154,1259.3 1154.7,1261.2 1155.4,1261.2 1156,1262.3 1156.7,1256.9 1157.3,1256.9 1158,1259.7 1158.7,1258.7 1159.3,1260.2 1160,1260.8 1160.7,1255.5 1161.3,1256.6 1162,1257 1162.7,1256.2 1163.3,1254.7 1164,1252.8 1164.6,1256 1165.3,1254.2 1166,1247.3 1166.6,1245.8 1167.3,1244.3 1168,1239.1 1168.6,1230.4 1168.6,1252.2 1168,1261.5 1167.3,1266.5 1166.6,1270.5 1166,1273.2 1165.3,1273.8 1164.6,1274.3 1164,1276.7 1163.3,1278 1162.7,1277.7 1162,1283.9 1161.3,1279.9 1160.7,1279.1 1160,1282.6 1159.3,1281.6 1158.7,1280.6 1158,1283.3 1157.3,1282.7 1156.7,1283.4 1156,1282 1155.4,1284.3 1154.7,1283.5 1154,1286.9 1153.4,1284.3 1152.7,1289.6 1152,1282.5 1151.4,1282.8 1150.7,1287.2 1150,1284.3 1149.4,1284.2 1148.7,1285.6 1148.1,1288.2 1147.4,1282.6 1146.7,1282.7 1146.1,1283.5 1145.4,1282.7 1144.7,1286.3 1144.1,1286 1143.4,1284.3 1142.7,1284.8 1142.1,1285.3 1141.4,1286.2 1140.8,1284.5 1140.1,1283.3 1139.4,1285.2 1138.8,1284.6 1138.1,1288.6 1137.4,1284.6 1136.8,1286.7 1136.1,1288 1135.4,1285.7 1134.8,1283.3 1134.1,1288 1133.4,1285 1132.8,1283.3 1132.1,1284.3 1131.5,1286.5 1130.8,1284.1 1130.1,1283.7 1129.5,1287 1128.8,1282.8 1128.1,1284.8 1127.5,1285.6 1126.8,1287.1 1126.1,1283.8 1125.5,1282.8 1124.8,1284.1 1124.2,1283.1 1123.5,1283.7 1122.8,1282.6 1122.2,1285.8 1121.5,1284.1 1120.8,1284.6 1120.2,1285.5 1119.5,1283.4 1118.8,1288.1 1118.2,1286.3 1117.5,1283.5 1116.9,1282.9 1116.2,1283 1115.5,1283.6 1114.9,1289 1114.2,1283.7 1113.5,1286.1 1112.9,1288.9 1112.2,1281.8 1111.5,1284.3 1110.9,1283 1110.2,1283.3 1109.6,1289.9 1108.9,1283.3 1108.2,1289.7 1107.6,1281.9 1106.9,1286 1106.2,1285.3 1105.6,1282.7 1104.9,1280.6 1104.2,1285.1 1103.6,1280.3 1102.9,1285.4 1102.2,1279.7 1101.6,1282.5 1100.9,1280.7 1100.3,1281.4 1099.6,1284.3 1098.9,1285.6 1098.3,1278.2 1097.6,1280.5 1096.9,1279.8 1096.3,1280.5 1095.6,1281.1 1094.9,1283.1 1094.3,1275.9 1093.6,1275.6 1093,1277.8 1092.3,1279 1091.6,1273.6 1091,1273.6 1090.3,1274.5 1089.6,1276.4 1089,1273.2 1088.3,1270.3 1087.6,1271.7 1087,1269.8 1086.3,1268.1 1085.7,1271.4 1085,1264.6 1084.3,1261.9 1083.7,1269.8 1083,1258.3 1082.3,1258.8 1081.7,1257.5 1081,1250.7 1080.3,1252.4" fill="#8f00ff"/>
<polygon points="1174.6,1219.2 1175.3,1227 1175.9,1230.2 1176.6,1234.6 1177.3,1234.9 1177.9,1238.6 1178.6,1237.9 1179.2,1242.9 1179.9,1244 1180.6,1243.6 1181.2,1246.2 1181.9,1248.2 1182.6,1243.7 1183.2,1251.1 1183.9,1252 1184.6,1243.1 1185.2,1253.8 1185.9,1249.1 1186.6,1255.2 1187.2,1254.3 1187.9,1252.5 1188.5,1255.2 1189.2,1248.5 1189.9,1254.6 1190.5,1254.3 1191.2,1255.2 1191.9,1255.1 1192.5,1250.3 1193.2,1259.9 1193.9,1256.4 1194.5,1260.1 1195.2,1259.6 1195.8,1260.9 1196.5,1256.5 1197.2,1258.6 1197.8,1258.9 1198.5,1260 1199.2,1258 1199.8,1260.8 1200.5,1258.5 1201.2,1256.2 1201.8,1262.5 1202.5,1261.6 1203.1,1258.2 1203.8,1258 1204.5,1259.7 1205.1,1261.8 1205.8,1258.3 1206.5,1263.3 1207.1,1262.5 1207.8,1259.9 1208.5,1258.3 1209.1,1258.8 1209.8,1263 1210.4,1262.8 1211.1,1262.1 1211.8,1264.2 1212.4,1262.7 1213.1,1263.9 1213.8,1259.1 1214.4,1258.8 1215.1,1262.8 1215.8,1264 1216.4,1260.9 1217.1,1263.6 1217.8,1263.3 1218.4,1255.2 1219.1,1264.2 1219.7,1263.7 1220.4,1264.5 1221.1,1259.8 1221.7,1260.1 1222.4,1263.3 1223.1,1262.2 1223.7,1262 1224.4,1260.1 1225.1,1262.7 1225.7,1264.7 1226.4,1258.9 1227,1262.3 1227.7,1263.6 1228.4,1263.1 1229,1264.7 1229.7,1261.7 1230.4,1262.2 1231,1264.4 1231.7,1262 1232.4,1264.5 1233,1259.6 1233.7,1262.8 1234.3,1261.6 1235,1264 1235.7,1264.7 1236.3,1263.6 1237,1264.6 1237.7,1262.1 1238.3,1264.5 1239,1263.3 1239.7,1259.1 1240.3,1260.9 1241,1261.5 1241.6,1263.8 1242.3,1261.5 1243,1262.5 1243.6,1256.6 1244.3,1261.2 1245,1261.5 1245.6,1262.2 1246.3,1263.5 1247,1258.4 1247.6,1262.4 1248.3,1258.9 1248.9,1262.7 1249.6,1261.3 1250.3,1262.4 1250.9,1258.3 1251.6,1259.4 1252.3,1259.6 1252.9,1259.9 1253.6,1255.7 1254.3,1257.4 1254.9,1258.7 1255.6,1257.3 1256.2,1255.3 1256.9,1252.3 1257.6,1255.2 1258.2,1253 1258.9,1251 1259.6,1250.7 1260.2,1246.4 1260.9,1242.2 1261.6,1228.9 1262.2,1219.5 1262.2,1243.4 1261.6,1254.4 1260.9,1263 1260.2,1265.8 1259.6,1269.2 1258.9,1271.8 1258.2,1274.4 1257.6,1278.1 1256.9,1277 1256.2,1277.8 1255.6,1277.8 1254.9,1278.2 1254.3,1286.2 1253.6,1280.1 1252.9,1283.6 1252.3,1279.9 1251.6,1284.8 1250.9,1280.5 1250.3,1285.2 1249.6,1282.2 1248.9,1283.3 1248.3,1284.5 1247.6,1285.3 1247,1285.7 1246.3,1283.6 1245.6,1285.5 1245,1283.1 1244.3,1285.5 1243.6,1283.7 1243,1286.8 1242.3,1283.7 1241.6,1284.6 1241,1283.8 1240.3,1283 1239.7,1283.8 1239,1289 1238.3,1283.1 1237.7,1284.3 1237,1284.9 1236.3,1286.1 1235.7,1283.8 1235,1283.3 1234.3,1284.2 1233.7,1283.1 1233,1284.6 1232.4,1286.9 1231.7,1286 1231,1285.4 1230.4,1283.9 1229.7,1284.4 1229,1288.8 1228.4,1283.5 1227.7,1283.7 1227,1286.4 1226.4,1288.4 1225.7,1286 1225.1,1285 1224.4,1285.8 1223.7,1287.4 1223.1,1288.3 1222.4,1284.2 1221.7,1284.1 1221.1,1285.2 1220.4,1285.1 1219.7,1282.7 1219.1,1286.7 1218.4,1285.2 1217.8,1285.2 1217.1,1286.6 1216.4,1287.6 1215.8,1289.4 1215.1,1283.3 1214.4,1284 1213.8,1283.4 1213.1,1283.5 1212.4,1286.8 1211.8,1284.9 1211.1,1283 1210.4,1283.1 1209.8,1282.9 1209.1,1285.9 1208.5,1282.1 1207.8,1283.6 1207.1,1282.9 1206.5,1286.8 1205.8,1285.1 1205.1,1283 1204.5,1286.6 1203.8,1286.6 1203.1,1281.4 1202.5,1281.3 1201.8,1282.9 1201.2,1282.7 1200.5,1284.2 1199.8,1286.6 1199.2,1282.6 1198.5,1281.2 1197.8,1280.4 1197.2,1283 1196.5,1283 1195.8,1280.2 1195.2,1282.2 1194.5,1283.5 1193.9,1280 1193.2,1278.8 1192.5,1279.5 1191.9,1278.3 1191.2,1277.1 1190.5,1278.4 1189.9,1282.8 1189.2,1277.2 1188.5,1276.6 1187.9,1274.6 1187.2,1278.2 1186.6,1275.6 1185.9,1275.9 1185.2,1273.2 1184.6,1273.2 1183.9,1273.7 1183.2,1271.2 1182.6,1271.3 1181.9,1273.7 1181.2,1266.6 1180.6,1270.9 1179.9,1265.6 1179.2,1267.5 1178.6,1268 1177.9,1259 1177.3,1257.5 1176.6,1254.4 1175.9,1251.2 1175.3,1245.1 1174.6,1243.1" fill="#8f00ff"/>
<polygon points="1268.2,1221.8 1268.9,1228.9 1269.5,1230.9 1270.2,1232.1 1270.9,1239.1 1271.5,1239.5 1272.2,1242.2 1272.8,1240.2 1273.5,1245.2 1274.2,1243.4 1274.8,1246 1275.5,1247.9 1276.2,1248.8 1276.8,1248.5 1277.5,1250.7 1278.2,1250.6 1278.8,1253.3 1279.5,1252.9 1280.1,1252.4 1280.8,1253.8 1281.5,1255.2 1282.1,1254.2 1282.8,1257.6 1283.5,1250.7 1284.1,1257.7 1284.8,1256.4 1285.5,1257.1 1286.1,1257.7 1286.8,1257.5 1287.4,1251.9 1288.1,1256.9 1288.8,1258.9 1289.4,1259.4 1290.1,1254.4 1290.8,1261.2 1291.4,1261.3 1292.1,1261.5 1292.8,1259.6 1293.4,1261 1294.1,1261.9 1294.8,1261.9 1295.4,1259.8 1296.1,1259.9 1296.7,1263.1 1297.4,1262.8 1298.1,1262.4 1298.7,1256.8 1299.4,1261.7 1300.1,1259.8 1300.7,1254.2 1301.4,1259.2 1302.1,1263.7 1302.7,1263.3 1303.4,1263.2 1304,1253.7 1304.7,1260.2 1305.4,1262.8 1306,1258.2 1306.7,1263.7 1307.4,1261.3 1308,1257.2 1308.7,1263.8 1309.4,1259.6 1310,1260.2 1310.7,1261 1311.3,1262 1312,1262.5 1312.7,1264.6 1313.3,1263.8 1314,1260.2 1314.7,1262.6 1315.3,1263.4 1316,1261 1316.7,1264.6 1317.3,1262.8 1318,1260.4 1318.6,1263.1 1319.3,1263.8 1320,1260.6 1320.6,1264.2 1321.3,1260.4 1322,1263.2 1322.6,1263.3 1323.3,1264.6 1324,1262.1 1324.6,1262.8 1325.3,1262.9 1325.9,1264.7 1326.6,1264.8 1327.3,1261.5 1327.9,1260.9 1328.6,1263.7 1329.3,1263.5 1329.9,1263.9 1330.6,1260.3 1331.3,1258.1 1331.9,1263.4 1332.6,1262.5 1333.2,1259.9 1333.9,1263.4 1334.6,1263.4 1335.2,1262.8 1335.9,1263.6 1336.6,1263.9 1337.2,1263.1 1337.9,1264 1338.6,1262.2 1339.2,1262.8 1339.9,1261.7 1340.6,1262.7 1341.2,1262.4 1341.9,1259.4 1342.5,1261.9 1343.2,1262.5 1343.9,1259.6 1344.5,1261.9 1345.2,1260.9 1345.9,1261.4 1346.5,1259 1347.2,1259.2 1347.9,1250.5 1348.5,1259.6 1349.2,1256.3 1349.8,1257.2 1350.5,1255.1 1351.2,1254.6 1351.8,1249 1352.5,1253.6 1353.2,1251.2 1353.8,1246.1 1354.5,1240.9 1355.2,1236.5 1355.8,1220.6 1355.8,1246.4 1355.2,1257.1 1354.5,1264.8 1353.8,1268.6 1353.2,1271.1 1352.5,1272.9 1351.8,1276.4 1351.2,1277.9 1350.5,1281.5 1349.8,1277.6 1349.2,1278.7 1348.5,1278.9 1347.9,1281.9 1347.2,1282.7 1346.5,1281.2 1345.9,1282.1 1345.2,1280.7 1344.5,1283.1 1343.9,1284.9 1343.2,1285.1 1342.5,1283.7 1341.9,1285.8 1341.2,1283.1 1340.6,1283.6 1339.9,1286 1339.2,1283.1 1338.6,1282.6 1337.9,1283.5 1337.2,1284 1336.6,1285.4 1335.9,1283.9 1335.2,1282.9 1334.6,1284.3 1333.9,1286.9 1333.2,1285.3 1332.6,1283.7 1331.9,1282.8 1331.3,1284.8 1330.6,1283.7 1329.9,1283.8 1329.3,1286.4 1328.6,1289.9 1327.9,1284.7 1327.3,1283.5 1326.6,1290.9 1325.9,1284 1325.3,1283 1324.6,1283.5 1324,1285.3 1323.3,1284.6 1322.6,1286.8 1322,1284.8 1321.3,1286.2 1320.6,1285 1320,1283 1319.3,1285.6 1318.6,1284.6 1318,1286.4 1317.3,1283.2 1316.7,1284.4 1316,1284.6 1315.3,1284.4 1314.7,1285.2 1314,1285.7 1313.3,1284.7 1312.7,1286.9 1312,1283.6 1311.3,1286.3 1310.7,1283.1 1310,1286.5 1309.4,1287 1308.7,1284.3 1308,1287.3 1307.4,1285.4 1306.7,1287.4 1306,1285 1305.4,1283.4 1304.7,1283.8 1304,1285.7 1303.4,1285.9 1302.7,1285.3 1302.1,1283.4 1301.4,1284.3 1300.7,1288 1300.1,1283.8 1299.4,1286.5 1298.7,1283.6 1298.1,1286.7 1297.4,1283.6 1296.7,1282.6 1296.1,1281.8 1295.4,1282.8 1294.8,1282.9 1294.1,1281.4 1293.4,1281 1292.8,1281.9 1292.1,1283 1291.4,1283.3 1290.8,1286.6 1290.1,1280.2 1289.4,1280.8 1288.8,1283.1 1288.1,1282.1 1287.4,1282.6 1286.8,1284 1286.1,1282.1 1285.5,1279.2 1284.8,1279.1 1284.1,1282.7 1283.5,1276.6 1282.8,1276.9 1282.1,1280.2 1281.5,1274.9 1280.8,1276.1 1280.1,1278.1 1279.5,1273.8 1278.8,1275.4 1278.2,1273.6 1277.5,1271.5 1276.8,1273.9 1276.2,1272.6 1275.5,1269.3 1274.8,1270 1274.2,1269.8 1273.5,1267.2 1272.8,1266.5 1272.2,1264.2 1271.5,1262.4 1270.9,1262 1270.2,1261.2 1269.5,1255.5 1268.9,1250 1268.2,1247.9" fill="#8f00ff"/>
<polygon points="1361.8,1223.4 1362.5,1222.6 1363.1,1233 1363.8,1236.1 1364.4,1239.2 1365.1,1241.7 1365.8,1240.7 1366.4,1244.2 1367.1,1245.8 1367.8,1246 1368.4,1248.6 1369.1,1249 1369.8,1250.8 1370.4,1250 1371.1,1250.3 1371.8,1252 1372.4,1249.4 1373.1,1253.2 1373.7,1254.8 1374.4,1255.4 1375.1,1250 1375.7,1255.4 1376.4,1254.9 1377.1,1253 1377.7,1254.6 1378.4,1257.3 1379.1,1258.9 1379.7,1255.7 1380.4,1257.8 1381,1259 1381.7,1259.8 1382.4,1254.7 1383,1259.8 1383.7,1258 1384.4,1258.5 1385,1261.2 1385.7,1259.4 1386.4,1260 1387,1257.1 1387.7,1261.5 1388.3,1260.1 1389,1261.3 1389.7,1261.6 1390.3,1260.8 1391,1259.6 1391.7,1261.1 1392.3,1260.7 1393,1260.2 1393.7,1263.6 1394.3,1262.5 1395,1259.7 1395.6,1259.8 1396.3,1258.2 1397,1263.5 1397.6,1263.6 1398.3,1259.9 1399,1261 1399.6,1263.5 1400.3,1262.1 1401,1261.2 1401.6,1258.3 1402.3,1255.9 1402.9,1262.1 1403.6,1261.8 1404.3,1260.3 1404.9,1264.4 1405.6,1261 1406.3,1262.1 1406.9,1263.9 1407.6,1259.8 1408.3,1262.7 1408.9,1264.3 1409.6,1264.1 1410.2,1262.9 1410.9,1263.1 1411.6,1262.7 1412.2,1263.4 1412.9,1263.7 1413.6,1259.7 1414.2,1260.6 1414.9,1263.8 1415.6,1264.2 1416.2,1264.2 1416.9,1261.6 1417.6,1263.3 1418.2,1264.5 1418.9,1263.2 1419.5,1261.1 1420.2,1260.8 1420.9,1263.9 1421.5,1258.3 1422.2,1262.7 1422.9,1264.3 1423.5,1264.1 1424.2,1262.3 1424.9,1264.3 1425.5,1261.7 1426.2,1262.7 1426.8,1264.3 1427.5,1261.5 1428.2,1261.9 1428.8,1258.9 1429.5,1261.2 1430.2,1259.9 1430.8,1263.6 1431.5,1262.9 1432.2,1262 1432.8,1259.9 1433.5,1258.6 1434.1,1260.3 1434.8,1263.6 1435.5,1263.7 1436.1,1260.7 1436.8,1261.7 1437.5,1258.8 1438.1,1262.5 1438.8,1259.8 1439.5,1260.1 1440.1,1262.2 1440.8,1260.5 1441.4,1260.7 1442.1,1260.8 1442.8,1257.4 1443.4,1255 1444.1,1254.9 1444.8,1258 1445.4,1258.1 1446.1,1256.2 1446.8,1255.8 1447.4,1255.6 1448.1,1253.7 1448.8,1251.1 1449.4,1247.7 1450.1,1243.4 1450.7,1241 1451.4,1232.2 1451.4,1256.7 1450.7,1265.4 1450.1,1269.9 1449.4,1272.6 1448.8,1275.4 1448.1,1275.3 1447.4,1275.5 1446.8,1278.9 1446.1,1279.4 1445.4,1278.3 1444.8,1280.9 1444.1,1281.6 1443.4,1279.7 1442.8,1280.9 1442.1,1280.6 1441.4,1280.4 1440.8,1283.2 1440.1,1283.2 1439.5,1283.5 1438.8,1282.4 1438.1,1281.5 1437.5,1283.4 1436.8,1283 1436.1,1282.5 1435.5,1285.9 1434.8,1284.2 1434.1,1283 1433.5,1287.3 1432.8,1282.9 1432.2,1283.4 1431.5,1283 1430.8,1291 1430.2,1284.7 1429.5,1285.1 1428.8,1285 1428.2,1283.4 1427.5,1285.4 1426.8,1284.6 1426.2,1288.2 1425.5,1286.7 1424.9,1286.1 1424.2,1288.1 1423.5,1288.5 1422.9,1286.7 1422.2,1283.2 1421.5,1288.5 1420.9,1282.9 1420.2,1284.8 1419.5,1283.3 1418.9,1283.9 1418.2,1286.1 1417.6,1284.5 1416.9,1283.9 1416.2,1289.3 1415.6,1283.7 1414.9,1283.4 1414.2,1283.2 1413.6,1287.1 1412.9,1283.8 1412.2,1286.3 1411.6,1289.5 1410.9,1286.4 1410.2,1283.2 1409.6,1284.2 1408.9,1284.5 1408.3,1285.5 1407.6,1282.9 1406.9,1285.1 1406.3,1284.9 1405.6,1284.1 1404.9,1285 1404.3,1284.8 1403.6,1284.4 1402.9,1285.4 1402.3,1282.9 1401.6,1285.8 1401,1284.6 1400.3,1283.7 1399.6,1285.8 1399,1286 1398.3,1282.6 1397.6,1282.4 1397,1282.9 1396.3,1287.9 1395.6,1285.2 1395,1282.2 1394.3,1282.2 1393.7,1283 1393,1283.3 1392.3,1281.6 1391.7,1282.7 1391,1283.4 1390.3,1282.3 1389.7,1282.3 1389,1283.6 1388.3,1286 1387.7,1281.5 1387,1281.6 1386.4,1282.3 1385.7,1281.1 1385,1283.5 1384.4,1281.5 1383.7,1283 1383,1281.1 1382.4,1279.1 1381.7,1280.2 1381,1278.8 1380.4,1279.2 1379.7,1284.1 1379.1,1279.2 1378.4,1279.4 1377.7,1283.6 1377.1,1277.4 1376.4,1276.2 1375.7,1281.6 1375.1,1284.3 1374.4,1277.6 1373.7,1273.6 1373.1,1274 1372.4,1274.9 1371.8,1274.1 1371.1,1271.1 1370.4,1272.4 1369.8,1274.1 1369.1,1270.8 1368.4,1268.4 1367.8,1267.8 1367.1,1268.1 1366.4,1264.5 1365.8,1261.9 1365.1,1260.5 1364.4,1262.3 1363.8,1255.8 1363.1,1254.7 1362.5,1249.4 1361.8,1248" fill="#8f00ff"/>
<polygon points="1458,1224.5 1458.7,1227.1 1459.4,1232.2 1460,1235.8 1460.7,1239.4 1461.4,1233.3 1462,1241.7 1462.7,1244.5 1463.4,1244 1464,1242.6 1464.7,1246.4 1465.3,1248.3 1466,1248.6 1466.7,1249.4 1467.3,1243.8 1468,1252.4 1468.7,1250 1469.3,1253.7 1470,1254.6 1470.7,1251.8 1471.3,1255.7 1472,1250.1 1472.6,1257.7 1473.3,1253 1474,1254.3 1474.6,1254.1 1475.3,1259.3 1476,1258.1 1476.6,1257.2 1477.3,1253 1478,1259.6 1478.6,1260.4 1479.3,1259.5 1479.9,1260.6 1480.6,1259.4 1481.3,1261.7 1481.9,1260.9 1482.6,1260.7 1483.3,1261.8 1483.9,1261.4 1484.6,1259.9 1485.3,1261.3 1485.9,1262.5 1486.6,1259.9 1487.2,1262.1 1487.9,1259 1488.6,1258.6 1489.2,1257.7 1489.9,1263.4 1490.6,1261.9 1491.2,1263.6 1491.9,1259.5 1492.6,1262.9 1493.2,1261.3 1493.9,1262.9 1494.6,1263.6 1495.2,1259.3 1495.9,1264 1496.5,1264.2 1497.2,1264.3 1497.9,1262 1498.5,1262.8 1499.2,1259.9 1499.9,1259 1500.5,1262.3 1501.2,1259.3 1501.9,1263 1502.5,1263.3 1503.2,1263.8 1503.8,1254.1 1504.5,1261.3 1505.2,1262.1 1505.8,1264.7 1506.5,1263.8 1507.2,1262.3 1507.8,1262 1508.5,1259.6 1509.2,1263.4 1509.8,1264.6 1510.5,1261 1511.1,1261.1 1511.8,1261.6 1512.5,1263.6 1513.1,1257.2 1513.8,1264.5 1514.5,1263.6 1515.1,1264.8 1515.8,1260.7 1516.5,1264 1517.1,1259.5 1517.8,1259.5 1518.4,1260.7 1519.1,1263.8 1519.8,1260.6 1520.4,1263.8 1521.1,1262.9 1521.8,1261.7 1522.4,1261.4 1523.1,1262.8 1523.8,1263.6 1524.4,1261.8 1525.1,1258.7 1525.8,1262.7 1526.4,1262.7 1527.1,1263.7 1527.7,1262.2 1528.4,1257.2 1529.1,1263.6 1529.7,1262.9 1530.4,1263 1531.1,1262.2 1531.7,1255.7 1532.4,1262.8 1533.1,1257.4 1533.7,1262.9 1534.4,1262.1 1535,1261.4 1535.7,1258.9 1536.4,1261.5 1537,1260.9 1537.7,1256.5 1538.4,1259.7 1539,1261 1539.7,1261.3 1540.4,1260.1 1541,1258.6 1541.7,1259.8 1542.3,1253.8 1543,1258.3 1543.7,1255.9 1544.3,1255.2 1545,1253.9 1545.7,1255.3 1546.3,1254.2 1547,1248.6 1547.7,1243.2 1548.3,1237.1 1549,1233.7 1549.6,1224.6 1549.6,1250.5 1549,1261.6 1548.3,1264.3 1547.7,1269.2 1547,1275 1546.3,1276.1 1545.7,1274.6 1545,1275.8 1544.3,1283.8 1543.7,1277.7 1543,1280.1 1542.3,1282.2 1541.7,1282.4 1541,1281.5 1540.4,1280.9 1539.7,1280.8 1539,1280.7 1538.4,1282.7 1537.7,1285.1 1537,1284.3 1536.4,1283.1 1535.7,1282.9 1535,1281.7 1534.4,1286.5 1533.7,1286.2 1533.1,1283.8 1532.4,1284.7 1531.7,1282.5 1531.1,1282.9 1530.4,1282.6 1529.7,1283.2 1529.1,1282.6 1528.4,1287.3 1527.7,1283.9 1527.1,1284.3 1526.4,1283 1525.8,1283.2 1525.1,1283 1524.4,1285.7 1523.8,1286 1523.1,1286.9 1522.4,1288.2 1521.8,1284.2 1521.1,1285.8 1520.4,1284.8 1519.8,1283.7 1519.1,1283.7 1518.4,1285.1 1517.8,1287.2 1517.1,1287.3 1516.5,1287.3 1515.8,1285.7 1515.1,1286.6 1514.5,1293.3 1513.8,1287.7 1513.1,1282.9 1512.5,1283.7 1511.8,1283.6 1511.1,1283.5 1510.5,1283.2 1509.8,1284.6 1509.2,1284 1508.5,1284.5 1507.8,1284 1507.2,1285.1 1506.5,1284.3 1505.8,1286.2 1505.2,1284.5 1504.5,1283.1 1503.8,1283.6 1503.2,1284.7 1502.5,1286.3 1501.9,1283.2 1501.2,1284.2 1500.5,1287.3 1499.9,1284.9 1499.2,1293 1498.5,1285.6 1497.9,1283.2 1497.2,1282.5 1496.5,1284.3 1495.9,1283.6 1495.2,1285.6 1494.6,1284.5 1493.9,1282.9 1493.2,1283.5 1492.6,1282.9 1491.9,1283.1 1491.2,1288.9 1490.6,1284.1 1489.9,1286.3 1489.2,1284.3 1488.6,1284.4 1487.9,1282.3 1487.2,1282.9 1486.6,1282 1485.9,1287.4 1485.3,1283.2 1484.6,1283.8 1483.9,1283.4 1483.3,1285 1482.6,1286.2 1481.9,1284.8 1481.3,1280.7 1480.6,1283.3 1479.9,1280 1479.3,1285.3 1478.6,1282.4 1478,1279.1 1477.3,1281.5 1476.6,1279.5 1476,1277.9 1475.3,1282.4 1474.6,1279.3 1474,1279 1473.3,1278.5 1472.6,1280.9 1472,1278.2 1471.3,1276.8 1470.7,1277 1470,1275.8 1469.3,1277.1 1468.7,1272.4 1468,1271.8 1467.3,1274.5 1466.7,1273 1466,1270 1465.3,1269.3 1464.7,1270.6 1464,1267.7 1463.4,1268.5 1462.7,1271.5 1462,1264.4 1461.4,1261.6 1460.7,1259.9 1460,1256.2 1459.4,1253.2 1458.7,1250.3 1458,1246.2" fill="#8f00ff"/>
<polygon points="1555.6,1221.6 1556.3,1226.6 1556.9,1230.9 1557.6,1235.3 1558.3,1238.6 1558.9,1240.6 1559.6,1241.9 1560.3,1244.6 1560.9,1240.3 1561.6,1241.9 1562.3,1243.8 1562.9,1246.1 1563.6,1250 1564.2,1247.3 1564.9,1251.1 1565.6,1252.1 1566.2,1251.3 1566.9,1251.8 1567.6,1253.5 1568.2,1255.9 1568.9,1256.1 1569.6,1256.4 1570.2,1256.8 1570.9,1258 1571.6,1253.8 1572.2,1253 1572.9,1251.3 1573.5,1256.4 1574.2,1257.1 1574.9,1256 1575.5,1256.2 1576.2,1258.8 1576.9,1261.1 1577.5,1260.7 1578.2,1261.5 1578.9,1258.6 1579.5,1257 1580.2,1257.7 1580.8,1259.8 1581.5,1258.7 1582.2,1260.7 1582.8,1261.5 1583.5,1261.1 1584.2,1260.8 1584.8,1257.2 1585.5,1261.6 1586.2,1262.9 1586.8,1259.6 1587.5,1259.7 1588.1,1263.1 1588.8,1262.5 1589.5,1256.9 1590.1,1263.9 1590.8,1264 1591.5,1262 1592.1,1260 1592.8,1262.4 1593.5,1262.6 1594.1,1261.5 1594.8,1261 1595.4,1262 1596.1,1262.9 1596.8,1264.1 1597.4,1260.1 1598.1,1263.5 1598.8,1261.4 1599.4,1263.5 1600.1,1261.3 1600.8,1263.6 1601.4,1261.7 1602.1,1263.9 1602.8,1259.5 1603.4,1263 1604.1,1263 1604.7,1262.6 1605.4,1264.2 1606.1,1259.8 1606.7,1260.8 1607.4,1263.4 1608.1,1262.1 1608.7,1259.8 1609.4,1264 1610.1,1262.2 1610.7,1262.4 1611.4,1264.4 1612,1262.2 1612.7,1264.3 1613.4,1262.9 1614,1262.8 1614.7,1262.5 1615.4,1263.2 1616,1264.2 1616.7,1261.8 1617.4,1259.5 1618,1261.8 1618.7,1262.8 1619.3,1262.9 1620,1259.9 1620.7,1261.1 1621.3,1263.3 1622,1263.4 1622.7,1263.4 1623.3,1261.7 1624,1264.5 1624.7,1262.8 1625.3,1261.5 1626,1263.4 1626.6,1260 1627.3,1262 1628,1260.4 1628.6,1261.9 1629.3,1263.5 1630,1262.6 1630.6,1260.1 1631.3,1263.2 1632,1262.3 1632.6,1258.6 1633.3,1259.2 1633.9,1261.3 1634.6,1261.1 1635.3,1259.9 1635.9,1259.7 1636.6,1260 1637.3,1261.8 1637.9,1259.8 1638.6,1260.9 1639.3,1259.1 1639.9,1258.2 1640.6,1257.9 1641.2,1255.7 1641.9,1253.7 1642.6,1253.9 1643.2,1253.9 1643.9,1248.6 1644.6,1252.2 1645.2,1249.2 1645.9,1242.2 1646.6,1235.4 1647.2,1233.3 1647.9,1220.5 1647.9,1241.6 1647.2,1254.5 1646.6,1261.8 1645.9,1266.3 1645.2,1270.1 1644.6,1271.9 1643.9,1278.6 1643.2,1277.7 1642.6,1279.4 1641.9,1277 1641.2,1279.6 1640.6,1281.2 1639.9,1279.5 1639.3,1282.8 1638.6,1283.8 1637.9,1280.6 1637.3,1284.3 1636.6,1284.3 1635.9,1281.1 1635.3,1284.1 1634.6,1281.9 1633.9,1282.7 1633.3,1282.1 1632.6,1286.4 1632,1290.1 1631.3,1285.3 1630.6,1289.3 1630,1288 1629.3,1283.2 1628.6,1283.1 1628,1283.1 1627.3,1287.3 1626.6,1282.7 1626,1285.6 1625.3,1287.1 1624.7,1283.6 1624,1284.6 1623.3,1284.9 1622.7,1284.1 1622,1286.5 1621.3,1284.9 1620.7,1289.6 1620,1284 1619.3,1286.8 1618.7,1283.7 1618,1285.9 1617.4,1284.5 1616.7,1285.5 1616,1288.8 1615.4,1283.8 1614.7,1286.8 1614,1287.4 1613.4,1283.9 1612.7,1285.9 1612,1283.1 1611.4,1286 1610.7,1285.9 1610.1,1287.5 1609.4,1288.8 1608.7,1285.2 1608.1,1283.8 1607.4,1283.9 1606.7,1286.1 1606.1,1284.5 1605.4,1283.4 1604.7,1284.6 1604.1,1283.8 1603.4,1292.1 1602.8,1286.7 1602.1,1286.1 1601.4,1282.7 1600.8,1287.5 1600.1,1283.8 1599.4,1282.7 1598.8,1282.8 1598.1,1285.2 1597.4,1285.6 1596.8,1284.2 1596.1,1286.7 1595.4,1288.4 1594.8,1285.5 1594.1,1286.2 1593.5,1282.9 1592.8,1289.9 1592.1,1283.1 1591.5,1284.3 1590.8,1286.5 1590.1,1288 1589.5,1282.3 1588.8,1282.5 1588.1,1285.7 1587.5,1290.3 1586.8,1282.8 1586.2,1282.6 1585.5,1281.6 1584.8,1283.6 1584.2,1283.8 1583.5,1281.8 1582.8,1282.1 1582.2,1289.2 1581.5,1284.7 1580.8,1282.1 1580.2,1282.5 1579.5,1288.1 1578.9,1282.4 1578.2,1280.2 1577.5,1279.8 1576.9,1281.6 1576.2,1280 1575.5,1280.5 1574.9,1281.2 1574.2,1280.1 1573.5,1284.4 1572.9,1278.9 1572.2,1281.1 1571.6,1277.4 1570.9,1279 1570.2,1275.9 1569.6,1277.1 1568.9,1279.9 1568.2,1275.5 1567.6,1276.2 1566.9,1274.9 1566.2,1273.5 1565.6,1272 1564.9,1270.8 1564.2,1276.3 1563.6,1269.6 1562.9,1269 1562.3,1275.3 1561.6,1267 1560.9,1265.2 1560.3,1266.5 1559.6,1261.5 1558.9,1260.4 1558.3,1257.7 1557.6,1258.8 1556.9,1253.2 1556.3,1247.7 1555.6,1245.7" fill="#8f00ff"/>
<polygon points="1653.9,1224.2 1654.5,1226.3 1655.2,1229.7 1655.9,1236.6 1656.5,1238.3 1657.2,1240.9 1657.8,1242.6 1658.5,1242.4 1659.2,1244.1 1659.8,1244.7 1660.5,1245.2 1660.5,1267.4 1659.8,1269.2 1659.2,1266.4 1658.5,1266.5 1657.8,1262.6 1657.2,1262.6 1656.5,1260.9 1655.9,1254.9 1655.2,1251.6 1654.5,1251.5 1653.9,1245.7" fill="#8f00ff"/>
<line x1="989" y1="1008" x2="1074.5" y2="1008" stroke="#c27bff" stroke-width="4"/>
<text x="1088.6" y="1020.7" font-size="39" font-weight="bold" textLength="572" lengthAdjust="spacingAndGlyphs">pump power=3.5 W, <tspan font-style="italic">f</tspan>=172.4 kHz</text>
</g>
<path d="M770.2 982.5H1665.2" stroke="#5a5a5a" stroke-width="4.5"/>
<path d="M1663 982.5V1311" stroke="#151515" stroke-width="4.5"/>
<path d="M770.2 1311H1665.2" stroke="#151515" stroke-width="4.5"/>
<path d="M772.5 982.5V1313.2" stroke="#151515" stroke-width="4.5"/>
<path d="M772.5 1311v6 M883.8 1311v5 M995.1 1311v6 M1106.4 1311v5 M1217.8 1311v6 M1329.1 1311v5 M1440.4 1311v6 M1551.7 1311v5 M1663 1311v6 M772.5 985.7h-7 M772.5 1132.7h-7 M772.5 1281.4h-7" stroke="#111" stroke-width="3"/>
<text x="772.5" y="1352" font-size="34" font-weight="bold" text-anchor="middle" textLength="51.2" lengthAdjust="spacingAndGlyphs">-20</text>
<text x="995.1" y="1352" font-size="34" font-weight="bold" text-anchor="middle" textLength="51.2" lengthAdjust="spacingAndGlyphs">-10</text>
<text x="1217.8" y="1352" font-size="34" font-weight="bold" text-anchor="middle" textLength="19.2" lengthAdjust="spacingAndGlyphs">0</text>
<text x="1440.4" y="1352" font-size="34" font-weight="bold" text-anchor="middle" textLength="38.4" lengthAdjust="spacingAndGlyphs">10</text>
<text x="1663" y="1352" font-size="34" font-weight="bold" text-anchor="middle" textLength="38.4" lengthAdjust="spacingAndGlyphs">20</text>
<text x="1122" y="1376.6" font-size="50" font-weight="bold" textLength="112" lengthAdjust="spacingAndGlyphs">Time</text>
<text x="1255" y="1376.6" font-size="50" font-weight="bold" textLength="80" lengthAdjust="spacingAndGlyphs">(μs)</text>
<polyline points="309.5,2607.4 310.7,2607.9 312,2607.7 313.2,2607.1 314.5,2606.9 315.7,2607 317,2607.3 318.2,2607.2 319.5,2606.7 320.7,2606.7 322,2607.1 323.2,2607.5 324.5,2607.5 325.7,2607 327,2606.3 328.2,2606.2 329.5,2606.7 330.7,2607 332,2607.1 333.2,2607.2 334.5,2606.8 335.7,2606.4 337,2606.3 338.2,2606.2 339.5,2606.2 340.7,2606.6 342,2606.6 343.2,2606.3 344.5,2606.4 345.7,2606.5 347,2606.2 348.2,2606.1 349.5,2606.6 350.7,2607.2 352,2607.4 353.2,2607.1 354.5,2607 355.7,2606.9 357,2606.5 358.2,2606.2 359.5,2606.2 360.7,2605.9 362,2605.1 363.2,2605.5 364.5,2606.5 365.7,2606.8 367,2606.5 368.2,2606.4 369.5,2606.5 370.7,2606.4 372,2606.1 373.2,2605.8 374.5,2605.3 375.7,2604.7 377,2604.4 378.2,2604.5 379.5,2605.1 380.7,2605.7 381.9,2606.3 383.2,2606.4 384.4,2606 385.7,2605.7 386.9,2605.2 388.2,2604.9 389.4,2605.4 390.7,2606.1 391.9,2606.8 393.2,2607.3 394.4,2607.3 395.7,2606.4 396.9,2605.6 398.2,2605.8 399.4,2606 400.7,2606 401.9,2606.1 403.2,2606.3 404.4,2606.9 405.7,2607.1 406.9,2606.6 408.2,2606.6 409.4,2606.8 410.7,2606.3 411.9,2605.4 413.2,2605.2 414.4,2605.9 415.7,2605.9 416.9,2605.5 418.2,2605.2 419.4,2605.5 420.7,2606.2 421.9,2606.8 423.2,2606.7 424.4,2606.2 425.7,2605.8 426.9,2605.6 428.2,2605.7 429.4,2605.3 430.7,2605 431.9,2605.4 433.2,2606.1 434.4,2606.8 435.7,2606.9 436.9,2606.9 438.2,2606.6 439.4,2605.8 440.7,2605.7 441.9,2606.3 443.2,2606.3 444.4,2606.3 445.7,2606.3 446.9,2606.1 448.2,2605.8 449.4,2605.7 450.7,2605.9 451.9,2606.2 453.1,2605.8 454.4,2604.9 455.6,2604.5 456.9,2604.7 458.1,2605.4 459.4,2606 460.6,2606 461.9,2605.2 463.1,2604.9 464.4,2605.2 465.6,2605.7 466.9,2606.2 468.1,2606.4 469.4,2606.5 470.6,2606.4 471.9,2606.2 473.1,2606 474.4,2605.9 475.6,2605.9 476.9,2606 478.1,2606.2 479.4,2606 480.6,2605.2 481.9,2604.7 483.1,2605.1 484.4,2605.7 485.6,2605.9 486.9,2605.7 488.1,2605.7 489.4,2605.8 490.6,2605.5 491.9,2605.2 493.1,2605.3 494.4,2605.8 495.6,2606.6 496.9,2606.8 498.1,2606.5 499.4,2606.6 500.6,2606.6 501.9,2606.3 503.1,2605.7 504.4,2604.9 505.6,2604.6 506.9,2605.4 508.1,2606.1 509.4,2605.7 510.6,2605.5 511.9,2605.7 513.1,2606 514.4,2606 515.6,2605.7 516.9,2605.3 518.1,2604.6 519.4,2604.8 520.6,2605.5 521.9,2605.8 523.1,2605.6 524.3,2605.2 525.6,2605.4 526.8,2605.7 528.1,2605.8 529.3,2606.1 530.6,2606.1 531.8,2605.5 533.1,2604.9 534.3,2604.8 535.6,2604.9 536.8,2605.1 538.1,2605.1 539.3,2604.5 540.6,2604.4 541.8,2605.5 543.1,2607 544.3,2607.3 545.6,2606.6 546.8,2605.7 548.1,2605.3 549.3,2605.5 550.6,2605.5 551.8,2605.4 553.1,2605.8 554.3,2605.9 555.6,2605.8 556.8,2605.7 558.1,2605.7 559.3,2605.7 560.6,2605.9 561.8,2606.4 563.1,2606.5 564.3,2606 565.6,2605.5 566.8,2605.5 568.1,2605.4 569.3,2605.6 570.6,2605.8 571.8,2606.1 573.1,2606.3 574.3,2606.1 575.6,2605 576.8,2604.4 578.1,2605 579.3,2605.3 580.6,2605.5 581.8,2605.9 583.1,2606.2 584.3,2605.9 585.6,2605.3 586.8,2605.2 588.1,2605.8 589.3,2606.2 590.6,2606.1 591.8,2605.5 593.1,2605.2 594.3,2605.4 595.5,2606.1 596.8,2606.2 598,2605.3 599.3,2605.4 600.5,2606.4 601.8,2606.5 603,2606.3 604.3,2606.7 605.5,2607 606.8,2606.5 608,2606.4 609.3,2606.6 610.5,2606.5 611.8,2606 613,2605.9 614.3,2606.5 615.5,2606.7 616.8,2606.1 618,2605.6 619.3,2605.6 620.5,2605.3 621.8,2605.5 623,2606.4 624.3,2606.9 625.5,2606.9 626.8,2606.9 628,2607.3 629.3,2607.7 630.5,2607.2 631.8,2606.2 633,2605.9 634.3,2606.5 635.5,2606.7 636.8,2606.2 638,2605.1 639.3,2604.4 640.5,2604.5 641.8,2604.7 643,2604.6 644.3,2604.6 645.5,2605 646.8,2605.6 648,2606 649.3,2605.7 650.5,2605.3 651.8,2605.3 653,2605.9 654.3,2606.9 655.5,2607.6 656.8,2607.3 658,2606.5 659.3,2606.5 660.5,2607 661.8,2607.2 663,2607.1 664.3,2606.6 665.5,2606.6 666.7,2607.1 668,2607.6 669.2,2607.5 670.5,2606.9 671.7,2606.4 673,2606.7 674.2,2606.6 675.5,2606.1 676.7,2606.4 678,2606.8 679.2,2606.7 680.5,2606.6 681.7,2606.7 683,2607.1 684.2,2606.7 685.5,2605.9 686.7,2605.4 688,2605.5 689.2,2606 690.5,2606.1 691.7,2606.1 693,2606.5 694.2,2606.7 695.5,2606.6 696.7,2606.6 698,2606.4 699.2,2606.1 700.5,2606 701.7,2606 703,2605.8 704.2,2605.8 705.5,2606.3 706.7,2606.6 708,2607.1 709.2,2607.3 710.5,2607.1 711.7,2606.9 713,2606.3 714.2,2605.7 715.5,2605.5 716.7,2605.4 718,2605.5 719.2,2605.4 720.5,2605.4 721.7,2605.5 723,2605.8 724.2,2605.9 725.5,2605.8 726.7,2605.7 728,2605.9 729.2,2605.9 730.5,2605 731.7,2604.5 733,2604.9 734.2,2605.3 735.5,2605.3 736.7,2605 738,2604.7 739.2,2605.1 740.4,2605.5 741.7,2605.5 742.9,2605.5 744.2,2605.2 745.4,2604.4 746.7,2603.9 747.9,2604.3 749.2,2604.5 750.4,2604.6 751.7,2605 752.9,2604.8 754.2,2604.3 755.4,2603.7 756.7,2603.3 757.9,2603.5 759.2,2603.8 760.4,2604.3 761.7,2603.9 762.9,2603.1 764.2,2603.3 765.4,2603.9 766.7,2604.4 767.9,2604.2 769.2,2603.7 770.4,2603.6 771.7,2603.6 772.9,2603.5 774.2,2603.4 775.4,2603.6 776.7,2603.5 777.9,2603.1 779.2,2603 780.4,2603.2 781.7,2603.3 782.9,2603 784.2,2602.7 785.4,2602.7 786.7,2602.7 787.9,2603 789.2,2603.1 790.4,2602.6 791.7,2602.2 792.9,2602.6 794.2,2603.1 795.4,2603.2 796.7,2603.4 797.9,2603.8 799.2,2603.4 800.4,2602.1 801.7,2601.6 802.9,2601.7 804.2,2602.3 805.4,2602.7 806.7,2602.4 807.9,2601.5 809.2,2601.4 810.4,2602.2 811.6,2602.9 812.9,2603.3 814.1,2603.3 815.4,2603.1 816.6,2602.6 817.9,2602 819.1,2602 820.4,2602.3 821.6,2602.1 822.9,2602.2 824.1,2602.7 825.4,2602.7 826.6,2602.4 827.9,2602.6 829.1,2602.6 830.4,2602.3 831.6,2602.3 832.9,2602.1 834.1,2601.6 835.4,2601.2 836.6,2600.9 837.9,2600.6 839.1,2600.3 840.4,2600.7 841.6,2601.1 842.9,2601.2 844.1,2601.4 845.4,2601.4 846.6,2601 847.9,2600.6 849.1,2600.2 850.4,2599.7 851.6,2599.6 852.9,2600.4 854.1,2600.7 855.4,2600.1 856.6,2599.8 857.9,2599.9 859.1,2600 860.4,2600.3 861.6,2600.6 862.9,2599.9 864.1,2599 865.4,2598.7 866.6,2599.1 867.9,2599.9 869.1,2600 870.4,2599.6 871.6,2599.3 872.9,2599.3 874.1,2598.9 875.4,2598.2 876.6,2597.5 877.9,2597 879.1,2597 880.4,2597.3 881.6,2597.2 882.8,2596.5 884.1,2596.2 885.3,2596.3 886.6,2596.4 887.8,2596.6 889.1,2596.6 890.3,2596.2 891.6,2595.9 892.8,2595.7 894.1,2595.4 895.3,2595.2 896.6,2595.4 897.8,2594.9 899.1,2594.2 900.3,2593.9 901.6,2593.6 902.8,2593.5 904.1,2593.5 905.3,2592.9 906.6,2592.4 907.8,2592.2 909.1,2592.5 910.3,2592.9 911.6,2593.4 912.8,2593.3 914.1,2592.5 915.3,2591.6 916.6,2591.4 917.8,2591.4 919.1,2591.5 920.3,2591.5 921.6,2591.2 922.8,2590.5 924.1,2590.1 925.3,2589.7 926.6,2589 927.8,2588.5 929.1,2588.3 930.3,2588.3 931.6,2588.6 932.8,2588.8 934.1,2588.2 935.3,2587.4 936.6,2587 937.8,2586.9 939.1,2586.2 940.3,2585.6 941.6,2585.2 942.8,2585.1 944.1,2585 945.3,2584.4 946.6,2583.8 947.8,2582.8 949.1,2581.5 950.3,2580.7 951.6,2579.7 952.8,2578.8 954,2579.1 955.3,2579.8 956.5,2579.2 957.8,2577.7 959,2577 960.3,2576.9 961.5,2576.7 962.8,2576.2 964,2575.2 965.3,2574.2 966.5,2573.1 967.8,2572.5 969,2572.6 970.3,2572.4 971.5,2571.4 972.8,2569.8 974,2568.4 975.3,2567.6 976.5,2566.8 977.8,2565.9 979,2564.6 980.3,2562.9 981.5,2561.2 982.8,2560.3 984,2559.9 985.3,2558.9 986.5,2557.5 987.8,2556.2 989,2555.5 990.3,2554.7 991.5,2553.5 992.8,2552 994,2550 995.3,2548 996.5,2546.5 997.8,2545.4 999,2544.7 1000.3,2543.7 1001.5,2542.1 1002.8,2539.5 1004,2536.7 1005.3,2534.4 1006.5,2533 1007.8,2531.9 1009,2530.6 1010.3,2528.9 1011.5,2526.6 1012.8,2524.1 1014,2521.9 1015.3,2519.6 1016.5,2516.9 1017.8,2514.4 1019,2512.3 1020.3,2509.9 1021.5,2507.1 1022.8,2504.7 1024,2502.8 1025.2,2500 1026.5,2496.9 1027.7,2494.5 1029,2492 1030.2,2489 1031.5,2486.2 1032.7,2483.9 1034,2481.5 1035.2,2478.5 1036.5,2475.2 1037.7,2472.1 1039,2469.4 1040.2,2466.1 1041.5,2462.1 1042.7,2458.4 1044,2455.2 1045.2,2452.1 1046.5,2448.7 1047.7,2445 1049,2441 1050.2,2436.9 1051.5,2432.5 1052.7,2428.9 1054,2425.9 1055.2,2421.9 1056.5,2417.2 1057.7,2413.3 1059,2410.4 1060.2,2407.1 1061.5,2402.6 1062.7,2398.5 1064,2395.3 1065.2,2391.6 1066.5,2387.9 1067.7,2384.9 1069,2381.7 1070.2,2377.9 1071.5,2373.5 1072.7,2369.6 1074,2366.1 1075.2,2363.2 1076.5,2360.3 1077.7,2357.2 1079,2354.1 1080.2,2350.8 1081.5,2347.3 1082.7,2343.5 1084,2340 1085.2,2337.5 1086.5,2335.3 1087.7,2332.3 1089,2328.9 1090.2,2325.5 1091.5,2322.1 1092.7,2319.4 1094,2317.1 1095.2,2314.7 1096.4,2312 1097.7,2309.5 1098.9,2306.4 1100.2,2303.5 1101.4,2301.5 1102.7,2300 1103.9,2298.3 1105.2,2296.3 1106.4,2294.6 1107.7,2292.9 1108.9,2291.3 1110.2,2289.6 1111.4,2287.9 1112.7,2286.4 1113.9,2285.6 1115.2,2284.8 1116.4,2283.9 1117.7,2282.9 1118.9,2281.9 1120.2,2281.2 1121.4,2281.4 1122.7,2281.6 1123.9,2281.4 1125.2,2281.1 1126.4,2281.4 1127.7,2282.5 1128.9,2283.1 1130.2,2283.3 1131.4,2282.9 1132.7,2282.7 1133.9,2283.2 1135.2,2283.9 1136.4,2284.4 1137.7,2285.1 1138.9,2286.1 1140.2,2287.2 1141.4,2288 1142.7,2289.2 1143.9,2290.5 1145.2,2291.7 1146.4,2293 1147.7,2294.8 1148.9,2296.4 1150.2,2297.7 1151.4,2298.9 1152.7,2300.6 1153.9,2302.8 1155.2,2305.4 1156.4,2307.8 1157.7,2309.8 1158.9,2311.2 1160.2,2312.7 1161.4,2314.6 1162.7,2316.9 1163.9,2319.3 1165.2,2322.1 1166.4,2324.4 1167.6,2326.2 1168.9,2328.9 1170.1,2331.6 1171.4,2333.6 1172.6,2335.9 1173.9,2338.7 1175.1,2341.3 1176.4,2344.3 1177.6,2347.7 1178.9,2350.4 1180.1,2352.9 1181.4,2355.9 1182.6,2359.2 1183.9,2362.2 1185.1,2365 1186.4,2368.4 1187.6,2371.8 1188.9,2375 1190.1,2378.3 1191.4,2382 1192.6,2385.8 1193.9,2389.5 1195.1,2393.3 1196.4,2397.2 1197.6,2400.3 1198.9,2402.7 1200.1,2405.3 1201.4,2408.2 1202.6,2411.6 1203.9,2415.3 1205.1,2418.3 1206.4,2420.7 1207.6,2423.3 1208.9,2426.4 1210.1,2429.6 1211.4,2432 1212.6,2433.9 1213.9,2436.5 1215.1,2439.4 1216.4,2442.1 1217.6,2444.3 1218.9,2446.5 1220.1,2449.6 1221.4,2452.7 1222.6,2455.3 1223.9,2457.1 1225.1,2458.6 1226.4,2460.8 1227.6,2463.5 1228.9,2465.9 1230.1,2467.4 1231.4,2468.6 1232.6,2470.2 1233.9,2472.7 1235.1,2475.5 1236.4,2477.7 1237.6,2479.8 1238.8,2481.9 1240.1,2483.9 1241.3,2485.6 1242.6,2487.4 1243.8,2489.3 1245.1,2491.5 1246.3,2493.8 1247.6,2495.5 1248.8,2496.6 1250.1,2498.2 1251.3,2500.2 1252.6,2502.2 1253.8,2504 1255.1,2505.1 1256.3,2506.2 1257.6,2507.8 1258.8,2509.7 1260.1,2511.9 1261.3,2514.1 1262.6,2515.2 1263.8,2516 1265.1,2517.2 1266.3,2518.5 1267.6,2519.7 1268.8,2520.4 1270.1,2521.6 1271.3,2523.3 1272.6,2524.8 1273.8,2525.8 1275.1,2526.4 1276.3,2527.6 1277.6,2529.1 1278.8,2530 1280.1,2531 1281.3,2532.4 1282.6,2533.3 1283.8,2533.6 1285.1,2534.7 1286.3,2536.2 1287.6,2537.1 1288.8,2537.4 1290.1,2537.9 1291.3,2538.9 1292.6,2539.9 1293.8,2540.7 1295.1,2541.3 1296.3,2541.9 1297.6,2542.5 1298.8,2543 1300.1,2544 1301.3,2544.9 1302.6,2545.3 1303.8,2545.3 1305.1,2545.8 1306.3,2547.1 1307.6,2547.8 1308.8,2548.2 1310,2549.2 1311.3,2550 1312.5,2550.5 1313.8,2551.6 1315,2552.7 1316.3,2553.9 1317.5,2554.9 1318.8,2554.9 1320,2555.1 1321.3,2555.7 1322.5,2556.3 1323.8,2556.6 1325,2556.8 1326.3,2557 1327.5,2557.5 1328.8,2558.4 1330,2559.4 1331.3,2560.7 1332.5,2561 1333.8,2559.7 1335,2558.8 1336.3,2559.3 1337.5,2561 1338.8,2562.3 1340,2562.3 1341.3,2562.3 1342.5,2562.8 1343.8,2563.4 1345,2563.6 1346.3,2563.6 1347.5,2563.6 1348.8,2563.6 1350,2564.2 1351.3,2565.3 1352.5,2565.9 1353.8,2565.6 1355,2565.7 1356.3,2566.4 1357.5,2566.8 1358.8,2566.4 1360,2566.1 1361.3,2566.8 1362.5,2567.8 1363.8,2568.4 1365,2568.7 1366.3,2569 1367.5,2569.7 1368.8,2570.1 1370,2569.9 1371.3,2569.9 1372.5,2570.1 1373.8,2570 1375,2570.3 1376.3,2570.7 1377.5,2570.8 1378.8,2571.4 1380,2572.3 1381.2,2572.3 1382.5,2572.1 1383.7,2572.2 1385,2572.4 1386.2,2572.8 1387.5,2573.3 1388.7,2573.3 1390,2573.1 1391.2,2573.6 1392.5,2574.7 1393.7,2575.2 1395,2574.7 1396.2,2574.3 1397.5,2574.4 1398.7,2575.1 1400,2575.9 1401.2,2576.1 1402.5,2575.7 1403.7,2575.1 1405,2574.7 1406.2,2575.3 1407.5,2576.3 1408.7,2576.6 1410,2576.7 1411.2,2576.8 1412.5,2576.9 1413.7,2576.9 1415,2577.4 1416.2,2578 1417.5,2578.8 1418.7,2579.2 1420,2578.9 1421.2,2578.8 1422.5,2579.3 1423.7,2579.9 1425,2579.7 1426.2,2579.4 1427.5,2579.9 1428.7,2580.5 1430,2580.6 1431.2,2580.4 1432.5,2580.6 1433.7,2580.6 1435,2580.8 1436.2,2581.2 1437.5,2581.7 1438.7,2582.1 1440,2582.2 1441.2,2582 1442.5,2581.9 1443.7,2582 1445,2582.2 1446.2,2582.4 1447.5,2582.5 1448.7,2582.5 1450,2582.8 1451.2,2583.1 1452.5,2583.8 1453.7,2584.5 1454.9,2584.8 1456.2,2584.7 1457.4,2584.5 1458.7,2584.6 1459.9,2584.5 1461.2,2584 1462.4,2583.8 1463.7,2584.3 1464.9,2585.1 1466.2,2585.5 1467.4,2585.7 1468.7,2585.7 1469.9,2585.5 1471.2,2585 1472.4,2584.8 1473.7,2584.9 1474.9,2585.6 1476.2,2586.1 1477.4,2586 1478.7,2586 1479.9,2586.2 1481.2,2586.5 1482.4,2586.5 1483.7,2586.3 1484.9,2586.1 1486.2,2586.2 1487.4,2587.1 1488.7,2587.6 1489.9,2587.5 1491.2,2587.4 1492.4,2587.2 1493.7,2587.1 1494.9,2587.2 1496.2,2587.2 1497.4,2587.1 1498.7,2587.1 1499.9,2587.8 1501.2,2588.7 1502.4,2588.8 1503.7,2588.4 1504.9,2588.1 1506.2,2587.7 1507.4,2587.2 1508.7,2586.7 1509.9,2586.6 1511.2,2587 1512.4,2587.3 1513.7,2587.5 1514.9,2587.8 1516.2,2588.4 1517.4,2588.6 1518.7,2588.7 1519.9,2588.8 1521.2,2589.2 1522.4,2589.6 1523.7,2589.9 1524.9,2589.9 1526.1,2589.3 1527.4,2589.1 1528.6,2589.8 1529.9,2590.2 1531.1,2589.7 1532.4,2589.5 1533.6,2589.7 1534.9,2589.3 1536.1,2588.8 1537.4,2588.9 1538.6,2589.3 1539.9,2589.2 1541.1,2589.3 1542.4,2590 1543.6,2590.4 1544.9,2590 1546.1,2589.1 1547.4,2589 1548.6,2589.8 1549.9,2590.5 1551.1,2590.3 1552.4,2589.7 1553.6,2589.6 1554.9,2589.6 1556.1,2589.5 1557.4,2589.8 1558.6,2590.3 1559.9,2590.4 1561.1,2589.9 1562.4,2589.1 1563.6,2588.9 1564.9,2590 1566.1,2591.1 1567.4,2590.9 1568.6,2589.8 1569.9,2589.3 1571.1,2589.4 1572.4,2589.7 1573.6,2590.3 1574.9,2591 1576.1,2591.1 1577.4,2590.2 1578.6,2589.5 1579.9,2589.6 1581.1,2589.6 1582.4,2589.4 1583.6,2589.4 1584.9,2590.2 1586.1,2590.9 1587.4,2591.3 1588.6,2590.7 1589.9,2589.6 1591.1,2589.2 1592.4,2589.5 1593.6,2590.1 1594.9,2590.4 1596.1,2590.2 1597.3,2590.5 1598.6,2590.9 1599.8,2590.8 1601.1,2590.9 1602.3,2590.8 1603.6,2590.3 1604.8,2590 1606.1,2589.9 1607.3,2589.5 1608.6,2589.8 1609.8,2590.7 1611.1,2591.2 1612.3,2591.6 1613.6,2592.1 1614.8,2591.7 1616.1,2591 1617.3,2590.8 1618.6,2591.3 1619.8,2591.9 1621.1,2592 1622.3,2591.7 1623.6,2591.5 1624.8,2591.4 1626.1,2591.1 1627.3,2591 1628.6,2591.4 1629.8,2591.9 1631.1,2592.3 1632.3,2592.4 1633.6,2592.3 1634.8,2592.1 1636.1,2592.2 1637.3,2592.1 1638.6,2591.8 1639.8,2591.7 1641.1,2591.5 1642.3,2591.2 1643.6,2591.4 1644.8,2591.5 1646.1,2591.2 1647.3,2590.9 1648.6,2590.8 1649.8,2590.7 1651.1,2590.8 1652.3,2591.2 1653.6,2591.4 1654.8,2591.2 1656.1,2591.2 1657.3,2591.7 1658.6,2592 1659.8,2592.2 1661.1,2592.6 1662.3,2592.5 1663.6,2592.4 1664.8,2592.8 1666.1,2592.7 1667.3,2592 1668.5,2591.5 1669.8,2591.7 1671,2592.2 1672.3,2592.1 1673.5,2591.9 1674.8,2591.7 1676,2591.9 1677.3,2592.3 1678.5,2592.9 1679.8,2593.6 1681,2593.8 1682.3,2593.5 1683.5,2593.1 1684.8,2592.7 1686,2592.3 1687.3,2592 1688.5,2592 1689.8,2592.1 1691,2592.6 1692.3,2593.1 1693.5,2593.3 1694.8,2593.2 1696,2592.8 1697.3,2592.4 1698.5,2592.4 1699.8,2592.6 1701,2592.7 1702.3,2593.1 1703.5,2593.5 1704.8,2593.6 1706,2593.3 1707.3,2592.7 1708.5,2592.4 1709.8,2592.3 1711,2592.4 1712.3,2592.6 1713.5,2593.1 1714.8,2593.6 1716,2593.7 1717.3,2594 1718.5,2594.2 1719.8,2593.9 1721,2594.1 1722.3,2594.6 1723.5,2594.6 1724.8,2593.5 1726,2592.6 1727.3,2593.2 1728.5,2593.9 1729.8,2594.1 1731,2594.7 1732.3,2595.2 1733.5,2594.6 1734.8,2593.7 1736,2593.5 1737.3,2593.7 1738.5,2593.8 1739.7,2593.9 1741,2594 1742.2,2594.2 1743.5,2594.4 1744.7,2594.7 1746,2594.4 1747.2,2593.8 1748.5,2593.8 1749.7,2594.5 1751,2595.3 1752.2,2595.4 1753.5,2595.1 1754.7,2594.6 1756,2594.3 1757.2,2594.4 1758.5,2595 1759.7,2595.4 1761,2595.5 1762.2,2595.2 1763.5,2595 1764.7,2595.3 1766,2595.7 1767.2,2595.6 1768.5,2595.4 1769.7,2595.2 1771,2595.2 1772.2,2595.3 1773.5,2595 1774.7,2594.6 1776,2594.8 1777.2,2595 1778.5,2595.2 1779.7,2595.1 1781,2594.8 1782.2,2594.7 1783.5,2595.1 1784.7,2595.7 1786,2595.7 1787.2,2595.8 1788.5,2596.1 1789.7,2596.1 1791,2595.7 1792.2,2595.4 1793.5,2595.4 1794.7,2595 1796,2594.7 1797.2,2595.1 1798.5,2595.6 1799.7,2595.7 1801,2595.1 1802.2,2595.1 1803.5,2595.6 1804.7,2596.2 1806,2596.5 1807.2,2596.1 1808.5,2595.8 1809.7,2596.1" fill="none" stroke="#0505a5" stroke-opacity="0.3" stroke-width="11" stroke-linejoin="round"/>
<polyline points="309.5,2607.4 310.7,2607.9 312,2607.7 313.2,2607.1 314.5,2606.9 315.7,2607 317,2607.3 318.2,2607.2 319.5,2606.7 320.7,2606.7 322,2607.1 323.2,2607.5 324.5,2607.5 325.7,2607 327,2606.3 328.2,2606.2 329.5,2606.7 330.7,2607 332,2607.1 333.2,2607.2 334.5,2606.8 335.7,2606.4 337,2606.3 338.2,2606.2 339.5,2606.2 340.7,2606.6 342,2606.6 343.2,2606.3 344.5,2606.4 345.7,2606.5 347,2606.2 348.2,2606.1 349.5,2606.6 350.7,2607.2 352,2607.4 353.2,2607.1 354.5,2607 355.7,2606.9 357,2606.5 358.2,2606.2 359.5,2606.2 360.7,2605.9 362,2605.1 363.2,2605.5 364.5,2606.5 365.7,2606.8 367,2606.5 368.2,2606.4 369.5,2606.5 370.7,2606.4 372,2606.1 373.2,2605.8 374.5,2605.3 375.7,2604.7 377,2604.4 378.2,2604.5 379.5,2605.1 380.7,2605.7 381.9,2606.3 383.2,2606.4 384.4,2606 385.7,2605.7 386.9,2605.2 388.2,2604.9 389.4,2605.4 390.7,2606.1 391.9,2606.8 393.2,2607.3 394.4,2607.3 395.7,2606.4 396.9,2605.6 398.2,2605.8 399.4,2606 400.7,2606 401.9,2606.1 403.2,2606.3 404.4,2606.9 405.7,2607.1 406.9,2606.6 408.2,2606.6 409.4,2606.8 410.7,2606.3 411.9,2605.4 413.2,2605.2 414.4,2605.9 415.7,2605.9 416.9,2605.5 418.2,2605.2 419.4,2605.5 420.7,2606.2 421.9,2606.8 423.2,2606.7 424.4,2606.2 425.7,2605.8 426.9,2605.6 428.2,2605.7 429.4,2605.3 430.7,2605 431.9,2605.4 433.2,2606.1 434.4,2606.8 435.7,2606.9 436.9,2606.9 438.2,2606.6 439.4,2605.8 440.7,2605.7 441.9,2606.3 443.2,2606.3 444.4,2606.3 445.7,2606.3 446.9,2606.1 448.2,2605.8 449.4,2605.7 450.7,2605.9 451.9,2606.2 453.1,2605.8 454.4,2604.9 455.6,2604.5 456.9,2604.7 458.1,2605.4 459.4,2606 460.6,2606 461.9,2605.2 463.1,2604.9 464.4,2605.2 465.6,2605.7 466.9,2606.2 468.1,2606.4 469.4,2606.5 470.6,2606.4 471.9,2606.2 473.1,2606 474.4,2605.9 475.6,2605.9 476.9,2606 478.1,2606.2 479.4,2606 480.6,2605.2 481.9,2604.7 483.1,2605.1 484.4,2605.7 485.6,2605.9 486.9,2605.7 488.1,2605.7 489.4,2605.8 490.6,2605.5 491.9,2605.2 493.1,2605.3 494.4,2605.8 495.6,2606.6 496.9,2606.8 498.1,2606.5 499.4,2606.6 500.6,2606.6 501.9,2606.3 503.1,2605.7 504.4,2604.9 505.6,2604.6 506.9,2605.4 508.1,2606.1 509.4,2605.7 510.6,2605.5 511.9,2605.7 513.1,2606 514.4,2606 515.6,2605.7 516.9,2605.3 518.1,2604.6 519.4,2604.8 520.6,2605.5 521.9,2605.8 523.1,2605.6 524.3,2605.2 525.6,2605.4 526.8,2605.7 528.1,2605.8 529.3,2606.1 530.6,2606.1 531.8,2605.5 533.1,2604.9 534.3,2604.8 535.6,2604.9 536.8,2605.1 538.1,2605.1 539.3,2604.5 540.6,2604.4 541.8,2605.5 543.1,2607 544.3,2607.3 545.6,2606.6 546.8,2605.7 548.1,2605.3 549.3,2605.5 550.6,2605.5 551.8,2605.4 553.1,2605.8 554.3,2605.9 555.6,2605.8 556.8,2605.7 558.1,2605.7 559.3,2605.7 560.6,2605.9 561.8,2606.4 563.1,2606.5 564.3,2606 565.6,2605.5 566.8,2605.5 568.1,2605.4 569.3,2605.6 570.6,2605.8 571.8,2606.1 573.1,2606.3 574.3,2606.1 575.6,2605 576.8,2604.4 578.1,2605 579.3,2605.3 580.6,2605.5 581.8,2605.9 583.1,2606.2 584.3,2605.9 585.6,2605.3 586.8,2605.2 588.1,2605.8 589.3,2606.2 590.6,2606.1 591.8,2605.5 593.1,2605.2 594.3,2605.4 595.5,2606.1 596.8,2606.2 598,2605.3 599.3,2605.4 600.5,2606.4 601.8,2606.5 603,2606.3 604.3,2606.7 605.5,2607 606.8,2606.5 608,2606.4 609.3,2606.6 610.5,2606.5 611.8,2606 613,2605.9 614.3,2606.5 615.5,2606.7 616.8,2606.1 618,2605.6 619.3,2605.6 620.5,2605.3 621.8,2605.5 623,2606.4 624.3,2606.9 625.5,2606.9 626.8,2606.9 628,2607.3 629.3,2607.7 630.5,2607.2 631.8,2606.2 633,2605.9 634.3,2606.5 635.5,2606.7 636.8,2606.2 638,2605.1 639.3,2604.4 640.5,2604.5 641.8,2604.7 643,2604.6 644.3,2604.6 645.5,2605 646.8,2605.6 648,2606 649.3,2605.7 650.5,2605.3 651.8,2605.3 653,2605.9 654.3,2606.9 655.5,2607.6 656.8,2607.3 658,2606.5 659.3,2606.5 660.5,2607 661.8,2607.2 663,2607.1 664.3,2606.6 665.5,2606.6 666.7,2607.1 668,2607.6 669.2,2607.5 670.5,2606.9 671.7,2606.4 673,2606.7 674.2,2606.6 675.5,2606.1 676.7,2606.4 678,2606.8 679.2,2606.7 680.5,2606.6 681.7,2606.7 683,2607.1 684.2,2606.7 685.5,2605.9 686.7,2605.4 688,2605.5 689.2,2606 690.5,2606.1 691.7,2606.1 693,2606.5 694.2,2606.7 695.5,2606.6 696.7,2606.6 698,2606.4 699.2,2606.1 700.5,2606 701.7,2606 703,2605.8 704.2,2605.8 705.5,2606.3 706.7,2606.6 708,2607.1 709.2,2607.3 710.5,2607.1 711.7,2606.9 713,2606.3 714.2,2605.7 715.5,2605.5 716.7,2605.4 718,2605.5 719.2,2605.4 720.5,2605.4 721.7,2605.5 723,2605.8 724.2,2605.9 725.5,2605.8 726.7,2605.7 728,2605.9 729.2,2605.9 730.5,2605 731.7,2604.5 733,2604.9 734.2,2605.3 735.5,2605.3 736.7,2605 738,2604.7 739.2,2605.1 740.4,2605.5 741.7,2605.5 742.9,2605.5 744.2,2605.2 745.4,2604.4 746.7,2603.9 747.9,2604.3 749.2,2604.5 750.4,2604.6 751.7,2605 752.9,2604.8 754.2,2604.3 755.4,2603.7 756.7,2603.3 757.9,2603.5 759.2,2603.8 760.4,2604.3 761.7,2603.9 762.9,2603.1 764.2,2603.3 765.4,2603.9 766.7,2604.4 767.9,2604.2 769.2,2603.7 770.4,2603.6 771.7,2603.6 772.9,2603.5 774.2,2603.4 775.4,2603.6 776.7,2603.5 777.9,2603.1 779.2,2603 780.4,2603.2 781.7,2603.3 782.9,2603 784.2,2602.7 785.4,2602.7 786.7,2602.7 787.9,2603 789.2,2603.1 790.4,2602.6 791.7,2602.2 792.9,2602.6 794.2,2603.1 795.4,2603.2 796.7,2603.4 797.9,2603.8 799.2,2603.4 800.4,2602.1 801.7,2601.6 802.9,2601.7 804.2,2602.3 805.4,2602.7 806.7,2602.4 807.9,2601.5 809.2,2601.4 810.4,2602.2 811.6,2602.9 812.9,2603.3 814.1,2603.3 815.4,2603.1 816.6,2602.6 817.9,2602 819.1,2602 820.4,2602.3 821.6,2602.1 822.9,2602.2 824.1,2602.7 825.4,2602.7 826.6,2602.4 827.9,2602.6 829.1,2602.6 830.4,2602.3 831.6,2602.3 832.9,2602.1 834.1,2601.6 835.4,2601.2 836.6,2600.9 837.9,2600.6 839.1,2600.3 840.4,2600.7 841.6,2601.1 842.9,2601.2 844.1,2601.4 845.4,2601.4 846.6,2601 847.9,2600.6 849.1,2600.2 850.4,2599.7 851.6,2599.6 852.9,2600.4 854.1,2600.7 855.4,2600.1 856.6,2599.8 857.9,2599.9 859.1,2600 860.4,2600.3 861.6,2600.6 862.9,2599.9 864.1,2599 865.4,2598.7 866.6,2599.1 867.9,2599.9 869.1,2600 870.4,2599.6 871.6,2599.3 872.9,2599.3 874.1,2598.9 875.4,2598.2 876.6,2597.5 877.9,2597 879.1,2597 880.4,2597.3 881.6,2597.2 882.8,2596.5 884.1,2596.2 885.3,2596.3 886.6,2596.4 887.8,2596.6 889.1,2596.6 890.3,2596.2 891.6,2595.9 892.8,2595.7 894.1,2595.4 895.3,2595.2 896.6,2595.4 897.8,2594.9 899.1,2594.2 900.3,2593.9 901.6,2593.6 902.8,2593.5 904.1,2593.5 905.3,2592.9 906.6,2592.4 907.8,2592.2 909.1,2592.5 910.3,2592.9 911.6,2593.4 912.8,2593.3 914.1,2592.5 915.3,2591.6 916.6,2591.4 917.8,2591.4 919.1,2591.5 920.3,2591.5 921.6,2591.2 922.8,2590.5 924.1,2590.1 925.3,2589.7 926.6,2589 927.8,2588.5 929.1,2588.3 930.3,2588.3 931.6,2588.6 932.8,2588.8 934.1,2588.2 935.3,2587.4 936.6,2587 937.8,2586.9 939.1,2586.2 940.3,2585.6 941.6,2585.2 942.8,2585.1 944.1,2585 945.3,2584.4 946.6,2583.8 947.8,2582.8 949.1,2581.5 950.3,2580.7 951.6,2579.7 952.8,2578.8 954,2579.1 955.3,2579.8 956.5,2579.2 957.8,2577.7 959,2577 960.3,2576.9 961.5,2576.7 962.8,2576.2 964,2575.2 965.3,2574.2 966.5,2573.1 967.8,2572.5 969,2572.6 970.3,2572.4 971.5,2571.4 972.8,2569.8 974,2568.4 975.3,2567.6 976.5,2566.8 977.8,2565.9 979,2564.6 980.3,2562.9 981.5,2561.2 982.8,2560.3 984,2559.9 985.3,2558.9 986.5,2557.5 987.8,2556.2 989,2555.5 990.3,2554.7 991.5,2553.5 992.8,2552 994,2550 995.3,2548 996.5,2546.5 997.8,2545.4 999,2544.7 1000.3,2543.7 1001.5,2542.1 1002.8,2539.5 1004,2536.7 1005.3,2534.4 1006.5,2533 1007.8,2531.9 1009,2530.6 1010.3,2528.9 1011.5,2526.6 1012.8,2524.1 1014,2521.9 1015.3,2519.6 1016.5,2516.9 1017.8,2514.4 1019,2512.3 1020.3,2509.9 1021.5,2507.1 1022.8,2504.7 1024,2502.8 1025.2,2500 1026.5,2496.9 1027.7,2494.5 1029,2492 1030.2,2489 1031.5,2486.2 1032.7,2483.9 1034,2481.5 1035.2,2478.5 1036.5,2475.2 1037.7,2472.1 1039,2469.4 1040.2,2466.1 1041.5,2462.1 1042.7,2458.4 1044,2455.2 1045.2,2452.1 1046.5,2448.7 1047.7,2445 1049,2441 1050.2,2436.9 1051.5,2432.5 1052.7,2428.9 1054,2425.9 1055.2,2421.9 1056.5,2417.2 1057.7,2413.3 1059,2410.4 1060.2,2407.1 1061.5,2402.6 1062.7,2398.5 1064,2395.3 1065.2,2391.6 1066.5,2387.9 1067.7,2384.9 1069,2381.7 1070.2,2377.9 1071.5,2373.5 1072.7,2369.6 1074,2366.1 1075.2,2363.2 1076.5,2360.3 1077.7,2357.2 1079,2354.1 1080.2,2350.8 1081.5,2347.3 1082.7,2343.5 1084,2340 1085.2,2337.5 1086.5,2335.3 1087.7,2332.3 1089,2328.9 1090.2,2325.5 1091.5,2322.1 1092.7,2319.4 1094,2317.1 1095.2,2314.7 1096.4,2312 1097.7,2309.5 1098.9,2306.4 1100.2,2303.5 1101.4,2301.5 1102.7,2300 1103.9,2298.3 1105.2,2296.3 1106.4,2294.6 1107.7,2292.9 1108.9,2291.3 1110.2,2289.6 1111.4,2287.9 1112.7,2286.4 1113.9,2285.6 1115.2,2284.8 1116.4,2283.9 1117.7,2282.9 1118.9,2281.9 1120.2,2281.2 1121.4,2281.4 1122.7,2281.6 1123.9,2281.4 1125.2,2281.1 1126.4,2281.4 1127.7,2282.5 1128.9,2283.1 1130.2,2283.3 1131.4,2282.9 1132.7,2282.7 1133.9,2283.2 1135.2,2283.9 1136.4,2284.4 1137.7,2285.1 1138.9,2286.1 1140.2,2287.2 1141.4,2288 1142.7,2289.2 1143.9,2290.5 1145.2,2291.7 1146.4,2293 1147.7,2294.8 1148.9,2296.4 1150.2,2297.7 1151.4,2298.9 1152.7,2300.6 1153.9,2302.8 1155.2,2305.4 1156.4,2307.8 1157.7,2309.8 1158.9,2311.2 1160.2,2312.7 1161.4,2314.6 1162.7,2316.9 1163.9,2319.3 1165.2,2322.1 1166.4,2324.4 1167.6,2326.2 1168.9,2328.9 1170.1,2331.6 1171.4,2333.6 1172.6,2335.9 1173.9,2338.7 1175.1,2341.3 1176.4,2344.3 1177.6,2347.7 1178.9,2350.4 1180.1,2352.9 1181.4,2355.9 1182.6,2359.2 1183.9,2362.2 1185.1,2365 1186.4,2368.4 1187.6,2371.8 1188.9,2375 1190.1,2378.3 1191.4,2382 1192.6,2385.8 1193.9,2389.5 1195.1,2393.3 1196.4,2397.2 1197.6,2400.3 1198.9,2402.7 1200.1,2405.3 1201.4,2408.2 1202.6,2411.6 1203.9,2415.3 1205.1,2418.3 1206.4,2420.7 1207.6,2423.3 1208.9,2426.4 1210.1,2429.6 1211.4,2432 1212.6,2433.9 1213.9,2436.5 1215.1,2439.4 1216.4,2442.1 1217.6,2444.3 1218.9,2446.5 1220.1,2449.6 1221.4,2452.7 1222.6,2455.3 1223.9,2457.1 1225.1,2458.6 1226.4,2460.8 1227.6,2463.5 1228.9,2465.9 1230.1,2467.4 1231.4,2468.6 1232.6,2470.2 1233.9,2472.7 1235.1,2475.5 1236.4,2477.7 1237.6,2479.8 1238.8,2481.9 1240.1,2483.9 1241.3,2485.6 1242.6,2487.4 1243.8,2489.3 1245.1,2491.5 1246.3,2493.8 1247.6,2495.5 1248.8,2496.6 1250.1,2498.2 1251.3,2500.2 1252.6,2502.2 1253.8,2504 1255.1,2505.1 1256.3,2506.2 1257.6,2507.8 1258.8,2509.7 1260.1,2511.9 1261.3,2514.1 1262.6,2515.2 1263.8,2516 1265.1,2517.2 1266.3,2518.5 1267.6,2519.7 1268.8,2520.4 1270.1,2521.6 1271.3,2523.3 1272.6,2524.8 1273.8,2525.8 1275.1,2526.4 1276.3,2527.6 1277.6,2529.1 1278.8,2530 1280.1,2531 1281.3,2532.4 1282.6,2533.3 1283.8,2533.6 1285.1,2534.7 1286.3,2536.2 1287.6,2537.1 1288.8,2537.4 1290.1,2537.9 1291.3,2538.9 1292.6,2539.9 1293.8,2540.7 1295.1,2541.3 1296.3,2541.9 1297.6,2542.5 1298.8,2543 1300.1,2544 1301.3,2544.9 1302.6,2545.3 1303.8,2545.3 1305.1,2545.8 1306.3,2547.1 1307.6,2547.8 1308.8,2548.2 1310,2549.2 1311.3,2550 1312.5,2550.5 1313.8,2551.6 1315,2552.7 1316.3,2553.9 1317.5,2554.9 1318.8,2554.9 1320,2555.1 1321.3,2555.7 1322.5,2556.3 1323.8,2556.6 1325,2556.8 1326.3,2557 1327.5,2557.5 1328.8,2558.4 1330,2559.4 1331.3,2560.7 1332.5,2561 1333.8,2559.7 1335,2558.8 1336.3,2559.3 1337.5,2561 1338.8,2562.3 1340,2562.3 1341.3,2562.3 1342.5,2562.8 1343.8,2563.4 1345,2563.6 1346.3,2563.6 1347.5,2563.6 1348.8,2563.6 1350,2564.2 1351.3,2565.3 1352.5,2565.9 1353.8,2565.6 1355,2565.7 1356.3,2566.4 1357.5,2566.8 1358.8,2566.4 1360,2566.1 1361.3,2566.8 1362.5,2567.8 1363.8,2568.4 1365,2568.7 1366.3,2569 1367.5,2569.7 1368.8,2570.1 1370,2569.9 1371.3,2569.9 1372.5,2570.1 1373.8,2570 1375,2570.3 1376.3,2570.7 1377.5,2570.8 1378.8,2571.4 1380,2572.3 1381.2,2572.3 1382.5,2572.1 1383.7,2572.2 1385,2572.4 1386.2,2572.8 1387.5,2573.3 1388.7,2573.3 1390,2573.1 1391.2,2573.6 1392.5,2574.7 1393.7,2575.2 1395,2574.7 1396.2,2574.3 1397.5,2574.4 1398.7,2575.1 1400,2575.9 1401.2,2576.1 1402.5,2575.7 1403.7,2575.1 1405,2574.7 1406.2,2575.3 1407.5,2576.3 1408.7,2576.6 1410,2576.7 1411.2,2576.8 1412.5,2576.9 1413.7,2576.9 1415,2577.4 1416.2,2578 1417.5,2578.8 1418.7,2579.2 1420,2578.9 1421.2,2578.8 1422.5,2579.3 1423.7,2579.9 1425,2579.7 1426.2,2579.4 1427.5,2579.9 1428.7,2580.5 1430,2580.6 1431.2,2580.4 1432.5,2580.6 1433.7,2580.6 1435,2580.8 1436.2,2581.2 1437.5,2581.7 1438.7,2582.1 1440,2582.2 1441.2,2582 1442.5,2581.9 1443.7,2582 1445,2582.2 1446.2,2582.4 1447.5,2582.5 1448.7,2582.5 1450,2582.8 1451.2,2583.1 1452.5,2583.8 1453.7,2584.5 1454.9,2584.8 1456.2,2584.7 1457.4,2584.5 1458.7,2584.6 1459.9,2584.5 1461.2,2584 1462.4,2583.8 1463.7,2584.3 1464.9,2585.1 1466.2,2585.5 1467.4,2585.7 1468.7,2585.7 1469.9,2585.5 1471.2,2585 1472.4,2584.8 1473.7,2584.9 1474.9,2585.6 1476.2,2586.1 1477.4,2586 1478.7,2586 1479.9,2586.2 1481.2,2586.5 1482.4,2586.5 1483.7,2586.3 1484.9,2586.1 1486.2,2586.2 1487.4,2587.1 1488.7,2587.6 1489.9,2587.5 1491.2,2587.4 1492.4,2587.2 1493.7,2587.1 1494.9,2587.2 1496.2,2587.2 1497.4,2587.1 1498.7,2587.1 1499.9,2587.8 1501.2,2588.7 1502.4,2588.8 1503.7,2588.4 1504.9,2588.1 1506.2,2587.7 1507.4,2587.2 1508.7,2586.7 1509.9,2586.6 1511.2,2587 1512.4,2587.3 1513.7,2587.5 1514.9,2587.8 1516.2,2588.4 1517.4,2588.6 1518.7,2588.7 1519.9,2588.8 1521.2,2589.2 1522.4,2589.6 1523.7,2589.9 1524.9,2589.9 1526.1,2589.3 1527.4,2589.1 1528.6,2589.8 1529.9,2590.2 1531.1,2589.7 1532.4,2589.5 1533.6,2589.7 1534.9,2589.3 1536.1,2588.8 1537.4,2588.9 1538.6,2589.3 1539.9,2589.2 1541.1,2589.3 1542.4,2590 1543.6,2590.4 1544.9,2590 1546.1,2589.1 1547.4,2589 1548.6,2589.8 1549.9,2590.5 1551.1,2590.3 1552.4,2589.7 1553.6,2589.6 1554.9,2589.6 1556.1,2589.5 1557.4,2589.8 1558.6,2590.3 1559.9,2590.4 1561.1,2589.9 1562.4,2589.1 1563.6,2588.9 1564.9,2590 1566.1,2591.1 1567.4,2590.9 1568.6,2589.8 1569.9,2589.3 1571.1,2589.4 1572.4,2589.7 1573.6,2590.3 1574.9,2591 1576.1,2591.1 1577.4,2590.2 1578.6,2589.5 1579.9,2589.6 1581.1,2589.6 1582.4,2589.4 1583.6,2589.4 1584.9,2590.2 1586.1,2590.9 1587.4,2591.3 1588.6,2590.7 1589.9,2589.6 1591.1,2589.2 1592.4,2589.5 1593.6,2590.1 1594.9,2590.4 1596.1,2590.2 1597.3,2590.5 1598.6,2590.9 1599.8,2590.8 1601.1,2590.9 1602.3,2590.8 1603.6,2590.3 1604.8,2590 1606.1,2589.9 1607.3,2589.5 1608.6,2589.8 1609.8,2590.7 1611.1,2591.2 1612.3,2591.6 1613.6,2592.1 1614.8,2591.7 1616.1,2591 1617.3,2590.8 1618.6,2591.3 1619.8,2591.9 1621.1,2592 1622.3,2591.7 1623.6,2591.5 1624.8,2591.4 1626.1,2591.1 1627.3,2591 1628.6,2591.4 1629.8,2591.9 1631.1,2592.3 1632.3,2592.4 1633.6,2592.3 1634.8,2592.1 1636.1,2592.2 1637.3,2592.1 1638.6,2591.8 1639.8,2591.7 1641.1,2591.5 1642.3,2591.2 1643.6,2591.4 1644.8,2591.5 1646.1,2591.2 1647.3,2590.9 1648.6,2590.8 1649.8,2590.7 1651.1,2590.8 1652.3,2591.2 1653.6,2591.4 1654.8,2591.2 1656.1,2591.2 1657.3,2591.7 1658.6,2592 1659.8,2592.2 1661.1,2592.6 1662.3,2592.5 1663.6,2592.4 1664.8,2592.8 1666.1,2592.7 1667.3,2592 1668.5,2591.5 1669.8,2591.7 1671,2592.2 1672.3,2592.1 1673.5,2591.9 1674.8,2591.7 1676,2591.9 1677.3,2592.3 1678.5,2592.9 1679.8,2593.6 1681,2593.8 1682.3,2593.5 1683.5,2593.1 1684.8,2592.7 1686,2592.3 1687.3,2592 1688.5,2592 1689.8,2592.1 1691,2592.6 1692.3,2593.1 1693.5,2593.3 1694.8,2593.2 1696,2592.8 1697.3,2592.4 1698.5,2592.4 1699.8,2592.6 1701,2592.7 1702.3,2593.1 1703.5,2593.5 1704.8,2593.6 1706,2593.3 1707.3,2592.7 1708.5,2592.4 1709.8,2592.3 1711,2592.4 1712.3,2592.6 1713.5,2593.1 1714.8,2593.6 1716,2593.7 1717.3,2594 1718.5,2594.2 1719.8,2593.9 1721,2594.1 1722.3,2594.6 1723.5,2594.6 1724.8,2593.5 1726,2592.6 1727.3,2593.2 1728.5,2593.9 1729.8,2594.1 1731,2594.7 1732.3,2595.2 1733.5,2594.6 1734.8,2593.7 1736,2593.5 1737.3,2593.7 1738.5,2593.8 1739.7,2593.9 1741,2594 1742.2,2594.2 1743.5,2594.4 1744.7,2594.7 1746,2594.4 1747.2,2593.8 1748.5,2593.8 1749.7,2594.5 1751,2595.3 1752.2,2595.4 1753.5,2595.1 1754.7,2594.6 1756,2594.3 1757.2,2594.4 1758.5,2595 1759.7,2595.4 1761,2595.5 1762.2,2595.2 1763.5,2595 1764.7,2595.3 1766,2595.7 1767.2,2595.6 1768.5,2595.4 1769.7,2595.2 1771,2595.2 1772.2,2595.3 1773.5,2595 1774.7,2594.6 1776,2594.8 1777.2,2595 1778.5,2595.2 1779.7,2595.1 1781,2594.8 1782.2,2594.7 1783.5,2595.1 1784.7,2595.7 1786,2595.7 1787.2,2595.8 1788.5,2596.1 1789.7,2596.1 1791,2595.7 1792.2,2595.4 1793.5,2595.4 1794.7,2595 1796,2594.7 1797.2,2595.1 1798.5,2595.6 1799.7,2595.7 1801,2595.1 1802.2,2595.1 1803.5,2595.6 1804.7,2596.2 1806,2596.5 1807.2,2596.1 1808.5,2595.8 1809.7,2596.1" fill="none" stroke="#0505a5" stroke-width="6.2" stroke-linejoin="round"/>
<path d="M305.7 1905.5H1813.5" stroke="#111" stroke-width="4.6"/>
<path d="M1811.2 1905.5V2654.4" stroke="#111" stroke-width="4.6"/>
<path d="M305.7 2654.4H1813.5" stroke="#111" stroke-width="4.6"/>
<path d="M308 1905.5V2656.7" stroke="#111" stroke-width="4.6"/>
<path d="M308 2654.4v9 M401.9 2654.4v7.5 M495.9 2654.4v9 M589.9 2654.4v7.5 M683.8 2654.4v9 M777.8 2654.4v7.5 M871.7 2654.4v9 M965.6 2654.4v7.5 M1059.6 2654.4v9 M1153.5 2654.4v7.5 M1247.5 2654.4v9 M1341.5 2654.4v7.5 M1435.4 2654.4v9 M1529.3 2654.4v7.5 M1623.3 2654.4v9 M1717.2 2654.4v7.5 M1811.2 2654.4v9 M308 1994.5h-8 M308 2082.4h-8 M308 2170.3h-8 M308 2258.2h-8 M308 2346.1h-8 M308 2434h-8 M308 2521.9h-8 M308 2609.8h-8" stroke="#111" stroke-width="3.5"/>
<text x="308" y="2703.5" font-size="46.5" font-weight="bold" text-anchor="middle" textLength="91.6" lengthAdjust="spacingAndGlyphs">-800</text>
<text x="495.9" y="2703.5" font-size="46.5" font-weight="bold" text-anchor="middle" textLength="91.6" lengthAdjust="spacingAndGlyphs">-600</text>
<text x="683.8" y="2703.5" font-size="46.5" font-weight="bold" text-anchor="middle" textLength="91.6" lengthAdjust="spacingAndGlyphs">-400</text>
<text x="871.7" y="2703.5" font-size="46.5" font-weight="bold" text-anchor="middle" textLength="91.6" lengthAdjust="spacingAndGlyphs">-200</text>
<text x="1059.6" y="2703.5" font-size="46.5" font-weight="bold" text-anchor="middle" textLength="25" lengthAdjust="spacingAndGlyphs">0</text>
<text x="1247.5" y="2703.5" font-size="46.5" font-weight="bold" text-anchor="middle" textLength="75" lengthAdjust="spacingAndGlyphs">200</text>
<text x="1435.4" y="2703.5" font-size="46.5" font-weight="bold" text-anchor="middle" textLength="75" lengthAdjust="spacingAndGlyphs">400</text>
<text x="1623.3" y="2703.5" font-size="46.5" font-weight="bold" text-anchor="middle" textLength="75" lengthAdjust="spacingAndGlyphs">600</text>
<text x="1811.2" y="2703.5" font-size="46.5" font-weight="bold" text-anchor="middle" textLength="75" lengthAdjust="spacingAndGlyphs">800</text>
<text x="1058.7" y="2764" font-size="75" font-weight="bold" text-anchor="middle" textLength="291" lengthAdjust="spacingAndGlyphs">Time (ns)</text>
<g transform="translate(276,2280.5) rotate(-90)">
<text x="0" y="0" font-size="72" font-weight="bold" text-anchor="middle" textLength="422" lengthAdjust="spacingAndGlyphs">Intensity(a.u.)</text>
</g>
<text x="180" y="1990" font-size="103" textLength="114" lengthAdjust="spacingAndGlyphs">(c)</text>
<text x="1128" y="2425.5" font-size="42" font-weight="bold" text-anchor="middle" textLength="130.5" lengthAdjust="spacingAndGlyphs">-163ns-</text>
<rect x="848" y="1912.3" width="940" height="310" fill="#fff" stroke="none"/>
<clipPath id="icc"><rect x="848" y="1912.3" width="940" height="310"/></clipPath>
<g clip-path="url(#icc)">
<path d="M903.1 2171L905.3 2000M906.9 2002L911.1 2171M977.5 2171L980 1973.7M981.6 1975.7L986.4 2171M1054.3 2171L1056.5 1997M1058.1 1999L1062.4 2171M1127.8 2171L1130 2003M1131.6 2005L1135.7 2171M1201.3 2171L1203.5 2002M1205.1 2004L1209.2 2171M1272.9 2171L1275.1 2003M1276.7 2005L1280.8 2171M1346.4 2171L1348.6 2002M1350.2 2004L1354.3 2171M1419.9 2171L1422.1 2005M1423.7 2007L1427.8 2171M1493.3 2171L1495.5 2003M1497.1 2005L1501.2 2171M1566.8 2171L1569 2005M1570.6 2007L1574.7 2171M1640.3 2171L1642.5 2003M1644.1 2005L1648.2 2171M1712.5 2171L1714.7 2005M1716.3 2007L1720.4 2171M1783 2171L1785.2 2003M1786.8 2005L1790.9 2171" fill="none" stroke="#6868d4" stroke-width="3.0" stroke-dasharray="30 16 20 12 26 18"/>
<polygon points="850.5,2181.7 851.2,2183.1 851.8,2184.1 852.5,2182.9 853.2,2180.8 853.8,2181.7 854.5,2182.9 855.1,2184.5 855.8,2183.6 856.5,2184.8 857.1,2180.9 857.8,2184.2 858.5,2182.6 859.1,2183.7 859.8,2184.5 860.5,2184.7 861.1,2183.4 861.8,2184.9 862.4,2182.8 863.1,2183 863.8,2182.2 864.4,2184.6 865.1,2184.7 865.8,2184.7 866.4,2182.7 867.1,2184.8 867.8,2183.6 868.4,2184.4 869.1,2184.6 869.7,2184.1 870.4,2184.9 871.1,2181.8 871.7,2184.1 872.4,2181 873.1,2182.8 873.7,2179.3 874.4,2184.1 875.1,2183.6 875.7,2183.8 876.4,2184.8 877,2184.1 877.7,2184 878.4,2184.8 879,2181.8 879.7,2180.7 880.4,2184.5 881,2180.5 881.7,2180.7 882.4,2183.3 883,2184.4 883.7,2182.4 884.3,2184.5 885,2182.4 885.7,2183.9 886.3,2181 887,2183.7 887.7,2184 888.3,2182 889,2183.3 889.7,2182.3 890.3,2182.8 891,2182.6 891.6,2182.4 892.3,2182.8 893,2179.6 893.6,2178.9 894.3,2181.5 895,2181.1 895.6,2180.4 896.3,2180.6 897,2178.1 897.6,2177.4 898.3,2176.9 898.9,2176.5 899.6,2177.1 900.3,2176 900.9,2173.4 901.6,2171.3 902.3,2165.9 902.9,2161.1 902.9,2178.3 902.3,2184.1 901.6,2189.5 900.9,2190.8 900.3,2190.5 899.6,2193.1 898.9,2195.5 898.3,2194.1 897.6,2197.2 897,2195.8 896.3,2197.2 895.6,2199.1 895,2196.2 894.3,2199.5 893.6,2198.5 893,2197.7 892.3,2200.1 891.6,2198.2 891,2198.8 890.3,2204.5 889.7,2197.9 889,2199.4 888.3,2198.9 887.7,2201.4 887,2198.8 886.3,2198.8 885.7,2199.4 885,2199 884.3,2202.1 883.7,2200.1 883,2198.7 882.4,2198.7 881.7,2200.8 881,2201.2 880.4,2201.5 879.7,2201.6 879,2199.1 878.4,2199.9 877.7,2199.3 877,2200 876.4,2200 875.7,2201.1 875.1,2199.6 874.4,2200.1 873.7,2199.5 873.1,2203.6 872.4,2201.3 871.7,2200.1 871.1,2204.9 870.4,2200 869.7,2199.2 869.1,2200.7 868.4,2200.7 867.8,2199.3 867.1,2201 866.4,2200.1 865.8,2199.1 865.1,2202.4 864.4,2199.6 863.8,2199 863.1,2203.4 862.4,2201.4 861.8,2204.4 861.1,2205.7 860.5,2199.9 859.8,2200.2 859.1,2199.4 858.5,2203.5 857.8,2200.3 857.1,2199.2 856.5,2200 855.8,2200.5 855.1,2200.3 854.5,2199.9 853.8,2201.2 853.2,2199.7 852.5,2201.6 851.8,2201.3 851.2,2199.8 850.5,2199.6" fill="#0505a5"/>
<polygon points="911.6,2161.5 912.2,2162.9 912.9,2164.6 913.5,2166.7 914.2,2167.5 914.9,2169.3 915.5,2170.1 916.2,2171 916.9,2172.4 917.5,2171.7 918.2,2172.7 918.8,2173.5 919.5,2174.7 920.2,2171.9 920.8,2171.3 921.5,2174 922.2,2176.3 922.8,2176.4 923.5,2174.6 924.2,2177.5 924.8,2174.9 925.5,2177.8 926.1,2177.9 926.8,2176.2 927.5,2179.1 928.1,2179 928.8,2179.4 929.5,2179 930.1,2180.1 930.8,2178.5 931.5,2178.1 932.1,2176.8 932.8,2180.7 933.4,2180.6 934.1,2179.5 934.8,2179.7 935.4,2181.7 936.1,2181.2 936.8,2181.7 937.4,2180.1 938.1,2179.7 938.8,2182.1 939.4,2180.8 940.1,2181 940.7,2182.3 941.4,2179.5 942.1,2182.9 942.7,2182.1 943.4,2181.3 944.1,2183.1 944.7,2183.1 945.4,2182.6 946.1,2182.5 946.7,2182.9 947.4,2181.7 948,2182.6 948.7,2182.4 949.4,2182.5 950,2181.7 950.7,2183.3 951.4,2179.7 952,2183 952.7,2182 953.4,2182.6 954,2184 954.7,2181.5 955.3,2183.8 956,2183.7 956.7,2182.5 957.3,2182.7 958,2180.5 958.7,2180.4 959.3,2181.2 960,2182.8 960.7,2182.7 961.3,2183.1 962,2180.7 962.6,2183.4 963.3,2181.9 964,2182.1 964.6,2182.7 965.3,2183.1 966,2181.2 966.6,2179.1 967.3,2180.2 968,2181.1 968.6,2178.4 969.3,2181.6 969.9,2180.9 970.6,2177.6 971.3,2179 971.9,2179.6 972.6,2177.8 973.3,2174.4 973.9,2176.2 974.6,2174.4 975.3,2172 975.9,2169.6 976.6,2167.7 977.2,2162.3 977.2,2177.5 976.6,2185.4 975.9,2186 975.3,2188.8 974.6,2191.5 973.9,2191.6 973.3,2193.7 972.6,2194.1 971.9,2196 971.3,2196 970.6,2196 969.9,2196.4 969.3,2197.8 968.6,2196.8 968,2196.5 967.3,2196.9 966.6,2197.1 966,2198.1 965.3,2199.8 964.6,2197.6 964,2198.6 963.3,2200.3 962.6,2198 962,2203.2 961.3,2198.8 960.7,2199.4 960,2201.2 959.3,2198.6 958.7,2200.2 958,2199.8 957.3,2200.4 956.7,2199.6 956,2200.4 955.3,2199.7 954.7,2199.3 954,2203.1 953.4,2198.3 952.7,2200.1 952,2200.6 951.4,2200 950.7,2200.7 950,2200.9 949.4,2198.6 948.7,2199.1 948,2198.1 947.4,2199.2 946.7,2199.2 946.1,2198.6 945.4,2197.9 944.7,2201.1 944.1,2197.8 943.4,2197.4 942.7,2197.6 942.1,2200.8 941.4,2198.6 940.7,2197.5 940.1,2197 939.4,2197 938.8,2197 938.1,2199.1 937.4,2198.3 936.8,2198.2 936.1,2196.1 935.4,2196.9 934.8,2197.2 934.1,2197.3 933.4,2196.7 932.8,2196.2 932.1,2199.7 931.5,2195.3 930.8,2195.4 930.1,2196 929.5,2194.8 928.8,2193.9 928.1,2194.1 927.5,2194.1 926.8,2193.1 926.1,2194.6 925.5,2194.2 924.8,2192.2 924.2,2192.4 923.5,2192.1 922.8,2195.2 922.2,2194.1 921.5,2191.3 920.8,2191.1 920.2,2192.3 919.5,2191.3 918.8,2189.4 918.2,2188.7 917.5,2188.7 916.9,2187.2 916.2,2188.7 915.5,2187.9 914.9,2184.7 914.2,2184.8 913.5,2183.2 912.9,2184.3 912.2,2182.7 911.6,2180.4" fill="#0505a5"/>
<polygon points="986.5,2156.4 987.2,2162.2 987.9,2163.8 988.5,2165.3 989.2,2167.1 989.9,2167.9 990.5,2167.1 991.2,2168.3 991.8,2168.6 992.5,2166.2 993.2,2169.6 993.8,2172.3 994.5,2172.3 995.2,2173.8 995.8,2171.6 996.5,2171.9 997.2,2173.6 997.8,2174.6 998.5,2173.9 999.1,2175.8 999.8,2176 1000.5,2176.9 1001.1,2177.8 1001.8,2177.5 1002.5,2176.3 1003.1,2177 1003.8,2177.4 1004.5,2177.4 1005.1,2178.9 1005.8,2178.3 1006.4,2177.6 1007.1,2178.3 1007.8,2179.9 1008.4,2179.7 1009.1,2176 1009.8,2178.6 1010.4,2179.5 1011.1,2180.5 1011.8,2179.7 1012.4,2180.3 1013.1,2181.2 1013.7,2179.7 1014.4,2178.6 1015.1,2180.5 1015.7,2179.5 1016.4,2181.3 1017.1,2180.9 1017.7,2180.4 1018.4,2182.1 1019.1,2179.6 1019.7,2180.6 1020.4,2182.1 1021,2180.5 1021.7,2182.1 1022.4,2183.3 1023,2182.9 1023.7,2181.4 1024.4,2181.4 1025,2183.4 1025.7,2178.3 1026.4,2183.2 1027,2181.3 1027.7,2180.8 1028.3,2181.8 1029,2181.6 1029.7,2181.3 1030.3,2180.2 1031,2182.8 1031.7,2184 1032.3,2179.9 1033,2180.1 1033.7,2181.8 1034.3,2183.7 1035,2183.3 1035.6,2181.2 1036.3,2181 1037,2182.6 1037.6,2181.5 1038.3,2180.9 1039,2183.2 1039.6,2179.5 1040.3,2183.2 1041,2183.4 1041.6,2181.1 1042.3,2183 1042.9,2178.6 1043.6,2180.5 1044.3,2181.5 1044.9,2180.4 1045.6,2180.7 1046.3,2181.3 1046.9,2177.7 1047.6,2180.4 1048.3,2178.4 1048.9,2179.9 1049.6,2176.9 1050.2,2176.2 1050.9,2175.7 1051.6,2174.8 1052.2,2172.3 1052.9,2168.8 1053.6,2165 1053.6,2182.6 1052.9,2185.5 1052.2,2192.9 1051.6,2191.1 1050.9,2192.9 1050.2,2196.8 1049.6,2195.6 1048.9,2198.5 1048.3,2195.7 1047.6,2196.2 1046.9,2195.9 1046.3,2197.7 1045.6,2197 1044.9,2200.3 1044.3,2200.6 1043.6,2197.6 1042.9,2199 1042.3,2198.1 1041.6,2199.4 1041,2199.3 1040.3,2198.8 1039.6,2198.3 1039,2200.7 1038.3,2200.9 1037.6,2201.6 1037,2198.4 1036.3,2202 1035.6,2200.2 1035,2201.2 1034.3,2199.3 1033.7,2200.1 1033,2200.8 1032.3,2199.4 1031.7,2199.6 1031,2198.5 1030.3,2200.7 1029.7,2198.2 1029,2201.6 1028.3,2202.1 1027.7,2198.1 1027,2200.7 1026.4,2201.2 1025.7,2198.1 1025,2199.5 1024.4,2199.3 1023.7,2198.9 1023,2198 1022.4,2197.9 1021.7,2197.6 1021,2199.3 1020.4,2197.7 1019.7,2198.5 1019.1,2199 1018.4,2197.7 1017.7,2197.7 1017.1,2197.1 1016.4,2196.8 1015.7,2198.3 1015.1,2196.7 1014.4,2196.9 1013.7,2198 1013.1,2196.4 1012.4,2197.7 1011.8,2196.3 1011.1,2198.9 1010.4,2199.1 1009.8,2195.4 1009.1,2197.4 1008.4,2198.7 1007.8,2196.6 1007.1,2196.3 1006.4,2196 1005.8,2196.2 1005.1,2197.2 1004.5,2194.4 1003.8,2193.9 1003.1,2195.1 1002.5,2194 1001.8,2198.2 1001.1,2192.5 1000.5,2193 999.8,2192.6 999.1,2190.9 998.5,2191.9 997.8,2190.5 997.2,2189.6 996.5,2189.3 995.8,2190.2 995.2,2190.7 994.5,2190.7 993.8,2188.5 993.2,2187.3 992.5,2188.4 991.8,2186 991.2,2184.7 990.5,2186.4 989.9,2187.1 989.2,2183.6 988.5,2183.8 987.9,2180.2 987.2,2179.1 986.5,2174.8" fill="#0505a5"/>
<polygon points="1062.8,2161.2 1063.5,2161.9 1064.2,2166.4 1064.8,2167.6 1065.5,2168.6 1066.2,2167.2 1066.8,2168.7 1067.5,2170.1 1068.2,2170.7 1068.8,2171.6 1069.5,2171.3 1070.1,2168.9 1070.8,2172.3 1071.5,2172 1072.1,2174.4 1072.8,2171.2 1073.5,2173.8 1074.1,2174.3 1074.8,2175.9 1075.5,2175.1 1076.1,2174.7 1076.8,2177 1077.4,2178.5 1078.1,2177 1078.8,2179.1 1079.4,2174.5 1080.1,2177 1080.8,2178.3 1081.4,2179.1 1082.1,2177.9 1082.8,2178.7 1083.4,2177.4 1084.1,2181 1084.7,2180.3 1085.4,2179 1086.1,2181.3 1086.7,2180 1087.4,2178 1088.1,2180.4 1088.7,2181 1089.4,2180.2 1090.1,2179 1090.7,2181.7 1091.4,2181.2 1092,2181.2 1092.7,2180.1 1093.4,2179.4 1094,2181.5 1094.7,2181.8 1095.4,2179.8 1096,2181.5 1096.7,2183.2 1097.4,2180.3 1098,2182.7 1098.7,2182.8 1099.3,2180.6 1100,2181.5 1100.7,2183.7 1101.3,2182.5 1102,2180.8 1102.7,2181 1103.3,2183.2 1104,2182.6 1104.7,2183.2 1105.3,2181.8 1106,2183 1106.6,2183.2 1107.3,2183.3 1108,2182 1108.6,2179.9 1109.3,2183.7 1110,2181.8 1110.6,2182.4 1111.3,2182.6 1112,2182.8 1112.6,2180.5 1113.3,2179.6 1113.9,2181.9 1114.6,2183.5 1115.3,2180.8 1115.9,2182.7 1116.6,2181.2 1117.3,2181.7 1117.9,2180.6 1118.6,2181.1 1119.3,2179.8 1119.9,2179.7 1120.6,2180.3 1121.2,2181 1121.9,2180.4 1122.6,2177.4 1123.2,2175.3 1123.9,2177.1 1124.6,2176.2 1125.2,2173 1125.9,2172.4 1126.6,2168.4 1127.2,2164.7 1127.2,2181.2 1126.6,2186 1125.9,2191 1125.2,2193.1 1124.6,2193.8 1123.9,2196.5 1123.2,2194.9 1122.6,2195.2 1121.9,2195.9 1121.2,2196.9 1120.6,2196.2 1119.9,2196.6 1119.3,2200 1118.6,2199.8 1117.9,2198 1117.3,2202 1116.6,2197.6 1115.9,2200.7 1115.3,2198.6 1114.6,2200 1113.9,2198.6 1113.3,2200.8 1112.6,2199.5 1112,2200.4 1111.3,2198.9 1110.6,2198.7 1110,2200.3 1109.3,2202.6 1108.6,2198.7 1108,2199.5 1107.3,2199.2 1106.6,2198.5 1106,2198.3 1105.3,2200.2 1104.7,2200.5 1104,2199.1 1103.3,2198.9 1102.7,2199.6 1102,2198.8 1101.3,2199.9 1100.7,2198.5 1100,2197.9 1099.3,2199.8 1098.7,2198.1 1098,2197.7 1097.4,2200.6 1096.7,2200.5 1096,2199.6 1095.4,2198.5 1094.7,2197.4 1094,2198.2 1093.4,2198.9 1092.7,2197 1092,2199.4 1091.4,2200 1090.7,2197.7 1090.1,2197.8 1089.4,2196.8 1088.7,2200.9 1088.1,2198.4 1087.4,2196.6 1086.7,2198.9 1086.1,2197.7 1085.4,2196.6 1084.7,2195.3 1084.1,2196 1083.4,2198.1 1082.8,2196.4 1082.1,2196.7 1081.4,2194.8 1080.8,2194.3 1080.1,2198.6 1079.4,2196.1 1078.8,2193.6 1078.1,2197.5 1077.4,2194.2 1076.8,2193.2 1076.1,2192.5 1075.5,2192.1 1074.8,2196.4 1074.1,2191.3 1073.5,2191.9 1072.8,2193.5 1072.1,2191.7 1071.5,2191.6 1070.8,2189.8 1070.1,2190.4 1069.5,2190.6 1068.8,2189.1 1068.2,2188.1 1067.5,2190.8 1066.8,2186.4 1066.2,2190.3 1065.5,2184.2 1064.8,2184.2 1064.2,2182.7 1063.5,2179.8 1062.8,2178.3" fill="#0505a5"/>
<polygon points="1135.8,2159.2 1136.5,2163.3 1137.2,2164.8 1137.8,2167.2 1138.5,2167.5 1139.2,2169.4 1139.8,2170.7 1140.5,2169.5 1141.2,2169.4 1141.8,2169.5 1142.5,2172.6 1143.1,2173 1143.8,2174 1144.5,2171.7 1145.1,2173.7 1145.8,2175.1 1146.5,2175.2 1147.1,2175.3 1147.8,2176.6 1148.5,2176.5 1149.1,2177.7 1149.8,2175.2 1150.4,2178.1 1151.1,2175.1 1151.8,2178 1152.4,2174.9 1153.1,2178.9 1153.8,2178.6 1154.4,2178.8 1155.1,2177.3 1155.8,2180.5 1156.4,2180.5 1157.1,2176.7 1157.7,2181 1158.4,2177.8 1159.1,2181 1159.7,2179.4 1160.4,2177.6 1161.1,2174.2 1161.7,2177.3 1162.4,2181.9 1163.1,2179.6 1163.7,2181.5 1164.4,2180.4 1165,2180.9 1165.7,2180 1166.4,2180.4 1167,2182.1 1167.7,2180.8 1168.4,2180.2 1169,2183.1 1169.7,2182.2 1170.4,2181 1171,2183 1171.7,2181.6 1172.3,2182.4 1173,2182.7 1173.7,2181.5 1174.3,2183.4 1175,2183.8 1175.7,2182.5 1176.3,2179.5 1177,2183.9 1177.7,2182.7 1178.3,2183.2 1179,2181.3 1179.6,2183.8 1180.3,2182.4 1181,2181.1 1181.6,2184.3 1182.3,2184.1 1183,2183.9 1183.6,2182.6 1184.3,2181.2 1184.9,2183 1185.6,2183.9 1186.3,2182.7 1186.9,2178.6 1187.6,2180.5 1188.3,2182.6 1188.9,2177.4 1189.6,2181.8 1190.3,2182.5 1190.9,2182.6 1191.6,2181.6 1192.2,2182 1192.9,2181.6 1193.6,2178 1194.2,2177.9 1194.9,2177.3 1195.6,2178.7 1196.2,2179.1 1196.9,2178.9 1197.6,2177.1 1198.2,2176.2 1198.9,2172.9 1199.5,2171 1200.2,2169.1 1200.9,2159.9 1200.9,2181.2 1200.2,2185.3 1199.5,2191.1 1198.9,2189.9 1198.2,2191.3 1197.6,2194.2 1196.9,2195.3 1196.2,2196.1 1195.6,2196.4 1194.9,2198.3 1194.2,2196.5 1193.6,2196.8 1192.9,2198 1192.2,2197.3 1191.6,2198 1190.9,2197.5 1190.3,2199.3 1189.6,2198.6 1188.9,2198.9 1188.3,2198.1 1187.6,2200.2 1186.9,2200.9 1186.3,2198.1 1185.6,2201.2 1184.9,2198.4 1184.3,2200.1 1183.6,2200.5 1183,2199.6 1182.3,2200.3 1181.6,2199 1181,2199.8 1180.3,2201.4 1179.6,2199.5 1179,2198.2 1178.3,2199 1177.7,2198.2 1177,2199.4 1176.3,2199.2 1175.7,2199.4 1175,2198.4 1174.3,2200.4 1173.7,2198.4 1173,2198.8 1172.3,2198.7 1171.7,2197.6 1171,2198.6 1170.4,2200.5 1169.7,2201.1 1169,2199.5 1168.4,2200.9 1167.7,2198.4 1167,2197 1166.4,2197.4 1165.7,2197.7 1165,2198.4 1164.4,2197.8 1163.7,2197.4 1163.1,2198.4 1162.4,2198.1 1161.7,2196.3 1161.1,2198.5 1160.4,2197.1 1159.7,2197.5 1159.1,2198.2 1158.4,2196.7 1157.7,2198.4 1157.1,2195 1156.4,2194.8 1155.8,2195.4 1155.1,2195.4 1154.4,2194.9 1153.8,2195 1153.1,2194.7 1152.4,2194.1 1151.8,2194.1 1151.1,2194.9 1150.4,2193.8 1149.8,2194.5 1149.1,2193.1 1148.5,2191.6 1147.8,2192.4 1147.1,2194.1 1146.5,2191.5 1145.8,2193.2 1145.1,2190.2 1144.5,2190.1 1143.8,2189.9 1143.1,2188.6 1142.5,2189.3 1141.8,2187.4 1141.2,2186.5 1140.5,2185.6 1139.8,2185.7 1139.2,2187.2 1138.5,2183.9 1137.8,2184.3 1137.2,2181.4 1136.5,2180.3 1135.8,2177" fill="#0505a5"/>
<polygon points="1209.5,2161.5 1210.2,2159.3 1210.8,2165.1 1211.5,2167.4 1212.2,2167.3 1212.8,2169.5 1213.5,2170.2 1214.1,2170.8 1214.8,2170.7 1215.5,2169.6 1216.1,2173 1216.8,2172.4 1217.5,2173.8 1218.1,2174 1218.8,2172 1219.5,2175.4 1220.1,2174.1 1220.8,2175.8 1221.4,2175.1 1222.1,2174.5 1222.8,2177.2 1223.4,2174.6 1224.1,2178.4 1224.8,2176 1225.4,2175.5 1226.1,2176.9 1226.8,2177.4 1227.4,2177.2 1228.1,2179.9 1228.7,2178.2 1229.4,2179.8 1230.1,2180.3 1230.7,2178.9 1231.4,2177.5 1232.1,2181 1232.7,2180.6 1233.4,2178.9 1234.1,2180 1234.7,2178 1235.4,2181 1236,2180.5 1236.7,2180.3 1237.4,2182.5 1238,2179.4 1238.7,2181.7 1239.4,2182.6 1240,2180.1 1240.7,2178.5 1241.4,2180 1242,2181.8 1242.7,2182.2 1243.3,2182.6 1244,2180.1 1244.7,2179 1245.3,2181 1246,2182.9 1246.7,2180.7 1247.3,2183.8 1248,2183.5 1248.7,2183.4 1249.3,2183.6 1250,2183.8 1250.6,2183.6 1251.3,2182.2 1252,2182.1 1252.6,2180.8 1253.3,2182 1254,2181.9 1254.6,2180 1255.3,2183.4 1256,2182.7 1256.6,2183.1 1257.3,2183.4 1257.9,2181.2 1258.6,2182.3 1259.3,2183.3 1259.9,2178.2 1260.6,2183 1261.3,2180.3 1261.9,2182.7 1262.6,2182.9 1263.3,2181.5 1263.9,2181.4 1264.6,2180.5 1265.2,2180.7 1265.9,2180.8 1266.6,2177.3 1267.2,2179 1267.9,2177.2 1268.6,2175.3 1269.2,2170.6 1269.9,2174.3 1270.6,2173.7 1271.2,2172.4 1271.9,2167.3 1272.5,2159.8 1272.5,2179.9 1271.9,2184.3 1271.2,2187.7 1270.6,2189.7 1269.9,2193.6 1269.2,2193.7 1268.6,2193.6 1267.9,2195.6 1267.2,2194.8 1266.6,2198.9 1265.9,2198.1 1265.2,2195.8 1264.6,2196.6 1263.9,2199.9 1263.3,2199.7 1262.6,2197.4 1261.9,2197.6 1261.3,2199 1260.6,2198.4 1259.9,2199.1 1259.3,2198.5 1258.6,2201.1 1257.9,2201 1257.3,2199.4 1256.6,2198.2 1256,2199.1 1255.3,2200.2 1254.6,2199.8 1254,2201.2 1253.3,2199 1252.6,2198.3 1252,2199.2 1251.3,2202.2 1250.6,2203.9 1250,2201.7 1249.3,2199.6 1248.7,2197.9 1248,2199.8 1247.3,2202.4 1246.7,2198.4 1246,2198.6 1245.3,2198.9 1244.7,2199.2 1244,2197.9 1243.3,2202.1 1242.7,2201.1 1242,2197.8 1241.4,2197.4 1240.7,2199.8 1240,2197.9 1239.4,2197 1238.7,2201.2 1238,2198.7 1237.4,2197.2 1236.7,2196.9 1236,2199 1235.4,2198.1 1234.7,2197 1234.1,2196 1233.4,2196.3 1232.7,2196.6 1232.1,2200.2 1231.4,2196.8 1230.7,2197 1230.1,2199 1229.4,2195 1228.7,2197.1 1228.1,2196.5 1227.4,2195 1226.8,2197.1 1226.1,2193.9 1225.4,2193.6 1224.8,2193.7 1224.1,2193.2 1223.4,2195.2 1222.8,2193 1222.1,2193.8 1221.4,2191.8 1220.8,2191.7 1220.1,2191.5 1219.5,2193.1 1218.8,2192 1218.1,2191.4 1217.5,2191.2 1216.8,2189.3 1216.1,2187.9 1215.5,2188.7 1214.8,2188.7 1214.1,2186.7 1213.5,2185.7 1212.8,2187 1212.2,2185.5 1211.5,2182.4 1210.8,2182.5 1210.2,2180 1209.5,2178.5" fill="#0505a5"/>
<polygon points="1281.2,2158.4 1281.8,2161.8 1282.5,2166.4 1283.2,2166.1 1283.8,2168 1284.5,2165.2 1285.2,2168 1285.8,2169.7 1286.5,2170.5 1287.1,2171.6 1287.8,2171.8 1288.5,2174.2 1289.1,2174.4 1289.8,2174.3 1290.5,2174.3 1291.1,2175.1 1291.8,2173.4 1292.5,2176.5 1293.1,2175.8 1293.8,2175.2 1294.4,2177.8 1295.1,2177.7 1295.8,2178.3 1296.4,2178.9 1297.1,2178.2 1297.8,2178.8 1298.4,2179.4 1299.1,2179.1 1299.8,2178.2 1300.4,2180.3 1301.1,2179.7 1301.7,2180.1 1302.4,2179.5 1303.1,2180.2 1303.7,2180.4 1304.4,2181.1 1305.1,2179.9 1305.7,2178.4 1306.4,2180.1 1307.1,2181.6 1307.7,2179.8 1308.4,2180.3 1309,2179.5 1309.7,2180.9 1310.4,2180.3 1311,2181.2 1311.7,2180.8 1312.4,2182.1 1313,2182.9 1313.7,2179.7 1314.4,2182.8 1315,2183.2 1315.7,2183.2 1316.3,2183.5 1317,2183.6 1317.7,2182.4 1318.3,2183.7 1319,2183.7 1319.7,2182.2 1320.3,2182.6 1321,2181.6 1321.6,2182.1 1322.3,2181.6 1323,2183.6 1323.6,2183.2 1324.3,2182.5 1325,2183.4 1325.6,2184 1326.3,2183 1327,2183.6 1327.6,2181.8 1328.3,2184.2 1328.9,2184.4 1329.6,2179.6 1330.3,2182.7 1330.9,2181 1331.6,2183.8 1332.3,2183.1 1332.9,2181.6 1333.6,2179.6 1334.3,2183.1 1334.9,2182.5 1335.6,2182.2 1336.2,2182.2 1336.9,2179.6 1337.6,2178.7 1338.2,2180 1338.9,2180 1339.6,2180.7 1340.2,2178.7 1340.9,2180.2 1341.6,2179 1342.2,2173.4 1342.9,2174.6 1343.5,2175.4 1344.2,2173.5 1344.9,2170.5 1345.5,2168 1346.2,2160.6 1346.2,2179.5 1345.5,2183.4 1344.9,2188.7 1344.2,2193.7 1343.5,2192.9 1342.9,2194.3 1342.2,2194.3 1341.6,2195.5 1340.9,2194.8 1340.2,2197 1339.6,2195.8 1338.9,2200.1 1338.2,2199.4 1337.6,2197.5 1336.9,2200.5 1336.2,2198.5 1335.6,2200.1 1334.9,2198 1334.3,2198.4 1333.6,2197.7 1332.9,2199.1 1332.3,2201.2 1331.6,2199.5 1330.9,2199.4 1330.3,2198.3 1329.6,2199.9 1328.9,2201.1 1328.3,2199.8 1327.6,2201.5 1327,2199.1 1326.3,2198.3 1325.6,2199.2 1325,2200.7 1324.3,2199.7 1323.6,2200.1 1323,2200.6 1322.3,2198.2 1321.6,2200 1321,2198.8 1320.3,2198 1319.7,2198.6 1319,2199.4 1318.3,2198.1 1317.7,2197.8 1317,2197.8 1316.3,2199 1315.7,2200.9 1315,2197.6 1314.4,2198.4 1313.7,2197.5 1313,2200.7 1312.4,2197.3 1311.7,2197.4 1311,2199 1310.4,2196.8 1309.7,2197.1 1309,2201.8 1308.4,2197.1 1307.7,2198.6 1307.1,2198.4 1306.4,2199.8 1305.7,2195.9 1305.1,2198.4 1304.4,2196.7 1303.7,2196.7 1303.1,2195.5 1302.4,2195.3 1301.7,2195.1 1301.1,2200.6 1300.4,2194.6 1299.8,2194.4 1299.1,2196.9 1298.4,2196.4 1297.8,2194.3 1297.1,2195.3 1296.4,2195.2 1295.8,2195.5 1295.1,2192.8 1294.4,2193.6 1293.8,2192.5 1293.1,2192.6 1292.5,2193 1291.8,2196.5 1291.1,2190.7 1290.5,2190.9 1289.8,2189.3 1289.1,2189.3 1288.5,2192.3 1287.8,2192 1287.1,2187.7 1286.5,2187.8 1285.8,2186.6 1285.2,2187.7 1284.5,2187.7 1283.8,2183.5 1283.2,2183.1 1282.5,2185.7 1281.8,2180.6 1281.2,2179.2" fill="#0505a5"/>
<polygon points="1354.8,2162.1 1355.5,2162.7 1356.2,2165.3 1356.8,2167.4 1357.5,2168.6 1358.1,2169 1358.8,2170.9 1359.5,2169.5 1360.1,2172.5 1360.8,2170.2 1361.5,2171.3 1362.1,2172.9 1362.8,2172.4 1363.5,2171.6 1364.1,2175.7 1364.8,2172.5 1365.4,2175.4 1366.1,2174.7 1366.8,2173 1367.4,2177 1368.1,2177.8 1368.8,2178.2 1369.4,2178.3 1370.1,2178.5 1370.8,2179 1371.4,2178.7 1372.1,2177.8 1372.7,2179.5 1373.4,2178.5 1374.1,2175.3 1374.7,2179.1 1375.4,2179 1376.1,2179.8 1376.7,2176.9 1377.4,2180.8 1378.1,2178.6 1378.7,2180.1 1379.4,2179.1 1380,2179.6 1380.7,2179 1381.4,2180.6 1382,2179.6 1382.7,2181.5 1383.4,2182.6 1384,2182.3 1384.7,2181.7 1385.4,2180.1 1386,2182.6 1386.7,2182.2 1387.3,2182.9 1388,2181 1388.7,2180.8 1389.3,2181.5 1390,2183 1390.7,2182.5 1391.3,2182.9 1392,2182.7 1392.7,2182.5 1393.3,2182.3 1394,2181.4 1394.6,2182.5 1395.3,2181.5 1396,2183 1396.6,2184.1 1397.3,2183.2 1398,2177.6 1398.6,2182.5 1399.3,2184.2 1400,2182.2 1400.6,2183.3 1401.3,2182.6 1401.9,2182.5 1402.6,2183.7 1403.3,2183.4 1403.9,2181.2 1404.6,2182.2 1405.3,2183.2 1405.9,2181.3 1406.6,2178.6 1407.3,2183.3 1407.9,2183.4 1408.6,2181.3 1409.2,2178.1 1409.9,2181.3 1410.6,2182.3 1411.2,2179.6 1411.9,2180.4 1412.6,2179.3 1413.2,2179.4 1413.9,2180.4 1414.6,2179.7 1415.2,2178.8 1415.9,2177 1416.5,2174.6 1417.2,2174.6 1417.9,2172.7 1418.5,2170.4 1419.2,2166.5 1419.9,2156.7 1419.9,2176.1 1419.2,2184 1418.5,2185.6 1417.9,2191.5 1417.2,2192.5 1416.5,2193.8 1415.9,2192.8 1415.2,2194.5 1414.6,2196.6 1413.9,2195.6 1413.2,2198.5 1412.6,2196.8 1411.9,2197 1411.2,2199.9 1410.6,2198.5 1409.9,2198.1 1409.2,2198 1408.6,2200.8 1407.9,2199.3 1407.3,2200.6 1406.6,2198.3 1405.9,2198.6 1405.3,2205.5 1404.6,2198.6 1403.9,2199.4 1403.3,2201 1402.6,2201.2 1401.9,2199.5 1401.3,2198.7 1400.6,2201.9 1400,2200.6 1399.3,2200.1 1398.6,2199.7 1398,2199.5 1397.3,2199.4 1396.6,2199.4 1396,2199.4 1395.3,2198.4 1394.6,2199.9 1394,2198.8 1393.3,2198.5 1392.7,2203.1 1392,2200 1391.3,2200.1 1390.7,2198.4 1390,2198.2 1389.3,2198.4 1388.7,2198.5 1388,2197.9 1387.3,2200 1386.7,2198.5 1386,2199.4 1385.4,2199.2 1384.7,2200.4 1384,2198.8 1383.4,2201.1 1382.7,2197.9 1382,2196.6 1381.4,2198.6 1380.7,2196.6 1380,2196.1 1379.4,2198.2 1378.7,2198.1 1378.1,2195.7 1377.4,2197 1376.7,2196.8 1376.1,2196.1 1375.4,2198.4 1374.7,2197 1374.1,2195.6 1373.4,2195.9 1372.7,2194.3 1372.1,2194.3 1371.4,2194.7 1370.8,2196.8 1370.1,2196.8 1369.4,2195.2 1368.8,2194.7 1368.1,2195.6 1367.4,2192.8 1366.8,2193 1366.1,2193.5 1365.4,2197.8 1364.8,2190.1 1364.1,2190.7 1363.5,2190 1362.8,2189.2 1362.1,2189.7 1361.5,2189.1 1360.8,2187.4 1360.1,2189.8 1359.5,2186.2 1358.8,2185.2 1358.1,2186 1357.5,2183.7 1356.8,2183.7 1356.2,2180.8 1355.5,2179.6 1354.8,2178.1" fill="#0505a5"/>
<polygon points="1427.8,2155.1 1428.5,2162.3 1429.2,2164.7 1429.8,2166.3 1430.5,2166.5 1431.1,2165.2 1431.8,2169.9 1432.5,2170.5 1433.1,2171.7 1433.8,2170.5 1434.5,2170.9 1435.1,2173.5 1435.8,2172.4 1436.5,2174.3 1437.1,2175.1 1437.8,2174.3 1438.4,2174.3 1439.1,2175.4 1439.8,2175.8 1440.4,2177.3 1441.1,2176.8 1441.8,2177.4 1442.4,2178.4 1443.1,2177.8 1443.8,2175.9 1444.4,2179.3 1445.1,2178.8 1445.7,2178.2 1446.4,2177.4 1447.1,2179.9 1447.7,2174.6 1448.4,2180.6 1449.1,2179.2 1449.7,2180.7 1450.4,2181 1451.1,2180.7 1451.7,2177.9 1452.4,2178.2 1453,2179.7 1453.7,2181.3 1454.4,2180.7 1455,2181.4 1455.7,2182.1 1456.4,2178.7 1457,2182.3 1457.7,2181 1458.3,2181.8 1459,2181.8 1459.7,2182.2 1460.3,2178.4 1461,2181.7 1461.7,2181.5 1462.3,2180.5 1463,2182.5 1463.7,2181.2 1464.3,2183.4 1465,2182.3 1465.6,2181 1466.3,2182.3 1467,2183 1467.6,2182.6 1468.3,2178.7 1469,2180.4 1469.6,2183.3 1470.3,2181.7 1471,2182.5 1471.6,2181.1 1472.3,2183.8 1472.9,2182.7 1473.6,2183.6 1474.3,2184.1 1474.9,2183.5 1475.6,2180.8 1476.3,2184 1476.9,2181.8 1477.6,2182.3 1478.3,2183.8 1478.9,2182.9 1479.6,2183.6 1480.2,2182.8 1480.9,2181.4 1481.6,2181.2 1482.2,2181 1482.9,2182.6 1483.6,2182.1 1484.2,2180 1484.9,2178.9 1485.6,2181.7 1486.2,2180.9 1486.9,2179.4 1487.5,2177.8 1488.2,2177.7 1488.9,2176.8 1489.5,2177.7 1490.2,2175.4 1490.9,2174.6 1491.5,2173.2 1492.2,2169.7 1492.9,2163 1492.9,2181 1492.2,2185.1 1491.5,2188.1 1490.9,2192 1490.2,2192.9 1489.5,2194.7 1488.9,2195.3 1488.2,2196 1487.5,2195.5 1486.9,2198.9 1486.2,2196.5 1485.6,2199.9 1484.9,2198.9 1484.2,2196.7 1483.6,2197.6 1482.9,2199.9 1482.2,2199.5 1481.6,2198.9 1480.9,2200.3 1480.2,2198 1479.6,2200 1478.9,2199.8 1478.3,2198.7 1477.6,2199.5 1476.9,2198.4 1476.3,2199 1475.6,2199 1474.9,2200 1474.3,2199.8 1473.6,2202 1472.9,2200.8 1472.3,2198.7 1471.6,2198.5 1471,2199.1 1470.3,2200.1 1469.6,2199.6 1469,2200.1 1468.3,2199.2 1467.6,2198.1 1467,2198.3 1466.3,2200.4 1465.6,2198.6 1465,2199.2 1464.3,2198.4 1463.7,2198.6 1463,2201 1462.3,2200.8 1461.7,2199.2 1461,2197.4 1460.3,2198.5 1459.7,2200.3 1459,2197 1458.3,2200 1457.7,2199 1457,2197.4 1456.4,2198.2 1455.7,2199.1 1455,2197.5 1454.4,2197.5 1453.7,2196.1 1453,2197 1452.4,2199.5 1451.7,2196.8 1451.1,2198.1 1450.4,2195.6 1449.7,2199.2 1449.1,2196.5 1448.4,2197.6 1447.7,2197.9 1447.1,2199.7 1446.4,2196.4 1445.7,2198.5 1445.1,2193.7 1444.4,2194.6 1443.8,2193.2 1443.1,2192.9 1442.4,2194.4 1441.8,2192.6 1441.1,2193.6 1440.4,2193.9 1439.8,2191.4 1439.1,2192.2 1438.4,2191.1 1437.8,2192.5 1437.1,2190.9 1436.5,2191.6 1435.8,2189.4 1435.1,2189.5 1434.5,2188.2 1433.8,2188.8 1433.1,2189.7 1432.5,2185.6 1431.8,2186.5 1431.1,2185 1430.5,2188.4 1429.8,2181.5 1429.2,2180 1428.5,2179 1427.8,2175" fill="#0505a5"/>
<polygon points="1501.5,2158.9 1502.1,2162.3 1502.8,2161.9 1503.5,2163.4 1504.1,2167.2 1504.8,2166.6 1505.5,2167.3 1506.1,2168.4 1506.8,2170.2 1507.5,2172.1 1508.1,2170.8 1508.8,2173 1509.4,2172.9 1510.1,2172.6 1510.8,2173.7 1511.4,2174.1 1512.1,2176 1512.8,2174.8 1513.4,2174.7 1514.1,2175.8 1514.8,2177.3 1515.4,2178.1 1516.1,2176.1 1516.7,2176.6 1517.4,2174.6 1518.1,2178.9 1518.7,2178.5 1519.4,2179 1520.1,2179.2 1520.7,2179.9 1521.4,2179.6 1522.1,2180.3 1522.7,2179.7 1523.4,2180.2 1524,2180.2 1524.7,2179 1525.4,2177.9 1526,2178.3 1526.7,2181.6 1527.4,2181.4 1528,2179.4 1528.7,2181.8 1529.4,2178.5 1530,2181.8 1530.7,2178.8 1531.3,2182.4 1532,2181.6 1532.7,2181.8 1533.3,2182.9 1534,2182.6 1534.7,2183.2 1535.3,2181.4 1536,2181.6 1536.7,2181.8 1537.3,2183.4 1538,2182.7 1538.6,2178.6 1539.3,2182.8 1540,2183.1 1540.6,2182.1 1541.3,2180.8 1542,2182.4 1542.6,2181.7 1543.3,2182.4 1544,2182.2 1544.6,2183.5 1545.3,2182.6 1545.9,2183.9 1546.6,2182.5 1547.3,2180.2 1547.9,2184.2 1548.6,2181.2 1549.3,2181.2 1549.9,2183.3 1550.6,2181.8 1551.3,2182.2 1551.9,2181.1 1552.6,2183.2 1553.2,2180.3 1553.9,2181.8 1554.6,2182.2 1555.2,2182.9 1555.9,2180.7 1556.6,2180.7 1557.2,2179.9 1557.9,2181 1558.6,2181.4 1559.2,2181.2 1559.9,2179.4 1560.5,2179.9 1561.2,2180.3 1561.9,2175.8 1562.5,2176.9 1563.2,2175.4 1563.9,2176.4 1564.5,2172.5 1565.2,2171.4 1565.9,2167.5 1566.5,2157.2 1566.5,2180.5 1565.9,2184.4 1565.2,2187.5 1564.5,2189.8 1563.9,2194.8 1563.2,2192.8 1562.5,2195.1 1561.9,2195.1 1561.2,2194.8 1560.5,2196.9 1559.9,2196.3 1559.2,2200.2 1558.6,2200.5 1557.9,2196.5 1557.2,2199.9 1556.6,2198.4 1555.9,2200.1 1555.2,2199.9 1554.6,2198.7 1553.9,2198.9 1553.2,2199.7 1552.6,2200.3 1551.9,2199.8 1551.3,2199.8 1550.6,2199.3 1549.9,2198.9 1549.3,2204.2 1548.6,2198.9 1547.9,2200.4 1547.3,2200.6 1546.6,2199.3 1545.9,2199.4 1545.3,2199.1 1544.6,2202.1 1544,2199.5 1543.3,2198.7 1542.6,2199 1542,2198.1 1541.3,2201.9 1540.6,2201.2 1540,2202.8 1539.3,2199.6 1538.6,2198.1 1538,2199.9 1537.3,2199.1 1536.7,2199.7 1536,2199.3 1535.3,2200.4 1534.7,2200.8 1534,2197.9 1533.3,2202 1532.7,2198.9 1532,2198.3 1531.3,2199.2 1530.7,2197.6 1530,2197.3 1529.4,2199.1 1528.7,2200.2 1528,2198.8 1527.4,2198 1526.7,2197.1 1526,2198.8 1525.4,2199 1524.7,2195.6 1524,2195.8 1523.4,2196.1 1522.7,2196.9 1522.1,2195.4 1521.4,2196.4 1520.7,2195.4 1520.1,2194.7 1519.4,2196.2 1518.7,2194 1518.1,2193.5 1517.4,2198.4 1516.7,2197 1516.1,2194.9 1515.4,2193.2 1514.8,2192.5 1514.1,2192.3 1513.4,2192.8 1512.8,2192.9 1512.1,2192.8 1511.4,2190.9 1510.8,2190.6 1510.1,2189.5 1509.4,2190.6 1508.8,2192.2 1508.1,2189.6 1507.5,2187.8 1506.8,2187.3 1506.1,2189.2 1505.5,2186.6 1504.8,2186 1504.1,2186.9 1503.5,2185.8 1502.8,2180.9 1502.1,2181.7 1501.5,2178.9" fill="#0505a5"/>
<polygon points="1575.1,2160 1575.8,2164 1576.5,2165.6 1577.1,2165.2 1577.8,2169.2 1578.5,2170 1579.1,2169.1 1579.8,2170 1580.5,2172.6 1581.1,2170 1581.8,2172.6 1582.4,2173.3 1583.1,2172.6 1583.8,2172.9 1584.4,2174.8 1585.1,2174.5 1585.8,2176.5 1586.4,2176.3 1587.1,2174.4 1587.7,2175.9 1588.4,2177.7 1589.1,2176.6 1589.7,2177.4 1590.4,2178.5 1591.1,2175.8 1591.7,2179.5 1592.4,2177.3 1593.1,2177.6 1593.7,2179.1 1594.4,2179.4 1595,2179.8 1595.7,2178.1 1596.4,2180 1597,2179 1597.7,2178.7 1598.4,2180.8 1599,2180.1 1599.7,2178.8 1600.4,2180.3 1601,2181.8 1601.7,2179.7 1602.3,2181.8 1603,2178.6 1603.7,2180.5 1604.3,2181.2 1605,2181 1605.7,2178.3 1606.3,2182.6 1607,2180.1 1607.7,2182.8 1608.3,2181.6 1609,2180 1609.6,2183 1610.3,2182.1 1611,2182.7 1611.6,2180.7 1612.3,2182.1 1613,2183.7 1613.6,2183.7 1614.3,2183.3 1615,2183.6 1615.6,2182.9 1616.3,2182.5 1616.9,2183.4 1617.6,2183 1618.3,2183.5 1618.9,2183.2 1619.6,2183.3 1620.3,2183.5 1620.9,2183.1 1621.6,2180.2 1622.3,2183.1 1622.9,2183.3 1623.6,2184.1 1624.2,2183.9 1624.9,2181.9 1625.6,2181.8 1626.2,2181.9 1626.9,2181 1627.6,2180.7 1628.2,2179.3 1628.9,2182.1 1629.6,2182.6 1630.2,2181.5 1630.9,2182.5 1631.5,2180.3 1632.2,2177.8 1632.9,2180.2 1633.5,2179.3 1634.2,2179.1 1634.9,2180.2 1635.5,2177.8 1636.2,2174.1 1636.9,2177.2 1637.5,2175.1 1638.2,2174.6 1638.8,2168.9 1639.5,2163.6 1640.2,2160.2 1640.2,2177.9 1639.5,2182.4 1638.8,2187.8 1638.2,2189.4 1637.5,2193.1 1636.9,2194.7 1636.2,2193.6 1635.5,2194.5 1634.9,2194.4 1634.2,2198.2 1633.5,2196 1632.9,2198.6 1632.2,2198 1631.5,2197.6 1630.9,2196.9 1630.2,2198.6 1629.6,2200.2 1628.9,2198.7 1628.2,2198.5 1627.6,2198.9 1626.9,2199.8 1626.2,2202 1625.6,2199.4 1624.9,2199.5 1624.2,2201.8 1623.6,2199.3 1622.9,2200 1622.3,2198.6 1621.6,2199.2 1620.9,2198.5 1620.3,2202 1619.6,2198.4 1618.9,2199 1618.3,2202.7 1617.6,2199.3 1616.9,2200 1616.3,2199.4 1615.6,2198.1 1615,2199.1 1614.3,2199 1613.6,2200.1 1613,2199.5 1612.3,2201.3 1611.6,2198.4 1611,2197.6 1610.3,2199.1 1609.6,2198.5 1609,2198.4 1608.3,2200.3 1607.7,2200.5 1607,2198 1606.3,2199.5 1605.7,2199.1 1605,2198.7 1604.3,2199.1 1603.7,2198.2 1603,2197.9 1602.3,2197.2 1601.7,2197.2 1601,2196.2 1600.4,2197.9 1599.7,2197.6 1599,2196 1598.4,2197.8 1597.7,2199.3 1597,2196.2 1596.4,2197.7 1595.7,2196.8 1595,2199 1594.4,2197.9 1593.7,2196.1 1593.1,2194.1 1592.4,2195.1 1591.7,2198.3 1591.1,2193.3 1590.4,2193.6 1589.7,2195.3 1589.1,2197 1588.4,2192.2 1587.7,2193.8 1587.1,2194 1586.4,2192.9 1585.8,2191 1585.1,2191.5 1584.4,2192 1583.8,2189.5 1583.1,2190.2 1582.4,2189.5 1581.8,2187.9 1581.1,2188.9 1580.5,2189.8 1579.8,2188.3 1579.1,2188.1 1578.5,2184.9 1577.8,2185.3 1577.1,2184.4 1576.5,2181.6 1575.8,2180.3 1575.1,2177.3" fill="#0505a5"/>
<polygon points="1648.8,2161.6 1649.5,2165.2 1650.1,2166.6 1650.8,2166.2 1651.5,2167 1652.1,2169.5 1652.8,2169.8 1653.4,2166.6 1654.1,2171.9 1654.8,2172.6 1655.4,2170.7 1656.1,2172.5 1656.8,2174.8 1657.4,2174.5 1658.1,2173.5 1658.8,2175.4 1659.4,2172.6 1660.1,2176.6 1660.7,2176.6 1661.4,2175.2 1662.1,2176.3 1662.7,2178.4 1663.4,2176.2 1664.1,2175.5 1664.7,2177.1 1665.4,2175.3 1666.1,2179.7 1666.7,2179.9 1667.4,2174.1 1668,2179.1 1668.7,2177.6 1669.4,2179.6 1670,2178.9 1670.7,2179.9 1671.4,2181 1672,2179.3 1672.7,2181.7 1673.4,2178.1 1674,2180.3 1674.7,2180.1 1675.3,2180 1676,2181.1 1676.7,2182.3 1677.3,2177.9 1678,2178.9 1678.7,2181.5 1679.3,2181.5 1680,2182.6 1680.7,2182.7 1681.3,2180.5 1682,2180.8 1682.6,2181.9 1683.3,2181.3 1684,2182.9 1684.6,2180 1685.3,2183.5 1686,2181.7 1686.6,2182.1 1687.3,2182.5 1688,2181.5 1688.6,2182.3 1689.3,2182.2 1689.9,2183.2 1690.6,2183.9 1691.3,2182.7 1691.9,2179.8 1692.6,2182.7 1693.3,2181.9 1693.9,2183.3 1694.6,2183 1695.3,2183 1695.9,2182.7 1696.6,2178.5 1697.2,2181.9 1697.9,2182 1698.6,2181.7 1699.2,2182.5 1699.9,2183.4 1700.6,2183 1701.2,2181.9 1701.9,2179.8 1702.6,2181.6 1703.2,2181.5 1703.9,2182.3 1704.5,2177.7 1705.2,2179.1 1705.9,2179.2 1706.5,2179.4 1707.2,2179.6 1707.9,2175 1708.5,2177.7 1709.2,2176.2 1709.9,2175.3 1710.5,2173.8 1711.2,2167.1 1711.8,2166.5 1711.8,2182.2 1711.2,2188.4 1710.5,2188.4 1709.9,2191.2 1709.2,2192 1708.5,2193.4 1707.9,2196.2 1707.2,2194.4 1706.5,2199 1705.9,2195.4 1705.2,2195.9 1704.5,2196.6 1703.9,2197.1 1703.2,2197.7 1702.6,2197.7 1701.9,2198.7 1701.2,2197.3 1700.6,2200.6 1699.9,2199.2 1699.2,2198 1698.6,2199.9 1697.9,2200.1 1697.2,2198.1 1696.6,2201.9 1695.9,2200.8 1695.3,2201.5 1694.6,2198.5 1693.9,2198.8 1693.3,2198.3 1692.6,2198.4 1691.9,2201.1 1691.3,2201 1690.6,2198.6 1689.9,2202.2 1689.3,2198.2 1688.6,2200.1 1688,2199 1687.3,2201.8 1686.6,2200.3 1686,2197.9 1685.3,2199.5 1684.6,2198.7 1684,2200.5 1683.3,2198.5 1682.6,2198.9 1682,2198 1681.3,2197.3 1680.7,2201.5 1680,2198.8 1679.3,2197.7 1678.7,2198.7 1678,2198.1 1677.3,2197.7 1676.7,2198 1676,2196.9 1675.3,2196.6 1674.7,2198.1 1674,2198.5 1673.4,2197.3 1672.7,2196.8 1672,2195.6 1671.4,2195.5 1670.7,2196.6 1670,2195.3 1669.4,2196.1 1668.7,2198.3 1668,2196.7 1667.4,2194.8 1666.7,2194.5 1666.1,2195.5 1665.4,2194.8 1664.7,2196.8 1664.1,2194.8 1663.4,2194.8 1662.7,2193.7 1662.1,2194.5 1661.4,2194.4 1660.7,2194.4 1660.1,2192.6 1659.4,2194.1 1658.8,2192.7 1658.1,2189.9 1657.4,2190.4 1656.8,2190.5 1656.1,2189.2 1655.4,2192 1654.8,2187.9 1654.1,2187 1653.4,2186.6 1652.8,2187.1 1652.1,2185.8 1651.5,2184 1650.8,2183.6 1650.1,2185 1649.5,2185.4 1648.8,2179.9" fill="#0505a5"/>
<polygon points="1720.5,2159.5 1721.1,2163.3 1721.8,2165.7 1722.5,2166.3 1723.1,2164.1 1723.8,2168.7 1724.4,2169.3 1725.1,2169.6 1725.8,2170 1726.4,2172 1727.1,2173 1727.8,2173.8 1728.4,2173 1729.1,2173.7 1729.8,2173.5 1730.4,2173.7 1731.1,2173.1 1731.7,2175.9 1732.4,2175.9 1733.1,2176 1733.7,2176.6 1734.4,2178.1 1735.1,2177.4 1735.7,2178.5 1736.4,2178.7 1737.1,2176.5 1737.7,2178.1 1738.4,2179.5 1739,2176.9 1739.7,2179.6 1740.4,2178.9 1741,2179.6 1741.7,2180.1 1742.4,2180.2 1743,2176.1 1743.7,2179.6 1744.4,2181.5 1745,2180.8 1745.7,2180.9 1746.3,2180 1747,2182 1747.7,2180.3 1748.3,2180.9 1749,2181.2 1749.7,2181.7 1750.3,2182.5 1751,2177 1751.7,2182.3 1752.3,2181.6 1753,2182.4 1753.6,2179.8 1754.3,2182.6 1755,2181.7 1755.6,2181.3 1756.3,2181.1 1757,2181.4 1757.6,2183.2 1758.3,2182.9 1759,2183.5 1759.6,2183.3 1760.3,2183.3 1760.9,2182.4 1761.6,2180 1762.3,2181.3 1762.9,2181.4 1763.6,2180.5 1764.3,2183.5 1764.9,2183.4 1765.6,2183.9 1766.3,2180.6 1766.9,2184.2 1767.6,2182.6 1768.2,2183.4 1768.9,2183.7 1769.6,2183.5 1770.2,2183 1770.9,2182.8 1771.6,2182 1772.2,2180.3 1772.9,2181 1773.6,2182.1 1774.2,2181.1 1774.9,2179.2 1775.5,2181.3 1776.2,2176.1 1776.9,2178 1777.5,2177.5 1778.2,2175.5 1778.9,2178.1 1779.5,2177.3 1780.2,2175.9 1780.9,2171.2 1781.5,2171.3 1782.2,2166.8 1782.8,2160.3 1782.8,2176.4 1782.2,2182.7 1781.5,2188.5 1780.9,2192.2 1780.2,2191.4 1779.5,2194 1778.9,2193.9 1778.2,2194.5 1777.5,2195.5 1776.9,2196.4 1776.2,2196.7 1775.5,2196.7 1774.9,2196 1774.2,2198.3 1773.6,2197.8 1772.9,2199 1772.2,2200.9 1771.6,2197.7 1770.9,2199.2 1770.2,2199.9 1769.6,2202.1 1768.9,2201.2 1768.2,2200.7 1767.6,2198.5 1766.9,2202.7 1766.3,2199.5 1765.6,2200.9 1764.9,2198.6 1764.3,2199 1763.6,2199.2 1762.9,2198.9 1762.3,2198.6 1761.6,2202 1760.9,2199.1 1760.3,2198.2 1759.6,2201.4 1759,2199.5 1758.3,2200.4 1757.6,2198.9 1757,2199.5 1756.3,2199.5 1755.6,2198.6 1755,2198.9 1754.3,2199.2 1753.6,2197.4 1753,2198.6 1752.3,2198.3 1751.7,2199.6 1751,2200.3 1750.3,2197.1 1749.7,2197.5 1749,2198 1748.3,2197 1747.7,2196.5 1747,2201.6 1746.3,2196.2 1745.7,2196 1745,2197.6 1744.4,2196.2 1743.7,2196.9 1743,2199.5 1742.4,2196.3 1741.7,2195.2 1741,2199.4 1740.4,2196.7 1739.7,2198.2 1739,2195.3 1738.4,2194 1737.7,2194.9 1737.1,2195.7 1736.4,2193.2 1735.7,2194.5 1735.1,2192.7 1734.4,2193.1 1733.7,2194 1733.1,2193.5 1732.4,2193.9 1731.7,2192.2 1731.1,2191.3 1730.4,2194 1729.8,2192.2 1729.1,2192.8 1728.4,2190 1727.8,2188.7 1727.1,2187.8 1726.4,2189.4 1725.8,2188.2 1725.1,2187.5 1724.4,2185 1723.8,2184.4 1723.1,2183.6 1722.5,2183.9 1721.8,2181.5 1721.1,2181.4 1720.5,2175.2" fill="#0505a5"/>
<text x="1212" y="1957.5" font-size="44" font-weight="bold" textLength="580" lengthAdjust="spacingAndGlyphs">pump power=4.5 W, <tspan font-style="italic">f</tspan>=260 kHz</text>
</g>
<path d="M845.8 1912.3H1790.2" stroke="#3a3a3a" stroke-width="4.5"/>
<path d="M1788 1912.3V2222.3" stroke="#8a8a8a" stroke-width="4.5"/>
<path d="M845.8 2222.3H1790.2" stroke="#151515" stroke-width="4.5"/>
<path d="M848 1912.3V2224.6" stroke="#151515" stroke-width="4.5"/>
<path d="M848 2222.3v6 M965.5 2222.3v5 M1083 2222.3v6 M1200.5 2222.3v5 M1318 2222.3v6 M1435.5 2222.3v5 M1553 2222.3v6 M1670.5 2222.3v5 M1788 2222.3v6" stroke="#111" stroke-width="3"/>
<text x="848" y="2257.5" font-size="35" font-weight="bold" text-anchor="middle" textLength="52.7" lengthAdjust="spacingAndGlyphs">-20</text>
<text x="1083" y="2257.5" font-size="35" font-weight="bold" text-anchor="middle" textLength="52.7" lengthAdjust="spacingAndGlyphs">-10</text>
<text x="1318" y="2257.5" font-size="35" font-weight="bold" text-anchor="middle" textLength="19.8" lengthAdjust="spacingAndGlyphs">0</text>
<text x="1553" y="2257.5" font-size="35" font-weight="bold" text-anchor="middle" textLength="39.5" lengthAdjust="spacingAndGlyphs">10</text>
<text x="1788" y="2257.5" font-size="35" font-weight="bold" text-anchor="middle" textLength="39.5" lengthAdjust="spacingAndGlyphs">20</text>
<text x="1198.3" y="2280" font-size="50" font-weight="bold" textLength="116.3" lengthAdjust="spacingAndGlyphs">Time</text>
<text x="1339.5" y="2280" font-size="50" font-weight="bold" textLength="85.4" lengthAdjust="spacingAndGlyphs">(μs)</text>
</svg></body></html>
